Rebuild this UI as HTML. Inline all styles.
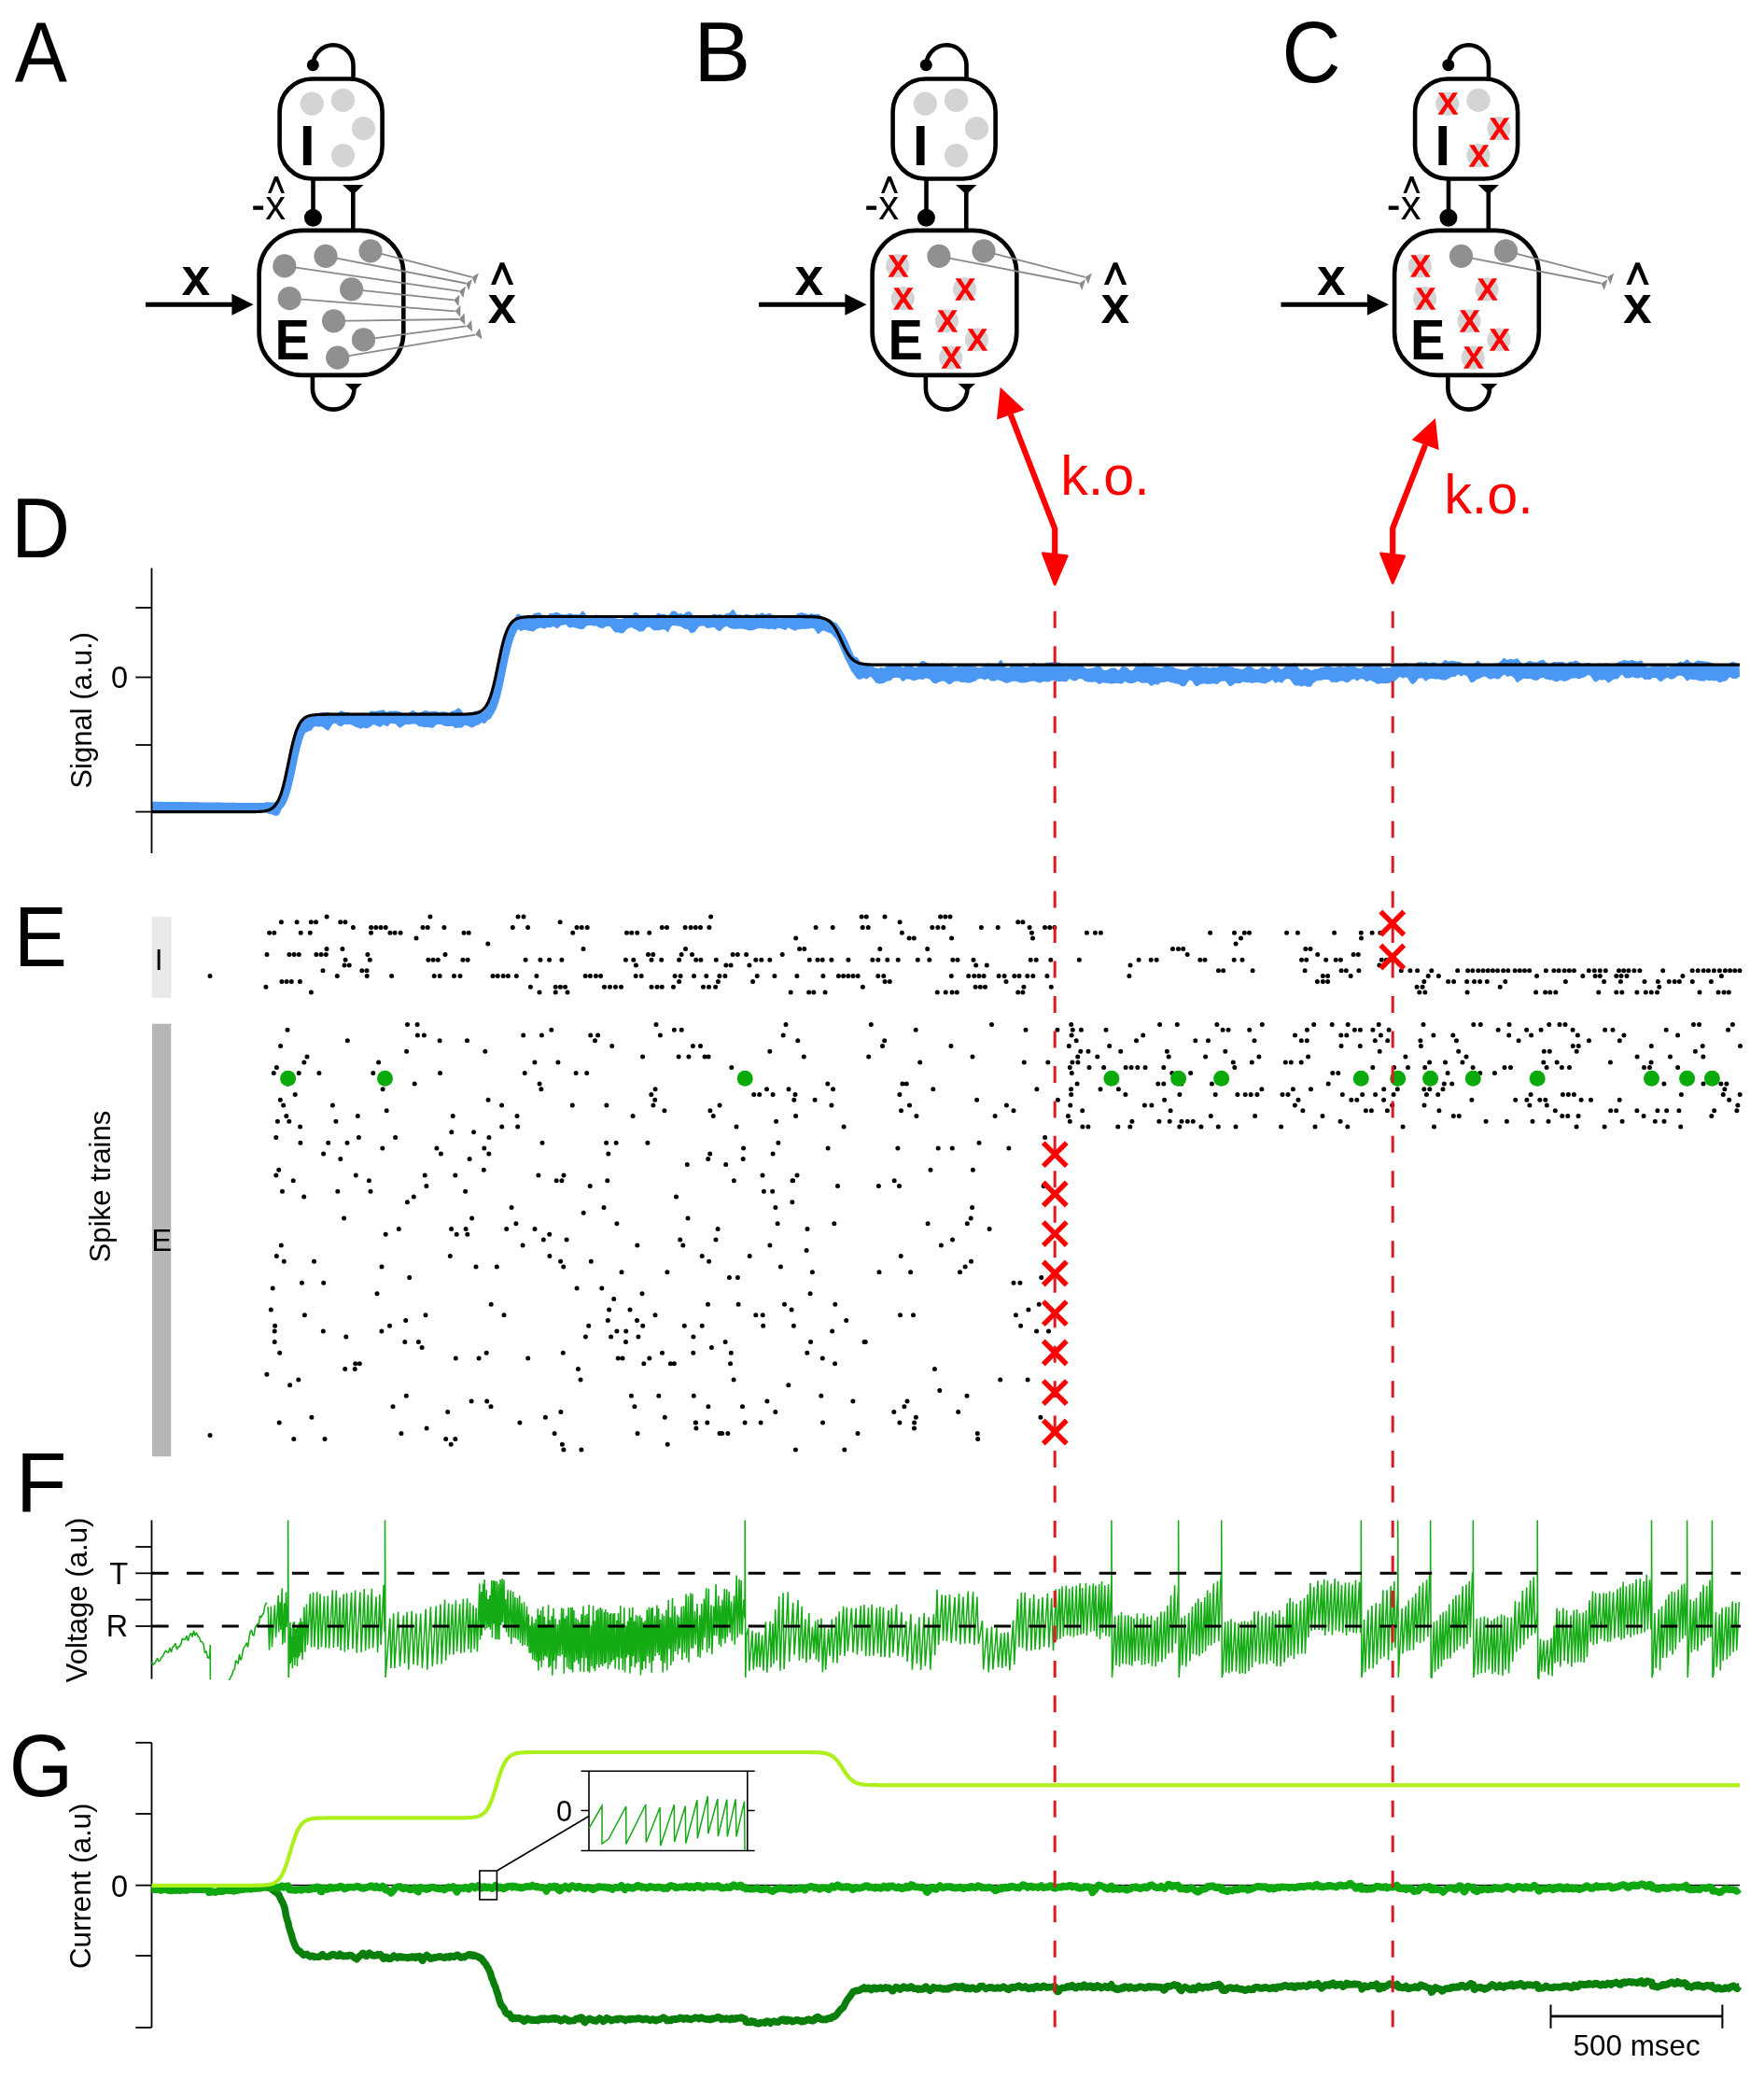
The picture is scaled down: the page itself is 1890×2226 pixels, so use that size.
<!DOCTYPE html><html><head><meta charset="utf-8"><title>figure</title><style>html,body{margin:0;padding:0;background:#fff;}svg{display:block;will-change:transform;}</style></head><body>
<svg width="1890" height="2226" viewBox="0 0 1890 2226" font-family="'Liberation Sans', sans-serif">
<rect width="1890" height="2226" fill="#fff"/>
<text transform="translate(15.7 86.8) scale(0.923 1)" font-size="91.4">A</text>
<text transform="translate(743.2 86.8) scale(1.000 1)" font-size="91.4">B</text>
<text transform="translate(1373.5 87.6) scale(0.933 1)" font-size="93.6">C</text>
<text transform="translate(12.1 597.4) scale(0.957 1)" font-size="91.4">D</text>
<text transform="translate(15.1 1034.9) scale(0.933 1)" font-size="91.4">E</text>
<text transform="translate(17 1618.9) scale(0.975 1)" font-size="91.4">F</text>
<text transform="translate(9.8 1923.8) scale(0.937 1)" font-size="94">G</text>
<g transform="translate(0 0)">
<rect x="299.6" y="84.5" width="110" height="107" rx="35" fill="none" stroke="#000" stroke-width="4.6"/>
<rect x="277.6" y="246.9" width="154.7" height="155" rx="46" fill="none" stroke="#000" stroke-width="4.6"/>
<path d="M378.5 84 V69.7 A21.5 21.5 0 0 0 335.5 69.7" fill="none" stroke="#000" stroke-width="4.6"/>
<circle cx="335.3" cy="69.7" r="6.5"/>
<path d="M335.5 193 V230" stroke="#000" stroke-width="4.6"/>
<circle cx="335.4" cy="233.3" r="9.5"/>
<path d="M378.3 205 V245" stroke="#000" stroke-width="4.6"/>
<path d="M367 198.1 H389.5 L378.3 208.5Z"/>
<path d="M334.9 403 V416.3 A22.3 22.3 0 0 0 379.5 416.3" fill="none" stroke="#000" stroke-width="4.6"/>
<path d="M369.7 411 H388 L378.8 419.5Z"/>
<path d="M156 326.3 H250" stroke="#000" stroke-width="4.9"/>
<path d="M248.4 314.8 L271.5 326.3 L248.4 337.8Z"/>
<text x="196.6" y="315" font-size="53.5" fill="#000" stroke="#000" stroke-width="2.2">x</text>
<path d="M525.9 305 535.9 281.3 540.2 281.3 550.2 305 545.2 305 538 287.9 530.9 305Z" fill="#000"/>
<text x="524.6" y="344.7" font-size="53.5" fill="#000" stroke="#000" stroke-width="2.2">x</text>
<rect x="271.2" y="220.5" width="10.9" height="4.3"/>
<path d="M287 207 294.1 189.1 297.8 189.1 304.9 207 301.4 207 295.9 194.1 290.5 207Z" fill="#000"/>
<text x="284.2" y="235.1" font-size="43.6" fill="#000">x</text>
<circle cx="334.3" cy="111.1" r="12.6" fill="#d4d4d4"/>
<circle cx="367.5" cy="107.4" r="12.6" fill="#d4d4d4"/>
<circle cx="389.5" cy="137.7" r="12.6" fill="#d4d4d4"/>
<circle cx="367.5" cy="166.6" r="12.6" fill="#d4d4d4"/>
<path d="M304.8 284.9 L491.9 311.9" stroke="#8a8a8a" stroke-width="1.8"/>
<path d="M491.9 311.9 L496.4 319.2 L498.8 306.8 Z" fill="#8a8a8a"/>
<path d="M349 274.4 L499.1 303.5" stroke="#8a8a8a" stroke-width="1.8"/>
<path d="M499.1 303.5 L502.3 311.1 L506.1 299.1 Z" fill="#8a8a8a"/>
<path d="M397 268.8 L505.7 296.8" stroke="#8a8a8a" stroke-width="1.8"/>
<path d="M505.7 296.8 L508.9 304.5 L512.9 292.5 Z" fill="#8a8a8a"/>
<path d="M376.6 309.8 L486.1 321.3" stroke="#8a8a8a" stroke-width="1.8"/>
<path d="M486.1 321.3 L491.3 328.2 L492.5 315.6 Z" fill="#8a8a8a"/>
<path d="M310.2 319.7 L487.6 333.3" stroke="#8a8a8a" stroke-width="1.8"/>
<path d="M487.6 333.3 L493.2 339.7 L493.4 327.1 Z" fill="#8a8a8a"/>
<path d="M357.5 343.8 L491.9 342" stroke="#8a8a8a" stroke-width="1.8"/>
<path d="M491.9 342 L498.3 347.9 L497.5 335.3 Z" fill="#8a8a8a"/>
<path d="M389.5 363.9 L499.6 349.4" stroke="#8a8a8a" stroke-width="1.8"/>
<path d="M499.6 349.4 L506 355.3 L505.2 342.7 Z" fill="#8a8a8a"/>
<path d="M361.7 383.2 L509.3 358.6" stroke="#8a8a8a" stroke-width="1.8"/>
<path d="M509.3 358.6 L516.5 363.6 L513.9 351.2 Z" fill="#8a8a8a"/>
<circle cx="304.8" cy="284.9" r="12.6" fill="#909090"/>
<circle cx="349" cy="274.4" r="12.6" fill="#909090"/>
<circle cx="397" cy="268.8" r="12.6" fill="#909090"/>
<circle cx="376.6" cy="309.8" r="12.6" fill="#909090"/>
<circle cx="310.2" cy="319.7" r="12.6" fill="#909090"/>
<circle cx="357.5" cy="343.8" r="12.6" fill="#909090"/>
<circle cx="389.5" cy="363.9" r="12.6" fill="#909090"/>
<circle cx="361.7" cy="383.2" r="12.6" fill="#909090"/>
<text x="320.8" y="177.4" font-size="61" font-weight="bold">I</text>
<text transform="translate(294.6 385.4) scale(0.926 1)" font-size="60.5" font-weight="bold">E</text>
</g>
<g transform="translate(657 0)">
<rect x="299.6" y="84.5" width="110" height="107" rx="35" fill="none" stroke="#000" stroke-width="4.6"/>
<rect x="277.6" y="246.9" width="154.7" height="155" rx="46" fill="none" stroke="#000" stroke-width="4.6"/>
<path d="M378.5 84 V69.7 A21.5 21.5 0 0 0 335.5 69.7" fill="none" stroke="#000" stroke-width="4.6"/>
<circle cx="335.3" cy="69.7" r="6.5"/>
<path d="M335.5 193 V230" stroke="#000" stroke-width="4.6"/>
<circle cx="335.4" cy="233.3" r="9.5"/>
<path d="M378.3 205 V245" stroke="#000" stroke-width="4.6"/>
<path d="M367 198.1 H389.5 L378.3 208.5Z"/>
<path d="M334.9 403 V416.3 A22.3 22.3 0 0 0 379.5 416.3" fill="none" stroke="#000" stroke-width="4.6"/>
<path d="M369.7 411 H388 L378.8 419.5Z"/>
<path d="M156 326.3 H250" stroke="#000" stroke-width="4.9"/>
<path d="M248.4 314.8 L271.5 326.3 L248.4 337.8Z"/>
<text x="196.6" y="315" font-size="53.5" fill="#000" stroke="#000" stroke-width="2.2">x</text>
<path d="M525.9 305 535.9 281.3 540.2 281.3 550.2 305 545.2 305 538 287.9 530.9 305Z" fill="#000"/>
<text x="524.6" y="344.7" font-size="53.5" fill="#000" stroke="#000" stroke-width="2.2">x</text>
<rect x="271.2" y="220.5" width="10.9" height="4.3"/>
<path d="M287 207 294.1 189.1 297.8 189.1 304.9 207 301.4 207 295.9 194.1 290.5 207Z" fill="#000"/>
<text x="284.2" y="235.1" font-size="43.6" fill="#000">x</text>
<circle cx="334.3" cy="111.1" r="12.6" fill="#d4d4d4"/>
<circle cx="367.5" cy="107.4" r="12.6" fill="#d4d4d4"/>
<circle cx="389.5" cy="137.7" r="12.6" fill="#d4d4d4"/>
<circle cx="367.5" cy="166.6" r="12.6" fill="#d4d4d4"/>
<path d="M349 274.4 L499.1 303.5" stroke="#8a8a8a" stroke-width="1.8"/>
<path d="M499.1 303.5 L502.3 311.1 L506.1 299.1 Z" fill="#8a8a8a"/>
<path d="M397 268.8 L505.7 296.8" stroke="#8a8a8a" stroke-width="1.8"/>
<path d="M505.7 296.8 L508.9 304.5 L512.9 292.5 Z" fill="#8a8a8a"/>
<circle cx="304.8" cy="284.9" r="12.6" fill="#d4d4d4"/>
<circle cx="349" cy="274.4" r="12.6" fill="#909090"/>
<circle cx="397" cy="268.8" r="12.6" fill="#909090"/>
<circle cx="376.6" cy="309.8" r="12.6" fill="#d4d4d4"/>
<circle cx="310.2" cy="319.7" r="12.6" fill="#d4d4d4"/>
<circle cx="357.5" cy="343.8" r="12.6" fill="#d4d4d4"/>
<circle cx="389.5" cy="363.9" r="12.6" fill="#d4d4d4"/>
<circle cx="361.7" cy="383.2" r="12.6" fill="#d4d4d4"/>
<text x="320.8" y="177.4" font-size="61" font-weight="bold">I</text>
<text transform="translate(294.6 385.4) scale(0.926 1)" font-size="60.5" font-weight="bold">E</text>
<text x="305.4" y="296" font-size="40.7" fill="#ff0000" text-anchor="middle" stroke="#ff0000" stroke-width="1.3">x</text>
<text x="377.2" y="320.9" font-size="40.7" fill="#ff0000" text-anchor="middle" stroke="#ff0000" stroke-width="1.3">x</text>
<text x="310.8" y="330.8" font-size="40.7" fill="#ff0000" text-anchor="middle" stroke="#ff0000" stroke-width="1.3">x</text>
<text x="358.1" y="354.9" font-size="40.7" fill="#ff0000" text-anchor="middle" stroke="#ff0000" stroke-width="1.3">x</text>
<text x="390.1" y="375" font-size="40.7" fill="#ff0000" text-anchor="middle" stroke="#ff0000" stroke-width="1.3">x</text>
<text x="362.3" y="394.3" font-size="40.7" fill="#ff0000" text-anchor="middle" stroke="#ff0000" stroke-width="1.3">x</text>
</g>
<g transform="translate(1216.5 0)">
<rect x="299.6" y="84.5" width="110" height="107" rx="35" fill="none" stroke="#000" stroke-width="4.6"/>
<rect x="277.6" y="246.9" width="154.7" height="155" rx="46" fill="none" stroke="#000" stroke-width="4.6"/>
<path d="M378.5 84 V69.7 A21.5 21.5 0 0 0 335.5 69.7" fill="none" stroke="#000" stroke-width="4.6"/>
<circle cx="335.3" cy="69.7" r="6.5"/>
<path d="M335.5 193 V230" stroke="#000" stroke-width="4.6"/>
<circle cx="335.4" cy="233.3" r="9.5"/>
<path d="M378.3 205 V245" stroke="#000" stroke-width="4.6"/>
<path d="M367 198.1 H389.5 L378.3 208.5Z"/>
<path d="M334.9 403 V416.3 A22.3 22.3 0 0 0 379.5 416.3" fill="none" stroke="#000" stroke-width="4.6"/>
<path d="M369.7 411 H388 L378.8 419.5Z"/>
<path d="M156 326.3 H250" stroke="#000" stroke-width="4.9"/>
<path d="M248.4 314.8 L271.5 326.3 L248.4 337.8Z"/>
<text x="196.6" y="315" font-size="53.5" fill="#000" stroke="#000" stroke-width="2.2">x</text>
<path d="M525.9 305 535.9 281.3 540.2 281.3 550.2 305 545.2 305 538 287.9 530.9 305Z" fill="#000"/>
<text x="524.6" y="344.7" font-size="53.5" fill="#000" stroke="#000" stroke-width="2.2">x</text>
<rect x="271.2" y="220.5" width="10.9" height="4.3"/>
<path d="M287 207 294.1 189.1 297.8 189.1 304.9 207 301.4 207 295.9 194.1 290.5 207Z" fill="#000"/>
<text x="284.2" y="235.1" font-size="43.6" fill="#000">x</text>
<circle cx="334.3" cy="111.1" r="12.6" fill="#d4d4d4"/>
<circle cx="367.5" cy="107.4" r="12.6" fill="#d4d4d4"/>
<circle cx="389.5" cy="137.7" r="12.6" fill="#d4d4d4"/>
<circle cx="367.5" cy="166.6" r="12.6" fill="#d4d4d4"/>
<path d="M349 274.4 L499.1 303.5" stroke="#8a8a8a" stroke-width="1.8"/>
<path d="M499.1 303.5 L502.3 311.1 L506.1 299.1 Z" fill="#8a8a8a"/>
<path d="M397 268.8 L505.7 296.8" stroke="#8a8a8a" stroke-width="1.8"/>
<path d="M505.7 296.8 L508.9 304.5 L512.9 292.5 Z" fill="#8a8a8a"/>
<circle cx="304.8" cy="284.9" r="12.6" fill="#d4d4d4"/>
<circle cx="349" cy="274.4" r="12.6" fill="#909090"/>
<circle cx="397" cy="268.8" r="12.6" fill="#909090"/>
<circle cx="376.6" cy="309.8" r="12.6" fill="#d4d4d4"/>
<circle cx="310.2" cy="319.7" r="12.6" fill="#d4d4d4"/>
<circle cx="357.5" cy="343.8" r="12.6" fill="#d4d4d4"/>
<circle cx="389.5" cy="363.9" r="12.6" fill="#d4d4d4"/>
<circle cx="361.7" cy="383.2" r="12.6" fill="#d4d4d4"/>
<text x="320.8" y="177.4" font-size="61" font-weight="bold">I</text>
<text transform="translate(294.6 385.4) scale(0.926 1)" font-size="60.5" font-weight="bold">E</text>
<text x="305.4" y="296" font-size="40.7" fill="#ff0000" text-anchor="middle" stroke="#ff0000" stroke-width="1.3">x</text>
<text x="377.2" y="320.9" font-size="40.7" fill="#ff0000" text-anchor="middle" stroke="#ff0000" stroke-width="1.3">x</text>
<text x="310.8" y="330.8" font-size="40.7" fill="#ff0000" text-anchor="middle" stroke="#ff0000" stroke-width="1.3">x</text>
<text x="358.1" y="354.9" font-size="40.7" fill="#ff0000" text-anchor="middle" stroke="#ff0000" stroke-width="1.3">x</text>
<text x="390.1" y="375" font-size="40.7" fill="#ff0000" text-anchor="middle" stroke="#ff0000" stroke-width="1.3">x</text>
<text x="362.3" y="394.3" font-size="40.7" fill="#ff0000" text-anchor="middle" stroke="#ff0000" stroke-width="1.3">x</text>
<text x="334.9" y="122.2" font-size="40.7" fill="#ff0000" text-anchor="middle" stroke="#ff0000" stroke-width="1.3">x</text>
<text x="390.1" y="148.8" font-size="40.7" fill="#ff0000" text-anchor="middle" stroke="#ff0000" stroke-width="1.3">x</text>
<text x="368.1" y="177.7" font-size="40.7" fill="#ff0000" text-anchor="middle" stroke="#ff0000" stroke-width="1.3">x</text>
</g>
<path d="M162.5 859.2 L163.5 859.2 L164.5 859.2 L165.5 859.2 L166.5 859.3 L167.5 859.3 L168.5 859.3 L169.5 859.3 L170.5 859.3 L171.5 859.3 L172.5 859.3 L173.5 859.3 L174.5 859.4 L175.5 859.4 L176.5 859.4 L177.5 859.4 L178.5 859.4 L179.5 859.4 L180.5 859.4 L181.5 859.4 L182.5 859.5 L183.5 859.5 L184.5 859.5 L185.5 859.5 L186.5 859.5 L187.5 859.5 L188.5 859.5 L189.5 859.5 L190.5 859.6 L191.5 859.6 L192.5 859.6 L193.5 859.6 L194.5 859.6 L195.5 859.6 L196.5 859.6 L197.5 859.7 L198.5 859.7 L199.5 859.7 L200.5 859.7 L201.5 859.7 L202.5 859.7 L203.5 859.7 L204.5 859.7 L205.5 859.8 L206.5 859.8 L207.5 859.8 L208.5 859.8 L209.5 859.8 L210.5 859.8 L211.5 859.8 L212.5 859.8 L213.5 859.9 L214.5 859.9 L215.5 859.9 L216.5 859.9 L217.5 859.9 L218.5 859.9 L219.5 859.9 L220.5 859.9 L221.5 860 L222.5 860 L223.5 860 L224.5 860 L225.5 860 L226.5 860 L227.5 860 L228.5 860 L229.5 860.1 L230.5 860.1 L231.5 860.1 L232.5 860.1 L233.5 860.1 L234.5 860.1 L235.5 860.1 L236.5 860.1 L237.5 860.2 L238.5 860.2 L239.5 860.2 L240.5 860.2 L241.5 860.2 L242.5 860.2 L243.5 860.2 L244.5 860.2 L245.5 860.3 L246.5 860.3 L247.5 860.3 L248.5 860.3 L249.5 860.3 L250.5 860.3 L251.5 860.3 L252.5 860.3 L253.5 860.4 L254.5 860.4 L255.5 860.4 L256.5 860.4 L257.5 860.4 L258.5 860.4 L259.5 860.4 L260.5 860.4 L261.5 860.5 L262.5 860.5 L263.5 860.5 L264.5 860.5 L265.5 860.5 L266.5 860.5 L267.5 860.5 L268.5 860.5 L269.5 860.5 L270.5 860.5 L271.5 860.5 L272.5 860.5 L273.5 860.5 L274.5 860.5 L275.5 860.5 L276.5 860.5 L277.5 860.5 L278.5 860.5 L279.5 860.5 L280.5 860.5 L281.5 860.7 L282.5 860.9 L283.5 861 L284.5 861.2 L285.5 861.2 L286.5 861.2 L287.5 861 L288.5 860.9 L289.5 860.7 L290.5 860.6 L291.5 860.4 L292.5 860 L293.5 859.8 L294.5 859.7 L295.5 859.5 L296.5 858.9 L297.5 858 L298.5 856.8 L299.5 855.3 L300.5 853.6 L301.5 851.6 L302.5 849.5 L303.5 846.9 L304.5 843.9 L305.5 840.9 L306.5 838.1 L307.5 835.2 L308.5 832 L309.5 828 L310.5 823.5 L311.5 818.8 L312.5 814 L313.5 808.9 L314.5 803.8 L315.5 798.8 L316.5 794.4 L317.5 790.6 L318.5 787.4 L319.5 784.4 L320.5 781.4 L321.5 778.2 L322.5 775.2 L323.5 773 L324.5 771.7 L325.5 771.1 L326.5 771 L327.5 771 L328.5 771.1 L329.5 771 L330.5 770.7 L331.5 770 L332.5 769.2 L333.5 768.2 L334.5 767.5 L335.5 766.9 L336.5 766.5 L337.5 766.3 L338.5 766.1 L339.5 765.8 L340.5 765.3 L341.5 764.7 L342.5 764 L343.5 763.5 L344.5 763.3 L345.5 763.2 L346.5 763.1 L347.5 763 L348.5 763 L349.5 763.1 L350.5 763 L351.5 762.9 L352.5 763 L353.5 763.6 L354.5 764.5 L355.5 765.3 L356.5 765.7 L357.5 765.8 L358.5 765.7 L359.5 765.8 L360.5 765.7 L361.5 765.2 L362.5 764.1 L363.5 762.8 L364.5 761.7 L365.5 761.3 L366.5 761.5 L367.5 762 L368.5 762.5 L369.5 762.9 L370.5 763 L371.5 763 L372.5 763 L373.5 763.2 L374.5 763.7 L375.5 764.1 L376.5 764.4 L377.5 764.5 L378.5 764.7 L379.5 765 L380.5 765.4 L381.5 765.8 L382.5 766.1 L383.5 766.3 L384.5 766.3 L385.5 766.3 L386.5 766.2 L387.5 766.3 L388.5 766.5 L389.5 766.6 L390.5 766.4 L391.5 766.5 L392.5 766.6 L393.5 766.5 L394.5 765.5 L395.5 763.8 L396.5 762.1 L397.5 761.4 L398.5 761.4 L399.5 761.8 L400.5 762 L401.5 761.9 L402.5 761.8 L403.5 761.7 L404.5 761.6 L405.5 761.4 L406.5 761.2 L407.5 761 L408.5 760.8 L409.5 760.6 L410.5 760.4 L411.5 760.5 L412.5 761.4 L413.5 762.4 L414.5 762.8 L415.5 762.6 L416.5 762.1 L417.5 761.6 L418.5 761.4 L419.5 761.6 L420.5 761.7 L421.5 761.8 L422.5 761.6 L423.5 761.4 L424.5 761.5 L425.5 761.8 L426.5 762.1 L427.5 762.3 L428.5 762.3 L429.5 762.7 L430.5 763.5 L431.5 764.4 L432.5 764.8 L433.5 765.2 L434.5 765.4 L435.5 765.6 L436.5 765.4 L437.5 764.6 L438.5 763.5 L439.5 762.6 L440.5 761.8 L441.5 761.3 L442.5 761.1 L443.5 761.4 L444.5 762 L445.5 762.8 L446.5 763.3 L447.5 763.5 L448.5 763.4 L449.5 763.3 L450.5 763.2 L451.5 762.8 L452.5 762.2 L453.5 761.6 L454.5 761.3 L455.5 761.2 L456.5 761.2 L457.5 761.3 L458.5 761.7 L459.5 762.1 L460.5 762.2 L461.5 762.2 L462.5 762.2 L463.5 762.1 L464.5 762 L465.5 761.8 L466.5 761.7 L467.5 761.9 L468.5 762.3 L469.5 762.8 L470.5 763 L471.5 762.8 L472.5 762.4 L473.5 762.2 L474.5 762.3 L475.5 762.3 L476.5 762.4 L477.5 762.4 L478.5 762.8 L479.5 763.6 L480.5 764.2 L481.5 764 L482.5 763.1 L483.5 762 L484.5 761.5 L485.5 761.5 L486.5 761.3 L487.5 760.9 L488.5 760 L489.5 759.3 L490.5 758.7 L491.5 758.6 L492.5 758.9 L493.5 759.8 L494.5 761.2 L495.5 762.8 L496.5 764.3 L497.5 765.4 L498.5 765.8 L499.5 765.7 L500.5 765.4 L501.5 764.9 L502.5 764.3 L503.5 763.7 L504.5 763.2 L505.5 763 L506.5 762.8 L507.5 762.3 L508.5 761.9 L509.5 761.6 L510.5 761.6 L511.5 761.5 L512.5 761.4 L513.5 761.5 L514.5 762.1 L515.5 762.6 L516.5 762.9 L517.5 762.8 L518.5 762.4 L519.5 761.9 L520.5 760.9 L521.5 759.3 L522.5 757.5 L523.5 755.8 L524.5 754 L525.5 752.2 L526.5 750.2 L527.5 747.7 L528.5 744.5 L529.5 740.9 L530.5 737.2 L531.5 733.1 L532.5 728.7 L533.5 724.2 L534.5 719.8 L535.5 715.7 L536.5 711.7 L537.5 707.6 L538.5 703.9 L539.5 700.4 L540.5 696.3 L541.5 691.7 L542.5 686.9 L543.5 682.5 L544.5 678.9 L545.5 675.3 L546.5 672 L547.5 669.3 L548.5 667.2 L549.5 665.6 L550.5 663.9 L551.5 662 L552.5 660.2 L553.5 658.7 L554.5 657.7 L555.5 657.5 L556.5 658 L557.5 658.7 L558.5 659.3 L559.5 660 L560.5 660.7 L561.5 661 L562.5 660.9 L563.5 660.4 L564.5 660 L565.5 659.9 L566.5 659.9 L567.5 660 L568.5 660 L569.5 659.6 L570.5 658.8 L571.5 657.8 L572.5 657 L573.5 656.7 L574.5 656.8 L575.5 656.6 L576.5 656.3 L577.5 656.1 L578.5 656.4 L579.5 657.3 L580.5 658.4 L581.5 659.3 L582.5 659.6 L583.5 659.9 L584.5 660.3 L585.5 660.5 L586.5 660 L587.5 658.7 L588.5 657.4 L589.5 656.9 L590.5 657.1 L591.5 657.3 L592.5 657.2 L593.5 656.8 L594.5 656.3 L595.5 655.9 L596.5 655.8 L597.5 656 L598.5 656.5 L599.5 657.1 L600.5 657.7 L601.5 658.1 L602.5 658.3 L603.5 658.3 L604.5 658.3 L605.5 658.3 L606.5 658.4 L607.5 658.1 L608.5 657.6 L609.5 657.2 L610.5 657 L611.5 657.1 L612.5 657.4 L613.5 657.8 L614.5 658.2 L615.5 658.2 L616.5 658 L617.5 658 L618.5 658.3 L619.5 658.4 L620.5 658.2 L621.5 657.4 L622.5 656.1 L623.5 655.1 L624.5 654.6 L625.5 655.2 L626.5 656.6 L627.5 658.1 L628.5 659 L629.5 659.5 L630.5 659.6 L631.5 659.5 L632.5 659.5 L633.5 659.8 L634.5 659.9 L635.5 659.8 L636.5 659.3 L637.5 658.7 L638.5 658.5 L639.5 658.6 L640.5 658.8 L641.5 659 L642.5 659 L643.5 659 L644.5 659 L645.5 659.1 L646.5 659.3 L647.5 659.6 L648.5 659.8 L649.5 659.8 L650.5 659.7 L651.5 659.5 L652.5 659.4 L653.5 659.4 L654.5 659.6 L655.5 659.9 L656.5 660.5 L657.5 661.2 L658.5 661.8 L659.5 662.3 L660.5 662.6 L661.5 662.8 L662.5 662.9 L663.5 662.9 L664.5 662.8 L665.5 662.7 L666.5 662.7 L667.5 662.5 L668.5 662.1 L669.5 661.6 L670.5 661 L671.5 660.3 L672.5 659.7 L673.5 659.2 L674.5 659.1 L675.5 659.5 L676.5 659.7 L677.5 659 L678.5 657.7 L679.5 656.5 L680.5 655.9 L681.5 656.1 L682.5 656.5 L683.5 657.2 L684.5 658.1 L685.5 659.5 L686.5 660.8 L687.5 661.4 L688.5 661.4 L689.5 661.2 L690.5 661.1 L691.5 661.1 L692.5 661 L693.5 660.9 L694.5 660.8 L695.5 660.9 L696.5 661 L697.5 661 L698.5 660.6 L699.5 660.3 L700.5 660.1 L701.5 659.8 L702.5 659.1 L703.5 657.9 L704.5 656.9 L705.5 656.6 L706.5 657 L707.5 657.6 L708.5 657.9 L709.5 657.8 L710.5 657.8 L711.5 657.8 L712.5 658.1 L713.5 658.6 L714.5 659.1 L715.5 659.4 L716.5 659 L717.5 657.7 L718.5 656.2 L719.5 655 L720.5 654.5 L721.5 654.4 L722.5 654.5 L723.5 654.7 L724.5 655.3 L725.5 656.2 L726.5 657.3 L727.5 657.5 L728.5 657.1 L729.5 656.9 L730.5 657.3 L731.5 658 L732.5 658.1 L733.5 657.2 L734.5 656.3 L735.5 655.6 L736.5 655.4 L737.5 655.2 L738.5 655 L739.5 655.2 L740.5 656.2 L741.5 657.6 L742.5 658.8 L743.5 659.1 L744.5 659 L745.5 659 L746.5 659.1 L747.5 659.3 L748.5 659.7 L749.5 660 L750.5 660.1 L751.5 660 L752.5 659.9 L753.5 660 L754.5 660.4 L755.5 661.1 L756.5 661.9 L757.5 662.2 L758.5 662.1 L759.5 661.6 L760.5 660.8 L761.5 659.9 L762.5 658.8 L763.5 657.9 L764.5 657.6 L765.5 657.7 L766.5 657.9 L767.5 658.2 L768.5 658.5 L769.5 658.4 L770.5 658 L771.5 657.8 L772.5 658.1 L773.5 658.7 L774.5 659.1 L775.5 658.8 L776.5 658.2 L777.5 657.4 L778.5 657.1 L779.5 657.1 L780.5 656.9 L781.5 656.4 L782.5 655.4 L783.5 654.3 L784.5 653.3 L785.5 652.9 L786.5 653.5 L787.5 655.2 L788.5 657.1 L789.5 658.2 L790.5 658.5 L791.5 658.4 L792.5 658.2 L793.5 658.4 L794.5 658.8 L795.5 659 L796.5 658.9 L797.5 658.4 L798.5 657.9 L799.5 657.8 L800.5 658 L801.5 658.2 L802.5 658.4 L803.5 658.6 L804.5 659 L805.5 659.3 L806.5 659.5 L807.5 659.3 L808.5 658.7 L809.5 658 L810.5 657.5 L811.5 657.6 L812.5 658 L813.5 658.1 L814.5 657.6 L815.5 656.8 L816.5 656.3 L817.5 656.5 L818.5 657.2 L819.5 658 L820.5 658.3 L821.5 658 L822.5 657.2 L823.5 656.7 L824.5 656.9 L825.5 657.3 L826.5 657.8 L827.5 658.2 L828.5 658.9 L829.5 660 L830.5 661.2 L831.5 661.9 L832.5 662 L833.5 661.8 L834.5 661.6 L835.5 662 L836.5 662.7 L837.5 663.1 L838.5 662.5 L839.5 661.5 L840.5 660.5 L841.5 659.9 L842.5 659.8 L843.5 660.1 L844.5 660.9 L845.5 662 L846.5 663.5 L847.5 664.7 L848.5 665.2 L849.5 664.6 L850.5 662.9 L851.5 660.9 L852.5 659.4 L853.5 658 L854.5 657.1 L855.5 656.9 L856.5 656.8 L857.5 656.4 L858.5 656.1 L859.5 656.2 L860.5 656.5 L861.5 656.8 L862.5 657 L863.5 657.2 L864.5 657.8 L865.5 658.3 L866.5 658.3 L867.5 657.8 L868.5 657.2 L869.5 656.9 L870.5 657.2 L871.5 657.9 L872.5 658.3 L873.5 658.1 L874.5 657.9 L875.5 657.8 L876.5 657.8 L877.5 658 L878.5 658.5 L879.5 659.4 L880.5 660.5 L881.5 661.1 L882.5 661.3 L883.5 661.6 L884.5 662.1 L885.5 662.5 L886.5 662.9 L887.5 663.1 L888.5 663.2 L889.5 663.4 L890.5 663.9 L891.5 664.7 L892.5 665.7 L893.5 666.4 L894.5 666.6 L895.5 667 L896.5 667.8 L897.5 669 L898.5 670.3 L899.5 671.9 L900.5 672.8 L901.5 675.2 L902.5 677.8 L903.5 680.4 L904.5 682.8 L905.5 685.3 L906.5 687.9 L907.5 690.7 L908.5 693.4 L909.5 696.2 L910.5 698.7 L911.5 700.9 L912.5 702.3 L913.5 702.8 L914.5 702.9 L915.5 703.2 L916.5 703.4 L917.5 703.8 L918.5 704.4 L919.5 705.5 L920.5 707.1 L921.5 708.6 L922.5 709.6 L923.5 710.4 L924.5 711 L925.5 711.3 L926.5 711.4 L927.5 711.4 L928.5 711.3 L929.5 711.2 L930.5 711 L931.5 710.8 L932.5 710.8 L933.5 711.2 L934.5 712.3 L935.5 713.5 L936.5 714.8 L937.5 715.8 L938.5 716.6 L939.5 717 L940.5 716.9 L941.5 716.2 L942.5 715.4 L943.5 714.8 L944.5 714.9 L945.5 715.2 L946.5 715.4 L947.5 715.2 L948.5 714.8 L949.5 714.3 L950.5 713.8 L951.5 713.1 L952.5 712.4 L953.5 712 L954.5 712 L955.5 711.9 L956.5 711.8 L957.5 711.7 L958.5 711.4 L959.5 711.1 L960.5 711 L961.5 711.1 L962.5 711.5 L963.5 712.2 L964.5 713.2 L965.5 714.1 L966.5 714.8 L967.5 715 L968.5 714.6 L969.5 713.9 L970.5 712.8 L971.5 711.9 L972.5 711.2 L973.5 710.8 L974.5 710.7 L975.5 711.1 L976.5 712.1 L977.5 713.3 L978.5 714.3 L979.5 715.1 L980.5 715.6 L981.5 715.7 L982.5 715 L983.5 713.4 L984.5 711.6 L985.5 709.9 L986.5 708.8 L987.5 708.2 L988.5 708 L989.5 708.1 L990.5 708.4 L991.5 708.9 L992.5 709.5 L993.5 710.1 L994.5 710.5 L995.5 710.7 L996.5 711.3 L997.5 712.2 L998.5 712.9 L999.5 713.1 L1000.5 712.6 L1001.5 711.9 L1002.5 711.6 L1003.5 711.9 L1004.5 712.4 L1005.5 712.7 L1006.5 712.5 L1007.5 711.6 L1008.5 710.6 L1009.5 710.1 L1010.5 710.4 L1011.5 711.2 L1012.5 711.8 L1013.5 712.1 L1014.5 712 L1015.5 711.7 L1016.5 711.6 L1017.5 712 L1018.5 712.8 L1019.5 713.7 L1020.5 714.2 L1021.5 714.5 L1022.5 714.7 L1023.5 714.9 L1024.5 714.7 L1025.5 714.2 L1026.5 713.5 L1027.5 713 L1028.5 713 L1029.5 713.2 L1030.5 713.3 L1031.5 713.3 L1032.5 713.2 L1033.5 713 L1034.5 712.5 L1035.5 712 L1036.5 711.6 L1037.5 711.3 L1038.5 711.3 L1039.5 711.8 L1040.5 712.6 L1041.5 713.5 L1042.5 713.9 L1043.5 713.9 L1044.5 713.8 L1045.5 714.2 L1046.5 715.1 L1047.5 715.9 L1048.5 716 L1049.5 715.5 L1050.5 714.7 L1051.5 714.4 L1052.5 714.4 L1053.5 714.2 L1054.5 713.6 L1055.5 712.8 L1056.5 711.7 L1057.5 710.7 L1058.5 710.3 L1059.5 710.6 L1060.5 711.3 L1061.5 712 L1062.5 712.4 L1063.5 712.5 L1064.5 712.3 L1065.5 712.2 L1066.5 712.2 L1067.5 712 L1068.5 711.3 L1069.5 710.1 L1070.5 708.6 L1071.5 707.2 L1072.5 706.7 L1073.5 707.6 L1074.5 709.7 L1075.5 711.9 L1076.5 713.5 L1077.5 714.5 L1078.5 715.1 L1079.5 715.2 L1080.5 715.1 L1081.5 714.7 L1082.5 714 L1083.5 713.1 L1084.5 712.1 L1085.5 711.3 L1086.5 711 L1087.5 711 L1088.5 710.8 L1089.5 710.8 L1090.5 711.1 L1091.5 711.5 L1092.5 711.8 L1093.5 711.9 L1094.5 712.1 L1095.5 712.7 L1096.5 713.6 L1097.5 714.6 L1098.5 715 L1099.5 715 L1100.5 714.9 L1101.5 714.7 L1102.5 714.1 L1103.5 713.1 L1104.5 711.7 L1105.5 710.7 L1106.5 710.1 L1107.5 709.9 L1108.5 710.2 L1109.5 711 L1110.5 711.8 L1111.5 712.3 L1112.5 712.1 L1113.5 711.7 L1114.5 711.4 L1115.5 711.6 L1116.5 711.8 L1117.5 711.7 L1118.5 711.3 L1119.5 710.6 L1120.5 709.9 L1121.5 709.6 L1122.5 709.7 L1123.5 709.8 L1124.5 709.8 L1125.5 709.5 L1126.5 709.3 L1127.5 709.3 L1128.5 709.3 L1129.5 709.3 L1130.5 709 L1131.5 708.9 L1132.5 709.2 L1133.5 709.5 L1134.5 709.7 L1135.5 709.8 L1136.5 710.3 L1137.5 711.5 L1138.5 712.6 L1139.5 713.3 L1140.5 713.6 L1141.5 713.9 L1142.5 713.9 L1143.5 713.6 L1144.5 712.9 L1145.5 712.1 L1146.5 711.5 L1147.5 711.2 L1148.5 711.2 L1149.5 711.2 L1150.5 711.3 L1151.5 711.3 L1152.5 711.4 L1153.5 711.7 L1154.5 712.1 L1155.5 712.5 L1156.5 712.6 L1157.5 712.6 L1158.5 712.7 L1159.5 713 L1160.5 713.7 L1161.5 714.5 L1162.5 715.3 L1163.5 715.7 L1164.5 715.9 L1165.5 716.2 L1166.5 716.3 L1167.5 716 L1168.5 715.7 L1169.5 715.5 L1170.5 715.4 L1171.5 715.3 L1172.5 714.9 L1173.5 714.5 L1174.5 714.1 L1175.5 713.5 L1176.5 712.9 L1177.5 712.8 L1178.5 713.3 L1179.5 714.4 L1180.5 715.7 L1181.5 716.9 L1182.5 717.7 L1183.5 717.9 L1184.5 718 L1185.5 717.9 L1186.5 717.6 L1187.5 717.1 L1188.5 716.5 L1189.5 716 L1190.5 715.8 L1191.5 715.6 L1192.5 715.5 L1193.5 715.3 L1194.5 715.4 L1195.5 715.9 L1196.5 716.7 L1197.5 717.4 L1198.5 717.7 L1199.5 717.2 L1200.5 715.9 L1201.5 714.5 L1202.5 713.6 L1203.5 713.6 L1204.5 714.1 L1205.5 714.4 L1206.5 714.5 L1207.5 715 L1208.5 715.8 L1209.5 716.8 L1210.5 717.7 L1211.5 718.2 L1212.5 718.4 L1213.5 718 L1214.5 716.8 L1215.5 715.4 L1216.5 714.1 L1217.5 713 L1218.5 712.3 L1219.5 712 L1220.5 711.9 L1221.5 711.9 L1222.5 711.7 L1223.5 711.5 L1224.5 711 L1225.5 710.5 L1226.5 710.2 L1227.5 710.5 L1228.5 711.3 L1229.5 712.1 L1230.5 712.6 L1231.5 713 L1232.5 713.2 L1233.5 713.2 L1234.5 713.4 L1235.5 714 L1236.5 714.5 L1237.5 714.6 L1238.5 714.8 L1239.5 714.9 L1240.5 715 L1241.5 715.1 L1242.5 715.3 L1243.5 715.5 L1244.5 715.6 L1245.5 715 L1246.5 714.2 L1247.5 713.7 L1248.5 713.6 L1249.5 713.3 L1250.5 712.9 L1251.5 712.7 L1252.5 713.1 L1253.5 713.8 L1254.5 714.1 L1255.5 714.2 L1256.5 714.3 L1257.5 714.6 L1258.5 715.1 L1259.5 715.7 L1260.5 716.1 L1261.5 716.4 L1262.5 716.5 L1263.5 716.6 L1264.5 716.8 L1265.5 717.1 L1266.5 717.3 L1267.5 717.3 L1268.5 717.4 L1269.5 717.5 L1270.5 717.6 L1271.5 717.5 L1272.5 716.8 L1273.5 715.9 L1274.5 715.1 L1275.5 714.8 L1276.5 714.9 L1277.5 714.8 L1278.5 714.5 L1279.5 714.3 L1280.5 713.6 L1281.5 712.9 L1282.5 712.6 L1283.5 712.9 L1284.5 713.4 L1285.5 713.9 L1286.5 714.2 L1287.5 714.6 L1288.5 715 L1289.5 715 L1290.5 714.7 L1291.5 714.5 L1292.5 714.5 L1293.5 714.8 L1294.5 715.2 L1295.5 715.5 L1296.5 715.6 L1297.5 715.5 L1298.5 715.1 L1299.5 714.7 L1300.5 714.7 L1301.5 714.9 L1302.5 715.2 L1303.5 715.2 L1304.5 714.9 L1305.5 714.1 L1306.5 713.3 L1307.5 712.8 L1308.5 712.4 L1309.5 712.2 L1310.5 712.2 L1311.5 712.4 L1312.5 712.7 L1313.5 713 L1314.5 713.1 L1315.5 713.3 L1316.5 713.7 L1317.5 714.1 L1318.5 714.3 L1319.5 714.2 L1320.5 714.3 L1321.5 714.8 L1322.5 715.4 L1323.5 715.8 L1324.5 715.9 L1325.5 716 L1326.5 716.2 L1327.5 716.4 L1328.5 716.6 L1329.5 716.8 L1330.5 716.9 L1331.5 716.7 L1332.5 716.4 L1333.5 715.8 L1334.5 715.1 L1335.5 714.3 L1336.5 713.8 L1337.5 713.5 L1338.5 713.5 L1339.5 713.6 L1340.5 714 L1341.5 714.6 L1342.5 715.5 L1343.5 716.2 L1344.5 716.7 L1345.5 716.9 L1346.5 717 L1347.5 716.9 L1348.5 716.7 L1349.5 716.3 L1350.5 715.4 L1351.5 714.4 L1352.5 714 L1353.5 714.2 L1354.5 714.8 L1355.5 715.2 L1356.5 715.4 L1357.5 716 L1358.5 716.7 L1359.5 717 L1360.5 716.5 L1361.5 715.2 L1362.5 714 L1363.5 713.6 L1364.5 713.3 L1365.5 713.3 L1366.5 713.2 L1367.5 713.5 L1368.5 714.2 L1369.5 715 L1370.5 715.7 L1371.5 716.4 L1372.5 716.9 L1373.5 716.9 L1374.5 716.3 L1375.5 715.3 L1376.5 714.3 L1377.5 713.5 L1378.5 712.6 L1379.5 711.9 L1380.5 711.7 L1381.5 712 L1382.5 712.6 L1383.5 713 L1384.5 712.7 L1385.5 711.5 L1386.5 710.2 L1387.5 710 L1388.5 710.9 L1389.5 712.4 L1390.5 714.1 L1391.5 715.4 L1392.5 716.5 L1393.5 717.3 L1394.5 717.6 L1395.5 717.3 L1396.5 716.4 L1397.5 715.5 L1398.5 715 L1399.5 715.4 L1400.5 716.3 L1401.5 716.6 L1402.5 716.8 L1403.5 717.3 L1404.5 717.9 L1405.5 718.3 L1406.5 717.9 L1407.5 717.1 L1408.5 716.7 L1409.5 716.7 L1410.5 716.8 L1411.5 716.7 L1412.5 716.2 L1413.5 715.7 L1414.5 715.3 L1415.5 715.1 L1416.5 714.9 L1417.5 714.8 L1418.5 714.6 L1419.5 714.2 L1420.5 713.5 L1421.5 712.9 L1422.5 712.7 L1423.5 712.9 L1424.5 713.4 L1425.5 713.9 L1426.5 714.3 L1427.5 714.7 L1428.5 714.9 L1429.5 715 L1430.5 715 L1431.5 714.7 L1432.5 714.3 L1433.5 714.1 L1434.5 713.9 L1435.5 713.9 L1436.5 713.8 L1437.5 714 L1438.5 714.3 L1439.5 714.5 L1440.5 714.4 L1441.5 713.8 L1442.5 713.3 L1443.5 713 L1444.5 713 L1445.5 713.3 L1446.5 713.7 L1447.5 714 L1448.5 714 L1449.5 714 L1450.5 714 L1451.5 714.1 L1452.5 714.5 L1453.5 715 L1454.5 715.3 L1455.5 715.7 L1456.5 716.1 L1457.5 716.2 L1458.5 715.7 L1459.5 714.9 L1460.5 714.1 L1461.5 713.6 L1462.5 713.1 L1463.5 712.6 L1464.5 712.5 L1465.5 712.4 L1466.5 712.3 L1467.5 712.3 L1468.5 712.3 L1469.5 712.8 L1470.5 713.5 L1471.5 713.9 L1472.5 713.6 L1473.5 713 L1474.5 712.4 L1475.5 712.3 L1476.5 712.5 L1477.5 712.9 L1478.5 713 L1479.5 713.4 L1480.5 714.4 L1481.5 715.4 L1482.5 715.9 L1483.5 715.8 L1484.5 715.3 L1485.5 715 L1486.5 715 L1487.5 715.3 L1488.5 715.4 L1489.5 715 L1490.5 714.2 L1491.5 713.3 L1492.5 712.8 L1493.5 712.5 L1494.5 712.4 L1495.5 712.5 L1496.5 712.6 L1497.5 712.8 L1498.5 713 L1499.5 713 L1500.5 712.7 L1501.5 712.2 L1502.5 711.7 L1503.5 711.4 L1504.5 710.8 L1505.5 710.1 L1506.5 709.9 L1507.5 710.4 L1508.5 711.6 L1509.5 712.9 L1510.5 713.6 L1511.5 714 L1512.5 714.2 L1513.5 714.2 L1514.5 713.9 L1515.5 713.3 L1516.5 712.1 L1517.5 710.7 L1518.5 709.8 L1519.5 709.4 L1520.5 709.4 L1521.5 709.3 L1522.5 709.2 L1523.5 709.3 L1524.5 709.7 L1525.5 709.6 L1526.5 709.2 L1527.5 708.9 L1528.5 709.2 L1529.5 709.9 L1530.5 710.6 L1531.5 710.8 L1532.5 710.3 L1533.5 709.7 L1534.5 709.4 L1535.5 709.4 L1536.5 709.4 L1537.5 709.5 L1538.5 710 L1539.5 711.4 L1540.5 713.1 L1541.5 714 L1542.5 713.5 L1543.5 712 L1544.5 710.4 L1545.5 709.4 L1546.5 708.2 L1547.5 707.2 L1548.5 706.9 L1549.5 707.2 L1550.5 707.9 L1551.5 708.4 L1552.5 708.4 L1553.5 708.3 L1554.5 708 L1555.5 707.8 L1556.5 707.7 L1557.5 707.9 L1558.5 708.3 L1559.5 708.6 L1560.5 708.7 L1561.5 708.7 L1562.5 708.7 L1563.5 708.8 L1564.5 709.1 L1565.5 709.6 L1566.5 710.3 L1567.5 711.1 L1568.5 711.9 L1569.5 712.4 L1570.5 712.5 L1571.5 712.3 L1572.5 712.2 L1573.5 712.3 L1574.5 712.3 L1575.5 712.2 L1576.5 712.1 L1577.5 712.1 L1578.5 711.8 L1579.5 711.2 L1580.5 710.2 L1581.5 709 L1582.5 708 L1583.5 707.7 L1584.5 708.2 L1585.5 709.2 L1586.5 710.3 L1587.5 711 L1588.5 711.3 L1589.5 711.4 L1590.5 711.4 L1591.5 711.4 L1592.5 711.6 L1593.5 711.8 L1594.5 712.1 L1595.5 712.2 L1596.5 712.2 L1597.5 712.1 L1598.5 711.9 L1599.5 711.8 L1600.5 711.5 L1601.5 711 L1602.5 710.6 L1603.5 710.4 L1604.5 710.3 L1605.5 710 L1606.5 709.2 L1607.5 708.4 L1608.5 707.7 L1609.5 706.6 L1610.5 705.5 L1611.5 704.9 L1612.5 705.2 L1613.5 706.1 L1614.5 706.8 L1615.5 706.9 L1616.5 706.5 L1617.5 706 L1618.5 705.7 L1619.5 705.9 L1620.5 706.2 L1621.5 706.5 L1622.5 706.3 L1623.5 705.8 L1624.5 705.4 L1625.5 705.3 L1626.5 705.8 L1627.5 706.9 L1628.5 708.2 L1629.5 709.3 L1630.5 710.1 L1631.5 710.5 L1632.5 710.7 L1633.5 710.5 L1634.5 710 L1635.5 709.4 L1636.5 708.9 L1637.5 708.3 L1638.5 707.9 L1639.5 707.9 L1640.5 708.2 L1641.5 708.7 L1642.5 709.1 L1643.5 709.2 L1644.5 709.3 L1645.5 709.4 L1646.5 709.4 L1647.5 709.1 L1648.5 708.4 L1649.5 707.8 L1650.5 707.5 L1651.5 707.2 L1652.5 706.8 L1653.5 706.7 L1654.5 707.2 L1655.5 708.4 L1656.5 709.4 L1657.5 709.9 L1658.5 710.7 L1659.5 711.6 L1660.5 711.9 L1661.5 711.4 L1662.5 710.3 L1663.5 709.2 L1664.5 708.9 L1665.5 708.9 L1666.5 709 L1667.5 709.2 L1668.5 709.2 L1669.5 709 L1670.5 708.9 L1671.5 708.9 L1672.5 708.9 L1673.5 708.9 L1674.5 708.8 L1675.5 709.3 L1676.5 710.4 L1677.5 711.3 L1678.5 711.4 L1679.5 710.6 L1680.5 709.5 L1681.5 708.7 L1682.5 708.6 L1683.5 708.9 L1684.5 709.1 L1685.5 708.8 L1686.5 708.3 L1687.5 707.8 L1688.5 707.6 L1689.5 707.9 L1690.5 708.5 L1691.5 709.2 L1692.5 709.7 L1693.5 710.3 L1694.5 711 L1695.5 711.3 L1696.5 711.2 L1697.5 710.8 L1698.5 710.4 L1699.5 710.3 L1700.5 710.1 L1701.5 709.9 L1702.5 709.8 L1703.5 710.1 L1704.5 710.9 L1705.5 711.7 L1706.5 712.2 L1707.5 712.3 L1708.5 712.1 L1709.5 712.1 L1710.5 711.8 L1711.5 711.1 L1712.5 710.3 L1713.5 709.9 L1714.5 710.4 L1715.5 711.2 L1716.5 711.6 L1717.5 711.3 L1718.5 710.7 L1719.5 710.3 L1720.5 710.3 L1721.5 710.5 L1722.5 710.7 L1723.5 710.7 L1724.5 710.9 L1725.5 711.5 L1726.5 712 L1727.5 711.9 L1728.5 711.5 L1729.5 711 L1730.5 710.8 L1731.5 710.6 L1732.5 710 L1733.5 709.3 L1734.5 708.7 L1735.5 708.4 L1736.5 708.3 L1737.5 708.2 L1738.5 707.7 L1739.5 707 L1740.5 706.8 L1741.5 707.2 L1742.5 707.6 L1743.5 707.7 L1744.5 707.8 L1745.5 707.7 L1746.5 707.6 L1747.5 707.3 L1748.5 707 L1749.5 707.1 L1750.5 707.5 L1751.5 707.9 L1752.5 708.3 L1753.5 708.5 L1754.5 708.5 L1755.5 708.3 L1756.5 707.9 L1757.5 707.5 L1758.5 707.3 L1759.5 708 L1760.5 709.8 L1761.5 711.7 L1762.5 713.1 L1763.5 713.9 L1764.5 714.4 L1765.5 714.6 L1766.5 714.7 L1767.5 714.5 L1768.5 714.3 L1769.5 714.1 L1770.5 713.8 L1771.5 713.4 L1772.5 713.2 L1773.5 713.2 L1774.5 713 L1775.5 712.7 L1776.5 712.1 L1777.5 711.6 L1778.5 711.2 L1779.5 711 L1780.5 710.9 L1781.5 710.9 L1782.5 711.1 L1783.5 711.7 L1784.5 713 L1785.5 714.5 L1786.5 715.1 L1787.5 714.9 L1788.5 714.4 L1789.5 713.9 L1790.5 713.7 L1791.5 713.2 L1792.5 712.6 L1793.5 712.1 L1794.5 711.8 L1795.5 711.2 L1796.5 710.7 L1797.5 710.4 L1798.5 709.6 L1799.5 708.9 L1800.5 708.6 L1801.5 708.8 L1802.5 709.4 L1803.5 709.5 L1804.5 708.8 L1805.5 707.7 L1806.5 706.7 L1807.5 706.3 L1808.5 706.8 L1809.5 707.8 L1810.5 708.8 L1811.5 709.4 L1812.5 709.8 L1813.5 709.9 L1814.5 710 L1815.5 709.6 L1816.5 708.7 L1817.5 707.9 L1818.5 707.4 L1819.5 707.4 L1820.5 707.7 L1821.5 707.8 L1822.5 707.9 L1823.5 708 L1824.5 708.2 L1825.5 708.4 L1826.5 708.6 L1827.5 708.7 L1828.5 708.8 L1829.5 708.8 L1830.5 709 L1831.5 709.2 L1832.5 709.5 L1833.5 709.8 L1834.5 710.2 L1835.5 710.5 L1836.5 710.7 L1837.5 710.8 L1838.5 710.9 L1839.5 711 L1840.5 711.4 L1841.5 711.8 L1842.5 711.9 L1843.5 712 L1844.5 712.1 L1845.5 712.4 L1846.5 712.7 L1847.5 712.8 L1848.5 712.7 L1849.5 712.4 L1850.5 712.1 L1851.5 711.5 L1852.5 710.8 L1853.5 710.1 L1854.5 709.5 L1855.5 709 L1856.5 708.8 L1857.5 709 L1858.5 709.3 L1859.5 709.7 L1860.5 710.3 L1861.5 710.8 L1862.5 711.1 L1863.5 711.2 L1864 725.1 L1863 725.2 L1862 726 L1861 726.8 L1860 727.2 L1859 727.1 L1858 727 L1857 726.9 L1856 726.8 L1855 726.2 L1854 725.5 L1853 725.6 L1852 726.6 L1851 728 L1850 729 L1849 729.4 L1848 729.6 L1847 729.9 L1846 730 L1845 730.3 L1844 730.9 L1843 731.3 L1842 731.3 L1841 730.6 L1840 729.7 L1839 729.2 L1838 729.2 L1837 729.3 L1836 729.4 L1835 729.1 L1834 728.9 L1833 728.9 L1832 729.2 L1831 729.3 L1830 728.9 L1829 728.6 L1828 728.6 L1827 729.1 L1826 729.7 L1825 729.7 L1824 729.5 L1823 729.5 L1822 729.5 L1821 729.4 L1820 729.1 L1819 728.8 L1818 728.4 L1817 728.2 L1816 728.2 L1815 728.3 L1814 728.2 L1813 727.9 L1812 727.5 L1811 727.4 L1810 727.9 L1809 728.7 L1808 729.4 L1807 729.2 L1806 728 L1805 726.4 L1804 725.2 L1803 724.6 L1802 724.1 L1801 723.8 L1800 723.7 L1799 723.8 L1798 724 L1797 724.4 L1796 725.1 L1795 726 L1794 726.7 L1793 727.1 L1792 727.4 L1791 727.6 L1790 727.7 L1789 727.4 L1788 726.6 L1787 726 L1786 726 L1785 726.5 L1784 727.2 L1783 727.9 L1782 728.6 L1781 729.4 L1780 730 L1779 730.2 L1778 729.7 L1777 728.7 L1776 727.7 L1775 726.7 L1774 725.7 L1773 725.1 L1772 725.1 L1771 725.7 L1770 726.6 L1769 727.4 L1768 727.9 L1767 728.1 L1766 728 L1765 727.8 L1764 728 L1763 728.2 L1762 728 L1761 727.3 L1760 726.3 L1759 725.7 L1758 725.6 L1757 725.9 L1756 726.4 L1755 726.5 L1754 726.5 L1753 726.5 L1752 726.2 L1751 725.8 L1750 725.5 L1749 725.3 L1748 725.5 L1747 725.9 L1746 726.2 L1745 726.4 L1744 726.5 L1743 726.6 L1742 726.6 L1741 726.1 L1740 725 L1739 723.5 L1738 722.7 L1737 722.9 L1736 724 L1735 725.5 L1734 726.6 L1733 727.2 L1732 727.4 L1731 727.4 L1730 727.5 L1729 727.8 L1728 728.4 L1727 729.1 L1726 729.8 L1725 730.7 L1724 731.3 L1723 731.4 L1722 730.6 L1721 729.3 L1720 728.4 L1719 728 L1718 728.3 L1717 728.7 L1716 728.7 L1715 728.3 L1714 728.1 L1713 728.5 L1712 729.3 L1711 730.1 L1710 730.5 L1709 730.4 L1708 729.7 L1707 728.5 L1706 727.1 L1705 725.5 L1704 723.9 L1703 722.9 L1702 722.8 L1701 723.3 L1700 724.1 L1699 724.7 L1698 725.3 L1697 725.8 L1696 726.1 L1695 726.1 L1694 726.5 L1693 727 L1692 727.4 L1691 727.3 L1690 726.9 L1689 726.5 L1688 726.5 L1687 726.5 L1686 726.6 L1685 726.6 L1684 726.7 L1683 727.2 L1682 727.8 L1681 728.2 L1680 728.7 L1679 729.3 L1678 729.6 L1677 729.7 L1676 729.7 L1675 729.7 L1674 729.6 L1673 729.1 L1672 728.6 L1671 728.8 L1670 729.5 L1669 730 L1668 730.3 L1667 730.2 L1666 730 L1665 729.7 L1664 729.1 L1663 728.5 L1662 728.3 L1661 728.4 L1660 728.4 L1659 728.1 L1658 727.8 L1657 727.7 L1656 727.4 L1655 726.7 L1654 726.1 L1653 726 L1652 726.1 L1651 726.4 L1650 726.8 L1649 727.4 L1648 728.2 L1647 728.8 L1646 728.9 L1645 728.8 L1644 728.7 L1643 728.5 L1642 728.1 L1641 727.6 L1640 727.2 L1639 727.1 L1638 727.1 L1637 727.2 L1636 727.2 L1635 727.1 L1634 727 L1633 726.9 L1632 727 L1631 727.6 L1630 728.4 L1629 728.9 L1628 729.5 L1627 730.4 L1626 731 L1625 730.8 L1624 729.4 L1623 727.6 L1622 726.2 L1621 725.3 L1620 724.4 L1619 723.9 L1618 723.9 L1617 724.3 L1616 724.8 L1615 724.9 L1614 724.3 L1613 723.3 L1612 722.7 L1611 722.9 L1610 723.6 L1609 724.7 L1608 725.8 L1607 726.7 L1606 727.3 L1605 727.5 L1604 727.5 L1603 727.1 L1602 726.7 L1601 726.5 L1600 726.7 L1599 727.1 L1598 727.5 L1597 727.7 L1596 727.5 L1595 727.1 L1594 726.5 L1593 725.7 L1592 724.9 L1591 724.4 L1590 724.4 L1589 724.8 L1588 725.5 L1587 726.1 L1586 726.6 L1585 727.1 L1584 727.5 L1583 727.6 L1582 728.1 L1581 729 L1580 729.9 L1579 730.5 L1578 731 L1577 731.2 L1576 731.1 L1575 730 L1574 728.2 L1573 726.3 L1572 724.8 L1571 723.5 L1570 722.8 L1569 722.6 L1568 723.1 L1567 723.9 L1566 724.6 L1565 724.4 L1564 723.4 L1563 722.4 L1562 722.4 L1561 723.2 L1560 724.3 L1559 724.9 L1558 724.9 L1557 724.9 L1556 724.9 L1555 725.2 L1554 725.7 L1553 726.4 L1552 726.9 L1551 727.4 L1550 728.1 L1549 728.6 L1548 728.7 L1547 728.6 L1546 728.6 L1545 728.5 L1544 728.3 L1543 727.9 L1542 727.6 L1541 727.4 L1540 727.4 L1539 727.5 L1538 727.5 L1537 727.4 L1536 727.2 L1535 727 L1534 727 L1533 727.1 L1532 727.3 L1531 727.5 L1530 727.9 L1529 728.7 L1528 729.4 L1527 729.4 L1526 728.4 L1525 727.1 L1524 726.4 L1523 726.3 L1522 726.4 L1521 726.5 L1520 726.6 L1519 727.7 L1518 729.2 L1517 730.6 L1516 731.6 L1515 732.4 L1514 732.9 L1513 732.9 L1512 732.1 L1511 730.9 L1510 729.6 L1509 728.1 L1508 726.6 L1507 725.5 L1506 725.5 L1505 725.9 L1504 726.3 L1503 726.4 L1502 726 L1501 725.6 L1500 725.2 L1499 725.5 L1498 726.3 L1497 727.5 L1496 728.5 L1495 729.3 L1494 730 L1493 730.5 L1492 730.8 L1491 731.1 L1490 731.3 L1489 731.6 L1488 731.9 L1487 732 L1486 732 L1485 732.2 L1484 732.2 L1483 732.2 L1482 732.1 L1481 732.1 L1480 732.2 L1479 732.3 L1478 732.4 L1477 732.6 L1476 732.7 L1475 732.4 L1474 731.8 L1473 731.1 L1472 730.5 L1471 730.3 L1470 729.6 L1469 728.9 L1468 728.8 L1467 729.1 L1466 729.7 L1465 730.2 L1464 730.1 L1463 729.5 L1462 728.6 L1461 727.8 L1460 727.4 L1459 727.2 L1458 727.2 L1457 727.4 L1456 728.2 L1455 729.1 L1454 729.5 L1453 729.1 L1452 728 L1451 727.1 L1450 727.1 L1449 727.6 L1448 728.4 L1447 729.3 L1446 730.1 L1445 730.8 L1444 731.2 L1443 731.3 L1442 731.1 L1441 730.6 L1440 730 L1439 729.6 L1438 729.4 L1437 729.4 L1436 729.5 L1435 729.9 L1434 730.5 L1433 731 L1432 731.2 L1431 731 L1430 730.8 L1429 730.8 L1428 730.9 L1427 730.9 L1426 730.3 L1425 729.4 L1424 728.6 L1423 728 L1422 727.9 L1421 727.8 L1420 727.7 L1419 727.8 L1418 728 L1417 728.3 L1416 728.6 L1415 728.7 L1414 728.4 L1413 728.1 L1412 728.2 L1411 729 L1410 730 L1409 730.7 L1408 730.9 L1407 732 L1406 733.6 L1405 735 L1404 735.7 L1403 735.8 L1402 735.7 L1401 735.7 L1400 735.4 L1399 735 L1398 734.6 L1397 734.5 L1396 735.1 L1395 735.6 L1394 735.6 L1393 735.1 L1392 734.4 L1391 734.2 L1390 734.4 L1389 734.5 L1388 734.5 L1387 734 L1386 733.1 L1385 731.8 L1384 730.4 L1383 729.1 L1382 727.9 L1381 727.2 L1380 727.1 L1379 727.2 L1378 727.4 L1377 727.9 L1376 728.9 L1375 730.2 L1374 731.2 L1373 731.5 L1372 731.2 L1371 730.7 L1370 730.3 L1369 730.4 L1368 731.1 L1367 731.7 L1366 731.6 L1365 730.4 L1364 728.8 L1363 728.3 L1362 728.9 L1361 729.8 L1360 730.5 L1359 730.7 L1358 731.1 L1357 731.7 L1356 732.2 L1355 732.4 L1354 732.3 L1353 732.1 L1352 732.1 L1351 731.8 L1350 731.5 L1349 731.2 L1348 731.1 L1347 731.1 L1346 731.1 L1345 731.1 L1344 731.3 L1343 731.6 L1342 732 L1341 731.9 L1340 731.5 L1339 731.2 L1338 731.1 L1337 731.2 L1336 731.2 L1335 731.1 L1334 730.9 L1333 730.6 L1332 730.5 L1331 730.7 L1330 731.3 L1329 731.9 L1328 732.2 L1327 732.1 L1326 731.9 L1325 731.7 L1324 731.8 L1323 732.2 L1322 733 L1321 733.8 L1320 734.5 L1319 735.1 L1318 735.2 L1317 734.8 L1316 733.8 L1315 732.2 L1314 730.7 L1313 729.8 L1312 729.6 L1311 729.7 L1310 729.8 L1309 729.8 L1308 730.1 L1307 730.8 L1306 731.7 L1305 732.4 L1304 732.8 L1303 732.9 L1302 732.7 L1301 732.4 L1300 732.2 L1299 732.3 L1298 732.5 L1297 732.7 L1296 732.7 L1295 732.8 L1294 732.9 L1293 732.8 L1292 732.6 L1291 732.4 L1290 732.3 L1289 732.5 L1288 732.6 L1287 732.7 L1286 733.1 L1285 733.8 L1284 734.6 L1283 735.1 L1282 735.2 L1281 734.7 L1280 733.8 L1279 732.5 L1278 730.8 L1277 729 L1276 727.8 L1275 727.6 L1274 728.5 L1273 730 L1272 731.7 L1271 733.3 L1270 734.5 L1269 735.3 L1268 735.3 L1267 735.2 L1266 734.9 L1265 734.4 L1264 733.7 L1263 733 L1262 732.5 L1261 732.4 L1260 732.4 L1259 732.3 L1258 731.9 L1257 731.4 L1256 731.3 L1255 731.3 L1254 731.2 L1253 730.6 L1252 729.9 L1251 729.9 L1250 730.2 L1249 730.6 L1248 730.8 L1247 730.9 L1246 730.9 L1245 730.9 L1244 731 L1243 731.6 L1242 732.7 L1241 733.5 L1240 733.6 L1239 733.3 L1238 733 L1237 732.9 L1236 733.4 L1235 734.2 L1234 734.7 L1233 734.7 L1232 733.9 L1231 732.7 L1230 731.8 L1229 731.5 L1228 731.6 L1227 731.7 L1226 731.8 L1225 731.8 L1224 731.8 L1223 731.7 L1222 731.3 L1221 730.6 L1220 730 L1219 730 L1218 730.3 L1217 730.8 L1216 731.3 L1215 731.6 L1214 731.8 L1213 731.9 L1212 731.9 L1211 732 L1210 732 L1209 731.8 L1208 731.3 L1207 730.7 L1206 730.3 L1205 730.3 L1204 731 L1203 731.9 L1202 732.5 L1201 732.5 L1200 732.3 L1199 732 L1198 732 L1197 731.9 L1196 731.9 L1195 731.9 L1194 732 L1193 732.3 L1192 732.6 L1191 732.6 L1190 732.5 L1189 732.2 L1188 731.9 L1187 731.8 L1186 731.7 L1185 731.7 L1184 731.7 L1183 731.5 L1182 731.3 L1181 731.5 L1180 732 L1179 732.6 L1178 733 L1177 732.8 L1176 732.1 L1175 731.2 L1174 730.4 L1173 730.2 L1172 730.5 L1171 730.8 L1170 730.8 L1169 730.7 L1168 730.6 L1167 730.6 L1166 730.7 L1165 730.5 L1164 730.3 L1163 730 L1162 729.4 L1161 728.6 L1160 727.8 L1159 727.2 L1158 727 L1157 726.9 L1156 727 L1155 727.7 L1154 728.7 L1153 729.2 L1152 729.3 L1151 729.3 L1150 729.3 L1149 729.1 L1148 728.3 L1147 727.5 L1146 727.3 L1145 728 L1144 729.2 L1143 730.2 L1142 730.3 L1141 730.2 L1140 730.2 L1139 730.1 L1138 730.1 L1137 729.9 L1136 729.9 L1135 729.9 L1134 730.1 L1133 730.3 L1132 730.3 L1131 730 L1130 729.4 L1129 729 L1128 728.8 L1127 729.1 L1126 729.5 L1125 729.9 L1124 730.3 L1123 730.4 L1122 730.4 L1121 730.5 L1120 730.3 L1119 730.1 L1118 730.2 L1117 730.6 L1116 731.1 L1115 731.5 L1114 731.5 L1113 731.4 L1112 731.1 L1111 730.6 L1110 730.2 L1109 729.8 L1108 729.7 L1107 729.6 L1106 729.7 L1105 729.8 L1104 730 L1103 730.3 L1102 730.6 L1101 730.9 L1100 730.9 L1099 731.1 L1098 731.4 L1097 731.5 L1096 731.5 L1095 731.4 L1094 731.4 L1093 731.4 L1092 731 L1091 730.5 L1090 730.2 L1089 730 L1088 729.8 L1087 729.7 L1086 729.8 L1085 729.9 L1084 730.1 L1083 730.4 L1082 730.8 L1081 731.3 L1080 731.7 L1079 731.8 L1078 731.7 L1077 731.4 L1076 731.1 L1075 730.6 L1074 729.9 L1073 729.5 L1072 729.3 L1071 729 L1070 728.6 L1069 728.2 L1068 728.4 L1067 729.1 L1066 729.6 L1065 729.7 L1064 729.6 L1063 729.5 L1062 729.4 L1061 728.9 L1060 727.9 L1059 727.2 L1058 727.1 L1057 727.6 L1056 728.2 L1055 728.5 L1054 728.2 L1053 727.6 L1052 727 L1051 726.8 L1050 726.9 L1049 727.1 L1048 727.4 L1047 728.1 L1046 729 L1045 729.7 L1044 729.9 L1043 730.1 L1042 730.6 L1041 731.1 L1040 731.5 L1039 731.4 L1038 731.4 L1037 731.6 L1036 731.6 L1035 731.5 L1034 731.1 L1033 730.8 L1032 730.9 L1031 731 L1030 731 L1029 730.7 L1028 730.3 L1027 729.8 L1026 729.6 L1025 729.7 L1024 729.8 L1023 729.8 L1022 730.2 L1021 730.9 L1020 731.7 L1019 732.4 L1018 732.9 L1017 733.1 L1016 733 L1015 732.3 L1014 731.2 L1013 730.5 L1012 730.1 L1011 729.8 L1010 729.7 L1009 729.8 L1008 730 L1007 730.4 L1006 730.8 L1005 731.3 L1004 731.9 L1003 732.2 L1002 732.3 L1001 732.1 L1000 731.7 L999 730.9 L998 729.8 L997 728.5 L996 727.6 L995 727.3 L994 726.9 L993 726.5 L992 726.4 L991 726.7 L990 727.4 L989 728 L988 728.1 L987 727.7 L986 727.4 L985 727.4 L984 727.7 L983 728.1 L982 728.5 L981 728.7 L980 729 L979 729.2 L978 729.1 L977 728.7 L976 728.1 L975 727.7 L974 727.6 L973 727.4 L972 727.2 L971 727.4 L970 728.2 L969 729.1 L968 729.8 L967 729.8 L966 729 L965 727.7 L964 726.5 L963 725.5 L962 724.9 L961 724.5 L960 724.5 L959 724.7 L958 725.3 L957 726.2 L956 727.4 L955 728.5 L954 729.2 L953 729.3 L952 729.5 L951 729.7 L950 730 L949 730.6 L948 731.3 L947 731.8 L946 731.9 L945 732.1 L944 732.4 L943 732.6 L942 732.5 L941 732.3 L940 732.1 L939 731.7 L938 730.9 L937 729.6 L936 728.3 L935 727 L934 725.8 L933 725.1 L932 725 L931 725.7 L930 726.7 L929 727.5 L928 727.6 L927 727.1 L926 726.5 L925 726.3 L924 726.8 L923 727.5 L922 727.7 L921 727.7 L920 727.8 L919 727.6 L918 726.8 L917 725.5 L916 723.9 L915 722.5 L914 721.3 L913 720 L912 718.5 L911 716.6 L910 714.5 L909 712.1 L908 709.3 L907 706.1 L906 702.6 L905 699.5 L904 697.2 L903 695.8 L902 694.7 L901 693.4 L900 691.5 L899 688.2 L898 686.1 L897 684.7 L896 684 L895 683.5 L894 682.9 L893 681.7 L892 680.2 L891 678.9 L890 678.2 L889 678 L888 677.9 L887 677.4 L886 676.8 L885 676.5 L884 676.2 L883 675.8 L882 675.6 L881 675.7 L880 676.5 L879 677.6 L878 678.5 L877 679 L876 678.8 L875 677.7 L874 676.1 L873 674.6 L872 673.6 L871 673.1 L870 672.9 L869 673 L868 673.3 L867 673.6 L866 673.6 L865 673.5 L864 673.7 L863 673.8 L862 673.8 L861 673.8 L860 673.7 L859 673.8 L858 673.9 L857 674.2 L856 674.3 L855 674.3 L854 674.7 L853 675.3 L852 675.7 L851 675.6 L850 674.9 L849 674.4 L848 674.2 L847 673.7 L846 672.9 L845 672.4 L844 672.6 L843 673.7 L842 674.7 L841 675.1 L840 674.7 L839 674.1 L838 673.7 L837 673.4 L836 672.9 L835 672.4 L834 672.4 L833 673 L832 673.8 L831 674.5 L830 674.6 L829 674.3 L828 673.9 L827 673.6 L826 673.7 L825 674.1 L824 674.3 L823 674.2 L822 673.8 L821 673.5 L820 673.5 L819 673.5 L818 673.6 L817 673.5 L816 673.2 L815 672.9 L814 672.8 L813 672.9 L812 673.2 L811 673.6 L810 673.8 L809 674.2 L808 674.7 L807 675.1 L806 675.2 L805 675.3 L804 675.3 L803 675.5 L802 675.4 L801 675 L800 674.5 L799 674.3 L798 674.1 L797 674 L796 673.7 L795 673.5 L794 673.4 L793 673.4 L792 673.4 L791 673.5 L790 673.7 L789 673.8 L788 673.8 L787 673.7 L786 673.7 L785 673.8 L784 673.6 L783 673.2 L782 672.8 L781 672.2 L780 671.4 L779 670.8 L778 670.7 L777 671.2 L776 671.9 L775 672.7 L774 673.6 L773 674.9 L772 675.7 L771 675.9 L770 675.8 L769 675.5 L768 674.8 L767 673.7 L766 672.7 L765 672 L764 672 L763 672.1 L762 672.4 L761 672.5 L760 672.7 L759 672.8 L758 672.9 L757 672.8 L756 671.9 L755 670.7 L754 670 L753 669.9 L752 670.1 L751 670.3 L750 670.4 L749 671.3 L748 672.6 L747 673.8 L746 675.1 L745 676.4 L744 677.3 L743 677.5 L742 677.9 L741 678.2 L740 678.1 L739 677.1 L738 675.4 L737 674.2 L736 674 L735 674 L734 673.9 L733 673.5 L732 672.8 L731 672 L730 671.5 L729 671.3 L728 670.9 L727 670.4 L726 670.1 L725 670 L724 669.9 L723 669.9 L722 669.9 L721 670 L720 670.4 L719 671.4 L718 673.2 L717 675.5 L716 677.1 L715 677 L714 676.1 L713 674.9 L712 674.3 L711 674.2 L710 674.4 L709 674.6 L708 674.7 L707 675 L706 675.3 L705 675.4 L704 675.3 L703 675.3 L702 675.3 L701 675.5 L700 675.1 L699 674.3 L698 673.5 L697 672.6 L696 671.8 L695 671.2 L694 671.2 L693 672 L692 673.2 L691 674.5 L690 675.5 L689 676.2 L688 676.5 L687 676.4 L686 676.6 L685 676.7 L684 676.3 L683 675.6 L682 674.7 L681 674.2 L680 674 L679 673.5 L678 672.8 L677 672.2 L676 672 L675 672.2 L674 672.6 L673 673.1 L672 673.8 L671 674.8 L670 676.1 L669 677.2 L668 678.1 L667 678.5 L666 678.5 L665 678.3 L664 678 L663 677.6 L662 677.4 L661 677.6 L660 677.7 L659 677.3 L658 676.6 L657 675.5 L656 674.2 L655 672.8 L654 671.6 L653 670.9 L652 670.8 L651 670.8 L650 670.9 L649 671.2 L648 671.8 L647 672.7 L646 673.2 L645 673.2 L644 672.9 L643 672.5 L642 672.4 L641 671.9 L640 671.1 L639 670.4 L638 670.3 L637 670.5 L636 670.7 L635 670.4 L634 669.6 L633 668.4 L632 667.6 L631 667.7 L630 668.5 L629 669.7 L628 670.8 L627 672 L626 673.2 L625 674 L624 674.1 L623 674.2 L622 674.1 L621 673.9 L620 673.6 L619 673.3 L618 673.1 L617 672.8 L616 672.4 L615 672 L614 671.8 L613 672 L612 672.3 L611 672.5 L610 672.4 L609 671.8 L608 670.7 L607 669.6 L606 668.5 L605 667.7 L604 667.3 L603 667.5 L602 668.5 L601 669.9 L600 671.1 L599 671.9 L598 672.7 L597 673.1 L596 673.1 L595 672.3 L594 671.4 L593 670.9 L592 671.2 L591 671.9 L590 672.4 L589 672.3 L588 672.1 L587 672.1 L586 672.3 L585 672.7 L584 673.2 L583 673.5 L582 673.4 L581 673.1 L580 672.6 L579 672.5 L578 672.7 L577 673 L576 673.4 L575 673.8 L574 674.6 L573 675.6 L572 676.4 L571 676.6 L570 676.3 L569 676 L568 676 L567 675.9 L566 675.6 L565 675.3 L564 675.1 L563 674.9 L562 674.8 L561 674.8 L560 675.2 L559 675.8 L558 676 L557 675.5 L556 674.6 L555 674.2 L554 674.9 L553 677 L552 679.5 L551 681.6 L550 682.9 L549 683.9 L548 685.2 L547 687.5 L546 690 L545 692.8 L544 695.8 L543 699.1 L542 702.7 L541 706.6 L540 711 L539 716.2 L538 721.8 L537 727.2 L536 732.3 L535 737 L534 741.5 L533 746 L532 750.4 L531 754.5 L530 758.2 L529 761.5 L528 764.8 L527 767.6 L526 769.6 L525 770.4 L524 770.6 L523 770.9 L522 771.9 L521 773.4 L520 774.7 L519 775.3 L518 774.9 L517 774.2 L516 774 L515 774.6 L514 775.6 L513 776.5 L512 776.8 L511 776.9 L510 777.2 L509 777.8 L508 778.6 L507 779.1 L506 779.4 L505 779.4 L504 779.1 L503 778.6 L502 778.1 L501 777.6 L500 777.2 L499 777 L498 777.1 L497 777.8 L496 778.7 L495 779.5 L494 779.7 L493 779.6 L492 779.4 L491 779.4 L490 779.7 L489 780.1 L488 780 L487 779.4 L486 778.5 L485 777.8 L484 777.7 L483 777.9 L482 778.1 L481 778.1 L480 778.1 L479 778 L478 778 L477 777.9 L476 777.5 L475 776.9 L474 776.4 L473 776.2 L472 776 L471 776 L470 776 L469 776 L468 776.3 L467 776.8 L466 777.8 L465 778.9 L464 779.7 L463 779.8 L462 779.6 L461 779.4 L460 779.3 L459 779.2 L458 779 L457 778.9 L456 778.9 L455 779.1 L454 779.2 L453 778.8 L452 778.4 L451 778.3 L450 778.3 L449 778.2 L448 777.5 L447 776.6 L446 775.9 L445 775.5 L444 775.3 L443 775.2 L442 775.2 L441 775.4 L440 775.7 L439 776.1 L438 776.3 L437 776.2 L436 776 L435 775.9 L434 776.3 L433 777 L432 777.6 L431 778.3 L430 779 L429 779.5 L428 779.5 L427 778.9 L426 777.9 L425 776.7 L424 775.8 L423 775.3 L422 775.3 L421 775.2 L420 774.9 L419 774.7 L418 775.3 L417 776.3 L416 777.4 L415 778 L414 778 L413 777.5 L412 776.8 L411 776.4 L410 776.8 L409 777.8 L408 778.7 L407 778.8 L406 778.5 L405 777.9 L404 777.5 L403 777.2 L402 776.7 L401 776.3 L400 776.3 L399 776.8 L398 777.7 L397 778.5 L396 779.1 L395 779.5 L394 779.9 L393 780.3 L392 780.2 L391 779.9 L390 779.6 L389 779.6 L388 780.2 L387 780.6 L386 780.7 L385 780.3 L384 779.7 L383 779.4 L382 779.1 L381 778.7 L380 778.2 L379 777.8 L378 777.3 L377 776.8 L376 776.2 L375 775.9 L374 776 L373 776.2 L372 776.2 L371 776 L370 775.8 L369 776 L368 776.7 L367 777.4 L366 778 L365 778 L364 777.9 L363 777.5 L362 776.9 L361 776.1 L360 775.2 L359 774.7 L358 774.7 L357 775.3 L356 776.4 L355 777.8 L354 779.5 L353 781.2 L352 782.3 L351 782.5 L350 782.1 L349 781.3 L348 780.5 L347 779.7 L346 779 L345 778.5 L344 778.5 L343 778.6 L342 778.6 L341 778.6 L340 778.5 L339 778.2 L338 778.1 L337 778.3 L336 779.2 L335 780.5 L334 781.9 L333 782.7 L332 783 L331 783.2 L330 783.7 L329 784.3 L328 784.7 L327 784.6 L326 784.4 L325 784.6 L324 785.5 L323 787.2 L322 789.4 L321 792.2 L320 795.7 L319 799.7 L318 804.1 L317 808.5 L316 812.6 L315 816.8 L314 820.9 L313 824.8 L312 828.4 L311 831.9 L310 835.7 L309 840.1 L308 844.3 L307 848.5 L306 852.7 L305 857 L304 860.7 L303 863.6 L302 865.8 L301 868.3 L300 870.8 L299 872.5 L298 873.4 L297 873.8 L296 874 L295 874 L294 873.7 L293 873.1 L292 872.6 L291 872.4 L290 872.2 L289 872.1 L288 871.9 L287 871.4 L286 870.7 L285 870 L284 870.1 L283 870 L282 869.8 L281 869.6 L280 869.5 L279 869.5 L278 869.5 L277 869.5 L276 869.5 L275 869.5 L274 869.5 L273 869.5 L272 869.5 L271 869.5 L270 869.5 L269 869.5 L268 869.5 L267 869.5 L266 869.5 L265 869.5 L264 869.5 L263 869.5 L262 869.5 L261 869.5 L260 869.4 L259 869.4 L258 869.4 L257 869.4 L256 869.4 L255 869.4 L254 869.4 L253 869.4 L252 869.3 L251 869.3 L250 869.3 L249 869.3 L248 869.3 L247 869.3 L246 869.3 L245 869.3 L244 869.2 L243 869.2 L242 869.2 L241 869.2 L240 869.2 L239 869.2 L238 869.2 L237 869.2 L236 869.1 L235 869.1 L234 869.1 L233 869.1 L232 869.1 L231 869.1 L230 869.1 L229 869.1 L228 869 L227 869 L226 869 L225 869 L224 869 L223 869 L222 869 L221 868.9 L220 868.9 L219 868.9 L218 868.9 L217 868.9 L216 868.9 L215 868.9 L214 868.9 L213 868.8 L212 868.8 L211 868.8 L210 868.8 L209 868.8 L208 868.8 L207 868.8 L206 868.8 L205 868.7 L204 868.7 L203 868.7 L202 868.7 L201 868.7 L200 868.7 L199 868.7 L198 868.7 L197 868.6 L196 868.6 L195 868.6 L194 868.6 L193 868.6 L192 868.6 L191 868.6 L190 868.6 L189 868.5 L188 868.5 L187 868.5 L186 868.5 L185 868.5 L184 868.5 L183 868.5 L182 868.5 L181 868.4 L180 868.4 L179 868.4 L178 868.4 L177 868.4 L176 868.4 L175 868.4 L174 868.4 L173 868.3 L172 868.3 L171 868.3 L170 868.3 L169 868.3 L168 868.3 L167 868.3 L166 868.3 L165 868.2 L164 868.2 L163 868.2Z" fill="#4b97f4"/>
<path d="M162.5 863.7 L163.5 863.7 L164.5 863.7 L165.5 863.7 L166.5 863.8 L167.5 863.8 L168.5 863.8 L169.5 863.8 L170.5 863.8 L171.5 863.8 L172.5 863.8 L173.5 863.8 L174.5 863.9 L175.5 863.9 L176.5 863.9 L177.5 863.9 L178.5 863.9 L179.5 863.9 L180.5 863.9 L181.5 863.9 L182.5 864 L183.5 864 L184.5 864 L185.5 864 L186.5 864 L187.5 864 L188.5 864 L189.5 864 L190.5 864.1 L191.5 864.1 L192.5 864.1 L193.5 864.1 L194.5 864.1 L195.5 864.1 L196.5 864.1 L197.5 864.2 L198.5 864.2 L199.5 864.2 L200.5 864.2 L201.5 864.2 L202.5 864.2 L203.5 864.2 L204.5 864.2 L205.5 864.3 L206.5 864.3 L207.5 864.3 L208.5 864.3 L209.5 864.3 L210.5 864.3 L211.5 864.3 L212.5 864.3 L213.5 864.4 L214.5 864.4 L215.5 864.4 L216.5 864.4 L217.5 864.4 L218.5 864.4 L219.5 864.4 L220.5 864.4 L221.5 864.5 L222.5 864.5 L223.5 864.5 L224.5 864.5 L225.5 864.5 L226.5 864.5 L227.5 864.5 L228.5 864.5 L229.5 864.6 L230.5 864.6 L231.5 864.6 L232.5 864.6 L233.5 864.6 L234.5 864.6 L235.5 864.6 L236.5 864.6 L237.5 864.7 L238.5 864.7 L239.5 864.7 L240.5 864.7 L241.5 864.7 L242.5 864.7 L243.5 864.7 L244.5 864.7 L245.5 864.8 L246.5 864.8 L247.5 864.8 L248.5 864.8 L249.5 864.8 L250.5 864.8 L251.5 864.8 L252.5 864.8 L253.5 864.9 L254.5 864.9 L255.5 864.9 L256.5 864.9 L257.5 864.9 L258.5 864.9 L259.5 864.9 L260.5 864.9 L261.5 865 L262.5 865 L263.5 865 L264.5 865 L265.5 865 L266.5 865 L267.5 865 L268.5 865 L269.5 865 L270.5 865 L271.5 865 L272.5 865 L273.5 865 L274.5 865 L275.5 865 L276.5 865 L277.5 865 L278.5 865 L279.5 865 L280.5 865 L281.5 865.2 L282.5 865.4 L283.5 865.5 L284.5 865.7 L285.5 864.2 L286.5 864.3 L287.5 864.4 L288.5 864.4 L289.5 864.4 L290.5 864.4 L291.5 864.5 L292.5 864.5 L293.5 864.5 L294.5 864.4 L295.5 864.2 L296.5 863.8 L297.5 863.3 L298.5 862.6 L299.5 861.7 L300.5 860.5 L301.5 858.9 L302.5 856.9 L303.5 854.6 L304.5 852 L305.5 849 L306.5 845.6 L307.5 841.9 L308.5 837.9 L309.5 833.6 L310.5 829.1 L311.5 824.4 L312.5 819.6 L313.5 814.9 L314.5 810.2 L315.5 805.7 L316.5 801.4 L317.5 797.4 L318.5 793.8 L319.5 790.6 L320.5 787.7 L321.5 785.2 L322.5 783 L323.5 781.2 L324.5 779.6 L325.5 778.3 L326.5 777.2 L327.5 776.3 L328.5 775.5 L329.5 774.9 L330.5 774.3 L331.5 773.9 L332.5 773.5 L333.5 773.2 L334.5 772.9 L335.5 772.7 L336.5 772.5 L337.5 772.4 L338.5 772.3 L339.5 772.2 L340.5 772.1 L341.5 771.9 L342.5 771.8 L343.5 771.7 L344.5 771.6 L345.5 771.6 L346.5 771.5 L347.5 771.4 L348.5 771.3 L349.5 771.1 L350.5 771 L351.5 770.8 L352.5 770.6 L353.5 770.5 L354.5 770.4 L355.5 770.3 L356.5 770.2 L357.5 770.1 L358.5 770.1 L359.5 770.1 L360.5 770.1 L361.5 770.1 L362.5 770 L363.5 770 L364.5 770 L365.5 770 L366.5 770 L367.5 769.9 L368.5 769.9 L369.5 769.9 L370.5 769.9 L371.5 769.9 L372.5 769.9 L373.5 769.9 L374.5 770 L375.5 770.2 L376.5 770.5 L377.5 770.8 L378.5 771.2 L379.5 771.6 L380.5 772 L381.5 772.3 L382.5 772.6 L383.5 772.9 L384.5 773.1 L385.5 773.2 L386.5 773.3 L387.5 773.2 L388.5 773.1 L389.5 772.9 L390.5 772.6 L391.5 772.3 L392.5 772 L393.5 771.6 L394.5 771.2 L395.5 770.8 L396.5 770.5 L397.5 770.2 L398.5 770 L399.5 769.9 L400.5 769.9 L401.5 769.8 L402.5 769.8 L403.5 769.8 L404.5 769.7 L405.5 769.7 L406.5 769.6 L407.5 769.6 L408.5 769.5 L409.5 769.4 L410.5 769.4 L411.5 769.3 L412.5 769.3 L413.5 769.3 L414.5 769.3 L415.5 769.3 L416.5 769.2 L417.5 769.2 L418.5 769.2 L419.5 769.1 L420.5 769.1 L421.5 769 L422.5 769 L423.5 769 L424.5 768.9 L425.5 768.9 L426.5 768.9 L427.5 768.8 L428.5 768.8 L429.5 768.9 L430.5 768.9 L431.5 769 L432.5 769.1 L433.5 769.3 L434.5 769.4 L435.5 769.6 L436.5 769.7 L437.5 769.9 L438.5 770 L439.5 770.2 L440.5 770.2 L441.5 770.3 L442.5 770.3 L443.5 770.3 L444.5 770.3 L445.5 770.3 L446.5 770.3 L447.5 770.3 L448.5 770.3 L449.5 770.3 L450.5 770.4 L451.5 770.4 L452.5 770.4 L453.5 770.4 L454.5 770.4 L455.5 770.4 L456.5 770.4 L457.5 770.4 L458.5 770.3 L459.5 770.3 L460.5 770.3 L461.5 770.2 L462.5 770.1 L463.5 770.1 L464.5 770 L465.5 770 L466.5 769.9 L467.5 769.9 L468.5 769.8 L469.5 769.8 L470.5 769.8 L471.5 769.8 L472.5 769.8 L473.5 769.8 L474.5 769.8 L475.5 769.9 L476.5 769.9 L477.5 770 L478.5 770 L479.5 770 L480.5 770.1 L481.5 770.1 L482.5 770.1 L483.5 770.1 L484.5 770.1 L485.5 770.1 L486.5 770.1 L487.5 770.2 L488.5 770.2 L489.5 770.2 L490.5 770.3 L491.5 770.3 L492.5 770.3 L493.5 770.4 L494.5 770.4 L495.5 770.4 L496.5 770.5 L497.5 770.5 L498.5 770.4 L499.5 770.4 L500.5 770.4 L501.5 770.4 L502.5 770.5 L503.5 770.5 L504.5 770.5 L505.5 770.5 L506.5 770.5 L507.5 770.5 L508.5 770.4 L509.5 770.4 L510.5 770.3 L511.5 770.1 L512.5 770 L513.5 769.8 L514.5 769.5 L515.5 769.2 L516.5 768.9 L517.5 768.5 L518.5 768 L519.5 767.4 L520.5 766.7 L521.5 765.9 L522.5 764.9 L523.5 763.7 L524.5 762.3 L525.5 760.6 L526.5 758.6 L527.5 756.3 L528.5 753.7 L529.5 750.7 L530.5 747.4 L531.5 743.6 L532.5 739.6 L533.5 735.2 L534.5 730.5 L535.5 725.7 L536.5 720.7 L537.5 715.8 L538.5 710.9 L539.5 706.1 L540.5 701.6 L541.5 697.3 L542.5 693.2 L543.5 689.4 L544.5 686 L545.5 682.8 L546.5 680 L547.5 677.4 L548.5 675.2 L549.5 673.3 L550.5 671.6 L551.5 670.1 L552.5 668.9 L553.5 668 L554.5 667.2 L555.5 666.6 L556.5 666.2 L557.5 665.9 L558.5 665.8 L559.5 665.7 L560.5 665.8 L561.5 665.9 L562.5 666.1 L563.5 666.2 L564.5 666.4 L565.5 666.5 L566.5 666.6 L567.5 666.7 L568.5 666.6 L569.5 666.6 L570.5 666.4 L571.5 666.2 L572.5 666 L573.5 665.7 L574.5 665.4 L575.5 665.1 L576.5 664.9 L577.5 664.6 L578.5 664.3 L579.5 664.1 L580.5 664 L581.5 663.9 L582.5 663.8 L583.5 663.8 L584.5 663.9 L585.5 664 L586.5 664.1 L587.5 664.2 L588.5 664.4 L589.5 664.6 L590.5 664.7 L591.5 664.9 L592.5 665 L593.5 665.1 L594.5 665.2 L595.5 665.3 L596.5 665.3 L597.5 665.3 L598.5 665.2 L599.5 665.1 L600.5 665 L601.5 664.9 L602.5 664.7 L603.5 664.5 L604.5 664.3 L605.5 664.2 L606.5 664 L607.5 663.9 L608.5 663.8 L609.5 663.8 L610.5 663.7 L611.5 663.8 L612.5 663.8 L613.5 663.9 L614.5 664.1 L615.5 664.2 L616.5 664.4 L617.5 664.6 L618.5 664.8 L619.5 665 L620.5 665.2 L621.5 665.3 L622.5 665.4 L623.5 665.5 L624.5 665.5 L625.5 665.5 L626.5 665.5 L627.5 665.4 L628.5 665.3 L629.5 665.2 L630.5 665.1 L631.5 665 L632.5 664.9 L633.5 664.8 L634.5 664.7 L635.5 664.7 L636.5 664.6 L637.5 664.6 L638.5 664.6 L639.5 664.6 L640.5 664.6 L641.5 664.7 L642.5 664.8 L643.5 664.9 L644.5 665 L645.5 665.2 L646.5 665.3 L647.5 665.4 L648.5 665.5 L649.5 665.6 L650.5 665.7 L651.5 665.7 L652.5 665.8 L653.5 665.8 L654.5 665.9 L655.5 666.2 L656.5 666.5 L657.5 666.8 L658.5 667.2 L659.5 667.6 L660.5 668 L661.5 668.4 L662.5 668.8 L663.5 669.1 L664.5 669.3 L665.5 669.4 L666.5 669.5 L667.5 669.4 L668.5 669.3 L669.5 669 L670.5 668.7 L671.5 668.3 L672.5 667.9 L673.5 667.5 L674.5 667 L675.5 666.6 L676.5 666.2 L677.5 665.9 L678.5 665.6 L679.5 665.5 L680.5 665.4 L681.5 665.5 L682.5 665.5 L683.5 665.6 L684.5 665.6 L685.5 665.7 L686.5 665.9 L687.5 666 L688.5 666.1 L689.5 666.2 L690.5 666.3 L691.5 666.4 L692.5 666.5 L693.5 666.5 L694.5 666.5 L695.5 666.5 L696.5 666.4 L697.5 666.2 L698.5 666 L699.5 665.8 L700.5 665.5 L701.5 665.2 L702.5 664.9 L703.5 664.6 L704.5 664.4 L705.5 664.2 L706.5 664 L707.5 663.9 L708.5 663.9 L709.5 663.9 L710.5 664 L711.5 664 L712.5 664.1 L713.5 664.3 L714.5 664.4 L715.5 664.5 L716.5 664.7 L717.5 664.8 L718.5 664.9 L719.5 665 L720.5 665.1 L721.5 665.1 L722.5 665.2 L723.5 665.2 L724.5 665.2 L725.5 665.3 L726.5 665.4 L727.5 665.5 L728.5 665.6 L729.5 665.7 L730.5 665.9 L731.5 666 L732.5 666.1 L733.5 666.2 L734.5 666.2 L735.5 666.3 L736.5 666.3 L737.5 666.3 L738.5 666.3 L739.5 666.2 L740.5 666.1 L741.5 666 L742.5 665.9 L743.5 665.8 L744.5 665.7 L745.5 665.6 L746.5 665.6 L747.5 665.5 L748.5 665.4 L749.5 665.4 L750.5 665.4 L751.5 665.4 L752.5 665.4 L753.5 665.4 L754.5 665.5 L755.5 665.5 L756.5 665.6 L757.5 665.7 L758.5 665.7 L759.5 665.8 L760.5 665.8 L761.5 665.9 L762.5 665.9 L763.5 665.9 L764.5 665.9 L765.5 665.9 L766.5 665.9 L767.5 665.9 L768.5 665.9 L769.5 665.9 L770.5 665.8 L771.5 665.8 L772.5 665.7 L773.5 665.7 L774.5 665.7 L775.5 665.7 L776.5 665.6 L777.5 665.6 L778.5 665.6 L779.5 665.6 L780.5 665.6 L781.5 665.5 L782.5 665.4 L783.5 665.2 L784.5 665.1 L785.5 665 L786.5 664.8 L787.5 664.7 L788.5 664.5 L789.5 664.4 L790.5 664.4 L791.5 664.3 L792.5 664.3 L793.5 664.3 L794.5 664.4 L795.5 664.5 L796.5 664.6 L797.5 664.8 L798.5 665 L799.5 665.2 L800.5 665.4 L801.5 665.6 L802.5 665.8 L803.5 666 L804.5 666.1 L805.5 666.2 L806.5 666.2 L807.5 666.2 L808.5 666.1 L809.5 666 L810.5 665.9 L811.5 665.7 L812.5 665.5 L813.5 665.4 L814.5 665.2 L815.5 665 L816.5 664.8 L817.5 664.7 L818.5 664.6 L819.5 664.5 L820.5 664.5 L821.5 664.6 L822.5 664.7 L823.5 664.9 L824.5 665.1 L825.5 665.4 L826.5 665.8 L827.5 666.1 L828.5 666.5 L829.5 666.8 L830.5 667.1 L831.5 667.4 L832.5 667.6 L833.5 667.7 L834.5 667.7 L835.5 667.7 L836.5 667.6 L837.5 667.4 L838.5 667.2 L839.5 666.9 L840.5 666.6 L841.5 666.3 L842.5 666 L843.5 665.7 L844.5 665.4 L845.5 665.2 L846.5 665 L847.5 664.9 L848.5 664.9 L849.5 664.9 L850.5 665 L851.5 665.1 L852.5 665.2 L853.5 665.3 L854.5 665.5 L855.5 665.6 L856.5 665.8 L857.5 665.9 L858.5 666.1 L859.5 666.2 L860.5 666.3 L861.5 666.3 L862.5 666.4 L863.5 666.4 L864.5 666.3 L865.5 666.3 L866.5 666.2 L867.5 666.2 L868.5 666.1 L869.5 666 L870.5 666 L871.5 665.9 L872.5 665.8 L873.5 665.8 L874.5 665.8 L875.5 665.8 L876.5 665.9 L877.5 666 L878.5 666.1 L879.5 666.3 L880.5 666.5 L881.5 666.8 L882.5 667.1 L883.5 667.5 L884.5 667.9 L885.5 668.4 L886.5 668.9 L887.5 669.4 L888.5 669.9 L889.5 670.5 L890.5 671.2 L891.5 671.9 L892.5 672.7 L893.5 673.5 L894.5 674.4 L895.5 675.5 L896.5 676.6 L897.5 677.9 L898.5 679.3 L899.5 680.9 L900.5 682.7 L901.5 684.5 L902.5 686.6 L903.5 688.7 L904.5 691 L905.5 693.3 L906.5 695.6 L907.5 698 L908.5 700.3 L909.5 702.5 L910.5 704.6 L911.5 706.6 L912.5 708.5 L913.5 710.2 L914.5 711.7 L915.5 713.1 L916.5 714.2 L917.5 715.3 L918.5 716.1 L919.5 716.8 L920.5 717.4 L921.5 717.9 L922.5 718.3 L923.5 718.6 L924.5 718.8 L925.5 719 L926.5 719.1 L927.5 719.2 L928.5 719.3 L929.5 719.4 L930.5 719.5 L931.5 719.5 L932.5 719.6 L933.5 719.7 L934.5 719.8 L935.5 720 L936.5 720.2 L937.5 720.4 L938.5 720.6 L939.5 720.8 L940.5 721 L941.5 721.2 L942.5 721.4 L943.5 721.5 L944.5 721.6 L945.5 721.7 L946.5 721.7 L947.5 721.7 L948.5 721.7 L949.5 721.7 L950.5 721.6 L951.5 721.5 L952.5 721.5 L953.5 721.4 L954.5 721.3 L955.5 721.2 L956.5 721.2 L957.5 721.1 L958.5 721.1 L959.5 721 L960.5 721 L961.5 721 L962.5 721 L963.5 721 L964.5 720.9 L965.5 720.9 L966.5 720.8 L967.5 720.8 L968.5 720.7 L969.5 720.6 L970.5 720.6 L971.5 720.5 L972.5 720.5 L973.5 720.5 L974.5 720.5 L975.5 720.5 L976.5 720.4 L977.5 720.4 L978.5 720.3 L979.5 720.2 L980.5 720.1 L981.5 719.9 L982.5 719.8 L983.5 719.7 L984.5 719.6 L985.5 719.5 L986.5 719.5 L987.5 719.4 L988.5 719.4 L989.5 719.4 L990.5 719.5 L991.5 719.6 L992.5 719.8 L993.5 720 L994.5 720.2 L995.5 720.4 L996.5 720.6 L997.5 720.8 L998.5 720.9 L999.5 721.1 L1000.5 721.2 L1001.5 721.3 L1002.5 721.3 L1003.5 721.3 L1004.5 721.3 L1005.5 721.3 L1006.5 721.2 L1007.5 721.2 L1008.5 721.2 L1009.5 721.1 L1010.5 721.1 L1011.5 721.1 L1012.5 721 L1013.5 721 L1014.5 721 L1015.5 721 L1016.5 721 L1017.5 721 L1018.5 721.1 L1019.5 721.1 L1020.5 721.3 L1021.5 721.4 L1022.5 721.5 L1023.5 721.7 L1024.5 721.9 L1025.5 722 L1026.5 722.2 L1027.5 722.3 L1028.5 722.4 L1029.5 722.4 L1030.5 722.4 L1031.5 722.4 L1032.5 722.3 L1033.5 722.2 L1034.5 722 L1035.5 721.8 L1036.5 721.5 L1037.5 721.2 L1038.5 721 L1039.5 720.7 L1040.5 720.5 L1041.5 720.3 L1042.5 720.2 L1043.5 720.1 L1044.5 720 L1045.5 720.1 L1046.5 720.1 L1047.5 720.2 L1048.5 720.3 L1049.5 720.4 L1050.5 720.5 L1051.5 720.6 L1052.5 720.7 L1053.5 720.9 L1054.5 721 L1055.5 721.1 L1056.5 721.1 L1057.5 721.2 L1058.5 721.2 L1059.5 721.2 L1060.5 721.2 L1061.5 721.2 L1062.5 721.2 L1063.5 721.2 L1064.5 721.2 L1065.5 721.2 L1066.5 721.2 L1067.5 721.2 L1068.5 721.2 L1069.5 721.2 L1070.5 721.2 L1071.5 721.2 L1072.5 721.2 L1073.5 721.2 L1074.5 721.2 L1075.5 721.2 L1076.5 721.1 L1077.5 721.1 L1078.5 721.1 L1079.5 721.1 L1080.5 721 L1081.5 721 L1082.5 721 L1083.5 721 L1084.5 720.9 L1085.5 720.9 L1086.5 720.9 L1087.5 720.9 L1088.5 720.9 L1089.5 720.9 L1090.5 720.9 L1091.5 720.9 L1092.5 720.9 L1093.5 720.9 L1094.5 720.9 L1095.5 720.9 L1096.5 720.9 L1097.5 720.9 L1098.5 720.9 L1099.5 720.9 L1100.5 720.9 L1101.5 720.9 L1102.5 720.9 L1103.5 720.9 L1104.5 720.9 L1105.5 720.9 L1106.5 720.9 L1107.5 720.9 L1108.5 720.9 L1109.5 720.9 L1110.5 720.9 L1111.5 720.9 L1112.5 720.9 L1113.5 720.9 L1114.5 720.9 L1115.5 720.9 L1116.5 720.9 L1117.5 720.8 L1118.5 720.7 L1119.5 720.6 L1120.5 720.5 L1121.5 720.4 L1122.5 720.3 L1123.5 720.2 L1124.5 720.2 L1125.5 720.2 L1126.5 720.3 L1127.5 720.4 L1128.5 720.5 L1129.5 720.7 L1130.5 720.8 L1131.5 720.9 L1132.5 721 L1133.5 721.1 L1134.5 721.2 L1135.5 721.2 L1136.5 721.2 L1137.5 721.1 L1138.5 721.1 L1139.5 721 L1140.5 721 L1141.5 721 L1142.5 721 L1143.5 721 L1144.5 721 L1145.5 721.1 L1146.5 721.1 L1147.5 721.2 L1148.5 721.3 L1149.5 721.4 L1150.5 721.4 L1151.5 721.5 L1152.5 721.6 L1153.5 721.6 L1154.5 721.7 L1155.5 721.7 L1156.5 721.7 L1157.5 721.7 L1158.5 721.8 L1159.5 721.9 L1160.5 721.9 L1161.5 722.1 L1162.5 722.2 L1163.5 722.3 L1164.5 722.4 L1165.5 722.6 L1166.5 722.7 L1167.5 722.8 L1168.5 722.9 L1169.5 722.9 L1170.5 722.9 L1171.5 722.9 L1172.5 723 L1173.5 723 L1174.5 723.1 L1175.5 723.2 L1176.5 723.3 L1177.5 723.5 L1178.5 723.6 L1179.5 723.7 L1180.5 723.8 L1181.5 723.9 L1182.5 724 L1183.5 724 L1184.5 724 L1185.5 724 L1186.5 724 L1187.5 723.9 L1188.5 723.9 L1189.5 723.8 L1190.5 723.8 L1191.5 723.7 L1192.5 723.6 L1193.5 723.6 L1194.5 723.5 L1195.5 723.4 L1196.5 723.4 L1197.5 723.4 L1198.5 723.4 L1199.5 723.4 L1200.5 723.4 L1201.5 723.4 L1202.5 723.4 L1203.5 723.4 L1204.5 723.4 L1205.5 723.4 L1206.5 723.4 L1207.5 723.4 L1208.5 723.4 L1209.5 723.5 L1210.5 723.5 L1211.5 723.5 L1212.5 723.5 L1213.5 723.5 L1214.5 723.4 L1215.5 723.4 L1216.5 723.4 L1217.5 723.4 L1218.5 723.3 L1219.5 723.3 L1220.5 723.3 L1221.5 723.2 L1222.5 723.2 L1223.5 723.2 L1224.5 723.1 L1225.5 723.1 L1226.5 723.1 L1227.5 723.1 L1228.5 723.1 L1229.5 723.1 L1230.5 723.1 L1231.5 723.1 L1232.5 723.1 L1233.5 723.1 L1234.5 723.1 L1235.5 723.1 L1236.5 723.1 L1237.5 723 L1238.5 723 L1239.5 723 L1240.5 723 L1241.5 723 L1242.5 723 L1243.5 723 L1244.5 722.9 L1245.5 722.9 L1246.5 722.8 L1247.5 722.7 L1248.5 722.7 L1249.5 722.6 L1250.5 722.5 L1251.5 722.5 L1252.5 722.5 L1253.5 722.4 L1254.5 722.4 L1255.5 722.4 L1256.5 722.5 L1257.5 722.5 L1258.5 722.6 L1259.5 722.6 L1260.5 722.7 L1261.5 722.8 L1262.5 722.9 L1263.5 722.9 L1264.5 723 L1265.5 723 L1266.5 723.1 L1267.5 723.1 L1268.5 723.1 L1269.5 723.1 L1270.5 723.2 L1271.5 723.3 L1272.5 723.4 L1273.5 723.5 L1274.5 723.6 L1275.5 723.7 L1276.5 723.9 L1277.5 724 L1278.5 724.1 L1279.5 724.2 L1280.5 724.3 L1281.5 724.3 L1282.5 724.3 L1283.5 724.3 L1284.5 724.2 L1285.5 724.1 L1286.5 723.9 L1287.5 723.6 L1288.5 723.3 L1289.5 723.1 L1290.5 722.8 L1291.5 722.5 L1292.5 722.3 L1293.5 722.1 L1294.5 721.9 L1295.5 721.8 L1296.5 721.8 L1297.5 721.8 L1298.5 721.8 L1299.5 721.8 L1300.5 721.7 L1301.5 721.7 L1302.5 721.6 L1303.5 721.6 L1304.5 721.5 L1305.5 721.5 L1306.5 721.5 L1307.5 721.4 L1308.5 721.4 L1309.5 721.4 L1310.5 721.4 L1311.5 721.4 L1312.5 721.5 L1313.5 721.7 L1314.5 722 L1315.5 722.3 L1316.5 722.6 L1317.5 723 L1318.5 723.3 L1319.5 723.7 L1320.5 724 L1321.5 724.2 L1322.5 724.4 L1323.5 724.5 L1324.5 724.6 L1325.5 724.5 L1326.5 724.5 L1327.5 724.3 L1328.5 724.2 L1329.5 724 L1330.5 723.8 L1331.5 723.5 L1332.5 723.3 L1333.5 723.1 L1334.5 722.9 L1335.5 722.7 L1336.5 722.6 L1337.5 722.5 L1338.5 722.5 L1339.5 722.5 L1340.5 722.5 L1341.5 722.6 L1342.5 722.7 L1343.5 722.7 L1344.5 722.8 L1345.5 722.9 L1346.5 723 L1347.5 723.1 L1348.5 723.2 L1349.5 723.3 L1350.5 723.3 L1351.5 723.4 L1352.5 723.4 L1353.5 723.4 L1354.5 723.4 L1355.5 723.4 L1356.5 723.3 L1357.5 723.3 L1358.5 723.3 L1359.5 723.3 L1360.5 723.3 L1361.5 723.3 L1362.5 723.3 L1363.5 723.3 L1364.5 723.3 L1365.5 723.3 L1366.5 723.2 L1367.5 723.2 L1368.5 723.1 L1369.5 723 L1370.5 722.8 L1371.5 722.6 L1372.5 722.3 L1373.5 722 L1374.5 721.8 L1375.5 721.5 L1376.5 721.3 L1377.5 721.1 L1378.5 721 L1379.5 720.9 L1380.5 720.8 L1381.5 720.9 L1382.5 721 L1383.5 721.3 L1384.5 721.6 L1385.5 722 L1386.5 722.5 L1387.5 723 L1388.5 723.5 L1389.5 723.9 L1390.5 724.3 L1391.5 724.7 L1392.5 724.9 L1393.5 725.1 L1394.5 725.1 L1395.5 725.1 L1396.5 725.1 L1397.5 725 L1398.5 725 L1399.5 724.9 L1400.5 724.8 L1401.5 724.7 L1402.5 724.6 L1403.5 724.6 L1404.5 724.5 L1405.5 724.4 L1406.5 724.4 L1407.5 724.3 L1408.5 724.3 L1409.5 724.3 L1410.5 724.2 L1411.5 724.1 L1412.5 724 L1413.5 723.8 L1414.5 723.6 L1415.5 723.4 L1416.5 723.2 L1417.5 723 L1418.5 722.8 L1419.5 722.6 L1420.5 722.5 L1421.5 722.4 L1422.5 722.4 L1423.5 722.4 L1424.5 722.4 L1425.5 722.5 L1426.5 722.5 L1427.5 722.6 L1428.5 722.7 L1429.5 722.8 L1430.5 722.8 L1431.5 722.9 L1432.5 723 L1433.5 723 L1434.5 723.1 L1435.5 723.1 L1436.5 723.1 L1437.5 723.1 L1438.5 723.1 L1439.5 723 L1440.5 723 L1441.5 722.9 L1442.5 722.8 L1443.5 722.7 L1444.5 722.6 L1445.5 722.6 L1446.5 722.5 L1447.5 722.4 L1448.5 722.4 L1449.5 722.4 L1450.5 722.4 L1451.5 722.3 L1452.5 722.3 L1453.5 722.2 L1454.5 722.1 L1455.5 722 L1456.5 721.9 L1457.5 721.7 L1458.5 721.6 L1459.5 721.5 L1460.5 721.4 L1461.5 721.3 L1462.5 721.2 L1463.5 721.2 L1464.5 721.1 L1465.5 721.2 L1466.5 721.2 L1467.5 721.2 L1468.5 721.3 L1469.5 721.4 L1470.5 721.5 L1471.5 721.6 L1472.5 721.7 L1473.5 721.8 L1474.5 721.9 L1475.5 722 L1476.5 722 L1477.5 722.1 L1478.5 722.1 L1479.5 722.1 L1480.5 722.1 L1481.5 722.1 L1482.5 722.2 L1483.5 722.2 L1484.5 722.3 L1485.5 722.2 L1486.5 722 L1487.5 721.8 L1488.5 721.6 L1489.5 721.4 L1490.5 721.2 L1491.5 720.9 L1492.5 720.6 L1493.5 720.4 L1494.5 720.2 L1495.5 719.9 L1496.5 719.7 L1497.5 719.6 L1498.5 719.4 L1499.5 719.2 L1500.5 719.2 L1501.5 719.3 L1502.5 719.4 L1503.5 719.4 L1504.5 719.5 L1505.5 719.5 L1506.5 719.5 L1507.5 719.5 L1508.5 719.5 L1509.5 719.5 L1510.5 719.4 L1511.5 719.4 L1512.5 719.3 L1513.5 719.3 L1514.5 719.2 L1515.5 719.2 L1516.5 719.1 L1517.5 719.1 L1518.5 719.1 L1519.5 719.1 L1520.5 719.1 L1521.5 719 L1522.5 719 L1523.5 719 L1524.5 718.9 L1525.5 718.8 L1526.5 718.7 L1527.5 718.7 L1528.5 718.6 L1529.5 718.5 L1530.5 718.4 L1531.5 718.4 L1532.5 718.3 L1533.5 718.3 L1534.5 718.3 L1535.5 718.3 L1536.5 718.3 L1537.5 718.4 L1538.5 718.6 L1539.5 718.7 L1540.5 718.9 L1541.5 719 L1542.5 719.2 L1543.5 719.4 L1544.5 719.5 L1545.5 719.7 L1546.5 719.7 L1547.5 719.8 L1548.5 719.8 L1549.5 719.8 L1550.5 719.7 L1551.5 719.5 L1552.5 719.3 L1553.5 719.1 L1554.5 718.8 L1555.5 718.6 L1556.5 718.3 L1557.5 718 L1558.5 717.8 L1559.5 717.6 L1560.5 717.4 L1561.5 717.3 L1562.5 717.3 L1563.5 717.3 L1564.5 717.4 L1565.5 717.5 L1566.5 717.6 L1567.5 717.8 L1568.5 718 L1569.5 718.2 L1570.5 718.4 L1571.5 718.6 L1572.5 718.8 L1573.5 718.9 L1574.5 719.1 L1575.5 719.1 L1576.5 719.2 L1577.5 719.2 L1578.5 719.2 L1579.5 719.2 L1580.5 719.2 L1581.5 719.3 L1582.5 719.3 L1583.5 719.3 L1584.5 719.4 L1585.5 719.4 L1586.5 719.5 L1587.5 719.5 L1588.5 719.5 L1589.5 719.5 L1590.5 719.5 L1591.5 719.5 L1592.5 719.5 L1593.5 719.4 L1594.5 719.2 L1595.5 719.1 L1596.5 718.9 L1597.5 718.7 L1598.5 718.5 L1599.5 718.3 L1600.5 718.2 L1601.5 718 L1602.5 717.9 L1603.5 717.9 L1604.5 717.8 L1605.5 717.8 L1606.5 717.8 L1607.5 717.7 L1608.5 717.5 L1609.5 717.3 L1610.5 717.2 L1611.5 717 L1612.5 716.8 L1613.5 716.6 L1614.5 716.4 L1615.5 716.2 L1616.5 716.1 L1617.5 716.1 L1618.5 716.1 L1619.5 716.1 L1620.5 716.1 L1621.5 716.2 L1622.5 716.3 L1623.5 716.4 L1624.5 716.5 L1625.5 716.6 L1626.5 716.7 L1627.5 716.8 L1628.5 716.9 L1629.5 717 L1630.5 717.1 L1631.5 717.1 L1632.5 717.1 L1633.5 717.1 L1634.5 717.2 L1635.5 717.3 L1636.5 717.4 L1637.5 717.5 L1638.5 717.6 L1639.5 717.8 L1640.5 718 L1641.5 718.1 L1642.5 718.2 L1643.5 718.3 L1644.5 718.4 L1645.5 718.5 L1646.5 718.5 L1647.5 718.5 L1648.5 718.5 L1649.5 718.5 L1650.5 718.6 L1651.5 718.6 L1652.5 718.6 L1653.5 718.7 L1654.5 718.7 L1655.5 718.7 L1656.5 718.8 L1657.5 718.8 L1658.5 718.8 L1659.5 718.8 L1660.5 718.8 L1661.5 718.8 L1662.5 718.9 L1663.5 719 L1664.5 719.1 L1665.5 719.2 L1666.5 719.3 L1667.5 719.4 L1668.5 719.6 L1669.5 719.7 L1670.5 719.8 L1671.5 719.9 L1672.5 720 L1673.5 720 L1674.5 720.1 L1675.5 720 L1676.5 719.9 L1677.5 719.7 L1678.5 719.5 L1679.5 719.2 L1680.5 718.9 L1681.5 718.5 L1682.5 718.2 L1683.5 717.9 L1684.5 717.6 L1685.5 717.3 L1686.5 717.1 L1687.5 717 L1688.5 717 L1689.5 717 L1690.5 717.1 L1691.5 717.1 L1692.5 717.2 L1693.5 717.3 L1694.5 717.5 L1695.5 717.6 L1696.5 717.7 L1697.5 717.9 L1698.5 718 L1699.5 718.1 L1700.5 718.1 L1701.5 718.2 L1702.5 718.2 L1703.5 718.2 L1704.5 718.2 L1705.5 718.3 L1706.5 718.3 L1707.5 718.4 L1708.5 718.5 L1709.5 718.6 L1710.5 718.7 L1711.5 718.8 L1712.5 718.8 L1713.5 718.9 L1714.5 718.9 L1715.5 719 L1716.5 719 L1717.5 719 L1718.5 718.9 L1719.5 718.9 L1720.5 718.8 L1721.5 718.7 L1722.5 718.6 L1723.5 718.5 L1724.5 718.4 L1725.5 718.3 L1726.5 718.2 L1727.5 718.1 L1728.5 718.1 L1729.5 718 L1730.5 718 L1731.5 718 L1732.5 717.9 L1733.5 717.7 L1734.5 717.5 L1735.5 717.3 L1736.5 717 L1737.5 716.7 L1738.5 716.4 L1739.5 716.1 L1740.5 715.9 L1741.5 715.6 L1742.5 715.5 L1743.5 715.4 L1744.5 715.4 L1745.5 715.4 L1746.5 715.5 L1747.5 715.8 L1748.5 716.1 L1749.5 716.4 L1750.5 716.8 L1751.5 717.3 L1752.5 717.7 L1753.5 718.1 L1754.5 718.5 L1755.5 718.8 L1756.5 719 L1757.5 719.1 L1758.5 719.2 L1759.5 719.2 L1760.5 719.3 L1761.5 719.4 L1762.5 719.5 L1763.5 719.7 L1764.5 719.9 L1765.5 720.1 L1766.5 720.3 L1767.5 720.5 L1768.5 720.6 L1769.5 720.8 L1770.5 720.9 L1771.5 721 L1772.5 721 L1773.5 721 L1774.5 720.9 L1775.5 720.8 L1776.5 720.7 L1777.5 720.5 L1778.5 720.4 L1779.5 720.2 L1780.5 720 L1781.5 719.8 L1782.5 719.7 L1783.5 719.6 L1784.5 719.5 L1785.5 719.4 L1786.5 719.4 L1787.5 719.4 L1788.5 719.3 L1789.5 719.2 L1790.5 719 L1791.5 718.8 L1792.5 718.5 L1793.5 718.3 L1794.5 718 L1795.5 717.8 L1796.5 717.5 L1797.5 717.4 L1798.5 717.2 L1799.5 717.1 L1800.5 717.1 L1801.5 717.1 L1802.5 717.1 L1803.5 717.2 L1804.5 717.2 L1805.5 717.3 L1806.5 717.3 L1807.5 717.4 L1808.5 717.5 L1809.5 717.5 L1810.5 717.6 L1811.5 717.6 L1812.5 717.7 L1813.5 717.7 L1814.5 717.7 L1815.5 717.7 L1816.5 717.7 L1817.5 717.8 L1818.5 717.8 L1819.5 717.9 L1820.5 718 L1821.5 718.1 L1822.5 718.2 L1823.5 718.3 L1824.5 718.3 L1825.5 718.4 L1826.5 718.4 L1827.5 718.5 L1828.5 718.5 L1829.5 718.5 L1830.5 718.6 L1831.5 718.8 L1832.5 719 L1833.5 719.2 L1834.5 719.5 L1835.5 719.8 L1836.5 720.1 L1837.5 720.4 L1838.5 720.7 L1839.5 720.9 L1840.5 721.1 L1841.5 721.2 L1842.5 721.2 L1843.5 721.2 L1844.5 721.1 L1845.5 720.9 L1846.5 720.8 L1847.5 720.6 L1848.5 720.3 L1849.5 720.1 L1850.5 719.8 L1851.5 719.6 L1852.5 719.4 L1853.5 719.2 L1854.5 719.1 L1855.5 719 L1856.5 718.9 L1857.5 718.9 L1858.5 718.9 L1859.5 718.9 L1860.5 718.8 L1861.5 718.8 L1862.5 718.7 L1863.5 718.6" fill="none" stroke="#4b97f4" stroke-width="10" stroke-linejoin="round"/>
<path d="M162.5 869.7 L164 869.7 L165.5 869.7 L167 869.7 L168.5 869.7 L170 869.7 L171.5 869.7 L173 869.7 L174.5 869.7 L176 869.7 L177.5 869.7 L179 869.7 L180.5 869.7 L182 869.7 L183.5 869.7 L185 869.7 L186.5 869.7 L188 869.7 L189.5 869.7 L191 869.7 L192.5 869.7 L194 869.7 L195.5 869.7 L197 869.7 L198.5 869.7 L200 869.7 L201.5 869.7 L203 869.7 L204.5 869.7 L206 869.7 L207.5 869.7 L209 869.7 L210.5 869.7 L212 869.7 L213.5 869.7 L215 869.7 L216.5 869.7 L218 869.7 L219.5 869.7 L221 869.7 L222.5 869.7 L224 869.7 L225.5 869.7 L227 869.7 L228.5 869.7 L230 869.7 L231.5 869.7 L233 869.7 L234.5 869.7 L236 869.7 L237.5 869.7 L239 869.7 L240.5 869.7 L242 869.7 L243.5 869.7 L245 869.7 L246.5 869.7 L248 869.7 L249.5 869.7 L251 869.7 L252.5 869.7 L254 869.7 L255.5 869.7 L257 869.7 L258.5 869.7 L260 869.7 L261.5 869.7 L263 869.7 L264.5 869.7 L266 869.7 L267.5 869.7 L269 869.6 L270.5 869.6 L272 869.6 L273.5 869.6 L275 869.5 L276.5 869.5 L278 869.4 L279.5 869.3 L281 869.1 L282.5 869 L284 868.7 L285.5 868.4 L287 868 L288.5 867.5 L290 866.8 L291.5 865.9 L293 864.7 L294.5 863.2 L296 861.2 L297.5 858.8 L299 855.7 L300.5 852 L302 847.5 L303.5 842.2 L305 836.1 L306.5 829.4 L308 822.3 L309.5 815 L311 807.8 L312.5 800.9 L314 794.7 L315.5 789.1 L317 784.3 L318.5 780.3 L320 777.1 L321.5 774.4 L323 772.3 L324.5 770.7 L326 769.4 L327.5 768.4 L329 767.6 L330.5 767 L332 766.6 L333.5 766.3 L335 766 L336.5 765.8 L338 765.7 L339.5 765.5 L341 765.5 L342.5 765.4 L344 765.4 L345.5 765.3 L347 765.3 L348.5 765.3 L350 765.2 L351.5 765.2 L353 765.2 L354.5 765.2 L356 765.2 L357.5 765.2 L359 765.2 L360.5 765.2 L362 765.2 L363.5 765.2 L365 765.2 L366.5 765.2 L368 765.2 L369.5 765.2 L371 765.2 L372.5 765.2 L374 765.2 L375.5 765.2 L377 765.2 L378.5 765.2 L380 765.2 L381.5 765.2 L383 765.2 L384.5 765.2 L386 765.2 L387.5 765.2 L389 765.2 L390.5 765.2 L392 765.2 L393.5 765.2 L395 765.2 L396.5 765.2 L398 765.2 L399.5 765.2 L401 765.2 L402.5 765.2 L404 765.2 L405.5 765.2 L407 765.2 L408.5 765.2 L410 765.2 L411.5 765.2 L413 765.2 L414.5 765.2 L416 765.2 L417.5 765.2 L419 765.2 L420.5 765.2 L422 765.2 L423.5 765.2 L425 765.2 L426.5 765.2 L428 765.2 L429.5 765.2 L431 765.2 L432.5 765.2 L434 765.2 L435.5 765.2 L437 765.2 L438.5 765.2 L440 765.2 L441.5 765.2 L443 765.2 L444.5 765.2 L446 765.2 L447.5 765.2 L449 765.2 L450.5 765.2 L452 765.2 L453.5 765.2 L455 765.2 L456.5 765.2 L458 765.2 L459.5 765.2 L461 765.2 L462.5 765.2 L464 765.2 L465.5 765.2 L467 765.2 L468.5 765.2 L470 765.2 L471.5 765.2 L473 765.2 L474.5 765.2 L476 765.2 L477.5 765.2 L479 765.2 L480.5 765.2 L482 765.2 L483.5 765.2 L485 765.2 L486.5 765.2 L488 765.2 L489.5 765.2 L491 765.2 L492.5 765.2 L494 765.1 L495.5 765.1 L497 765.1 L498.5 765 L500 765 L501.5 764.9 L503 764.9 L504.5 764.7 L506 764.6 L507.5 764.4 L509 764.1 L510.5 763.8 L512 763.4 L513.5 762.8 L515 762 L516.5 761 L518 759.7 L519.5 758.1 L521 756 L522.5 753.3 L524 750 L525.5 746 L527 741.2 L528.5 735.7 L530 729.4 L531.5 722.5 L533 715.3 L534.5 708 L536 700.8 L537.5 694.1 L539 688.1 L540.5 682.8 L542 678.3 L543.5 674.5 L545 671.4 L546.5 669 L548 667 L549.5 665.5 L551 664.3 L552.5 663.4 L554 662.7 L555.5 662.2 L557 661.8 L558.5 661.5 L560 661.2 L561.5 661.1 L563 660.9 L564.5 660.8 L566 660.7 L567.5 660.7 L569 660.6 L570.5 660.6 L572 660.6 L573.5 660.6 L575 660.5 L576.5 660.5 L578 660.5 L579.5 660.5 L581 660.5 L582.5 660.5 L584 660.5 L585.5 660.5 L587 660.5 L588.5 660.5 L590 660.5 L591.5 660.5 L593 660.5 L594.5 660.5 L596 660.5 L597.5 660.5 L599 660.5 L600.5 660.5 L602 660.5 L603.5 660.5 L605 660.5 L606.5 660.5 L608 660.5 L609.5 660.5 L611 660.5 L612.5 660.5 L614 660.5 L615.5 660.5 L617 660.5 L618.5 660.5 L620 660.5 L621.5 660.5 L623 660.5 L624.5 660.5 L626 660.5 L627.5 660.5 L629 660.5 L630.5 660.5 L632 660.5 L633.5 660.5 L635 660.5 L636.5 660.5 L638 660.5 L639.5 660.5 L641 660.5 L642.5 660.5 L644 660.5 L645.5 660.5 L647 660.5 L648.5 660.5 L650 660.5 L651.5 660.5 L653 660.5 L654.5 660.5 L656 660.5 L657.5 660.5 L659 660.5 L660.5 660.5 L662 660.5 L663.5 660.5 L665 660.5 L666.5 660.5 L668 660.5 L669.5 660.5 L671 660.5 L672.5 660.5 L674 660.5 L675.5 660.5 L677 660.5 L678.5 660.5 L680 660.5 L681.5 660.5 L683 660.5 L684.5 660.5 L686 660.5 L687.5 660.5 L689 660.5 L690.5 660.5 L692 660.5 L693.5 660.5 L695 660.5 L696.5 660.5 L698 660.5 L699.5 660.5 L701 660.5 L702.5 660.5 L704 660.5 L705.5 660.5 L707 660.5 L708.5 660.5 L710 660.5 L711.5 660.5 L713 660.5 L714.5 660.5 L716 660.5 L717.5 660.5 L719 660.5 L720.5 660.5 L722 660.5 L723.5 660.5 L725 660.5 L726.5 660.5 L728 660.5 L729.5 660.5 L731 660.5 L732.5 660.5 L734 660.5 L735.5 660.5 L737 660.5 L738.5 660.5 L740 660.5 L741.5 660.5 L743 660.5 L744.5 660.5 L746 660.5 L747.5 660.5 L749 660.5 L750.5 660.5 L752 660.5 L753.5 660.5 L755 660.5 L756.5 660.5 L758 660.5 L759.5 660.5 L761 660.5 L762.5 660.5 L764 660.5 L765.5 660.5 L767 660.5 L768.5 660.5 L770 660.5 L771.5 660.5 L773 660.5 L774.5 660.5 L776 660.5 L777.5 660.5 L779 660.5 L780.5 660.5 L782 660.5 L783.5 660.5 L785 660.5 L786.5 660.5 L788 660.5 L789.5 660.5 L791 660.5 L792.5 660.5 L794 660.5 L795.5 660.5 L797 660.5 L798.5 660.5 L800 660.5 L801.5 660.5 L803 660.5 L804.5 660.5 L806 660.5 L807.5 660.5 L809 660.5 L810.5 660.5 L812 660.5 L813.5 660.5 L815 660.5 L816.5 660.5 L818 660.5 L819.5 660.5 L821 660.5 L822.5 660.5 L824 660.5 L825.5 660.5 L827 660.5 L828.5 660.5 L830 660.5 L831.5 660.5 L833 660.5 L834.5 660.5 L836 660.5 L837.5 660.5 L839 660.5 L840.5 660.5 L842 660.5 L843.5 660.5 L845 660.5 L846.5 660.5 L848 660.5 L849.5 660.5 L851 660.5 L852.5 660.5 L854 660.5 L855.5 660.5 L857 660.5 L858.5 660.5 L860 660.5 L861.5 660.6 L863 660.6 L864.5 660.6 L866 660.6 L867.5 660.6 L869 660.7 L870.5 660.7 L872 660.8 L873.5 660.9 L875 661 L876.5 661.2 L878 661.4 L879.5 661.6 L881 662 L882.5 662.4 L884 662.9 L885.5 663.6 L887 664.4 L888.5 665.5 L890 666.8 L891.5 668.3 L893 670.2 L894.5 672.4 L896 674.9 L897.5 677.8 L899 680.9 L900.5 684.1 L902 687.5 L903.5 690.8 L905 693.9 L906.5 696.8 L908 699.5 L909.5 701.8 L911 703.8 L912.5 705.5 L914 706.8 L915.5 708 L917 708.9 L918.5 709.6 L920 710.2 L921.5 710.6 L923 711 L924.5 711.2 L926 711.5 L927.5 711.6 L929 711.8 L930.5 711.9 L932 711.9 L933.5 712 L935 712 L936.5 712.1 L938 712.1 L939.5 712.1 L941 712.1 L942.5 712.2 L944 712.2 L945.5 712.2 L947 712.2 L948.5 712.2 L950 712.2 L951.5 712.2 L953 712.2 L954.5 712.2 L956 712.2 L957.5 712.2 L959 712.2 L960.5 712.2 L962 712.2 L963.5 712.2 L965 712.2 L966.5 712.2 L968 712.2 L969.5 712.2 L971 712.2 L972.5 712.2 L974 712.2 L975.5 712.2 L977 712.2 L978.5 712.2 L980 712.2 L981.5 712.2 L983 712.2 L984.5 712.2 L986 712.2 L987.5 712.2 L989 712.2 L990.5 712.2 L992 712.2 L993.5 712.2 L995 712.2 L996.5 712.2 L998 712.2 L999.5 712.2 L1001 712.2 L1002.5 712.2 L1004 712.2 L1005.5 712.2 L1007 712.2 L1008.5 712.2 L1010 712.2 L1011.5 712.2 L1013 712.2 L1014.5 712.2 L1016 712.2 L1017.5 712.2 L1019 712.2 L1020.5 712.2 L1022 712.2 L1023.5 712.2 L1025 712.2 L1026.5 712.2 L1028 712.2 L1029.5 712.2 L1031 712.2 L1032.5 712.2 L1034 712.2 L1035.5 712.2 L1037 712.2 L1038.5 712.2 L1040 712.2 L1041.5 712.2 L1043 712.2 L1044.5 712.2 L1046 712.2 L1047.5 712.2 L1049 712.2 L1050.5 712.2 L1052 712.2 L1053.5 712.2 L1055 712.2 L1056.5 712.2 L1058 712.2 L1059.5 712.2 L1061 712.2 L1062.5 712.2 L1064 712.2 L1065.5 712.2 L1067 712.2 L1068.5 712.2 L1070 712.2 L1071.5 712.2 L1073 712.2 L1074.5 712.2 L1076 712.2 L1077.5 712.2 L1079 712.2 L1080.5 712.2 L1082 712.2 L1083.5 712.2 L1085 712.2 L1086.5 712.2 L1088 712.2 L1089.5 712.2 L1091 712.2 L1092.5 712.2 L1094 712.2 L1095.5 712.2 L1097 712.2 L1098.5 712.2 L1100 712.2 L1101.5 712.2 L1103 712.2 L1104.5 712.2 L1106 712.2 L1107.5 712.2 L1109 712.2 L1110.5 712.2 L1112 712.2 L1113.5 712.2 L1115 712.2 L1116.5 712.2 L1118 712.2 L1119.5 712.2 L1121 712.2 L1122.5 712.2 L1124 712.2 L1125.5 712.2 L1127 712.2 L1128.5 712.2 L1130 712.2 L1131.5 712.2 L1133 712.2 L1134.5 712.2 L1136 712.2 L1137.5 712.2 L1139 712.2 L1140.5 712.2 L1142 712.2 L1143.5 712.2 L1145 712.2 L1146.5 712.2 L1148 712.2 L1149.5 712.2 L1151 712.2 L1152.5 712.2 L1154 712.2 L1155.5 712.2 L1157 712.2 L1158.5 712.2 L1160 712.2 L1161.5 712.2 L1163 712.2 L1164.5 712.2 L1166 712.2 L1167.5 712.2 L1169 712.2 L1170.5 712.2 L1172 712.2 L1173.5 712.2 L1175 712.2 L1176.5 712.2 L1178 712.2 L1179.5 712.2 L1181 712.2 L1182.5 712.2 L1184 712.2 L1185.5 712.2 L1187 712.2 L1188.5 712.2 L1190 712.2 L1191.5 712.2 L1193 712.2 L1194.5 712.2 L1196 712.2 L1197.5 712.2 L1199 712.2 L1200.5 712.2 L1202 712.2 L1203.5 712.2 L1205 712.2 L1206.5 712.2 L1208 712.2 L1209.5 712.2 L1211 712.2 L1212.5 712.2 L1214 712.2 L1215.5 712.2 L1217 712.2 L1218.5 712.2 L1220 712.2 L1221.5 712.2 L1223 712.2 L1224.5 712.2 L1226 712.2 L1227.5 712.2 L1229 712.2 L1230.5 712.2 L1232 712.2 L1233.5 712.2 L1235 712.2 L1236.5 712.2 L1238 712.2 L1239.5 712.2 L1241 712.2 L1242.5 712.2 L1244 712.2 L1245.5 712.2 L1247 712.2 L1248.5 712.2 L1250 712.2 L1251.5 712.2 L1253 712.2 L1254.5 712.2 L1256 712.2 L1257.5 712.2 L1259 712.2 L1260.5 712.2 L1262 712.2 L1263.5 712.2 L1265 712.2 L1266.5 712.2 L1268 712.2 L1269.5 712.2 L1271 712.2 L1272.5 712.2 L1274 712.2 L1275.5 712.2 L1277 712.2 L1278.5 712.2 L1280 712.2 L1281.5 712.2 L1283 712.2 L1284.5 712.2 L1286 712.2 L1287.5 712.2 L1289 712.2 L1290.5 712.2 L1292 712.2 L1293.5 712.2 L1295 712.2 L1296.5 712.2 L1298 712.2 L1299.5 712.2 L1301 712.2 L1302.5 712.2 L1304 712.2 L1305.5 712.2 L1307 712.2 L1308.5 712.2 L1310 712.2 L1311.5 712.2 L1313 712.2 L1314.5 712.2 L1316 712.2 L1317.5 712.2 L1319 712.2 L1320.5 712.2 L1322 712.2 L1323.5 712.2 L1325 712.2 L1326.5 712.2 L1328 712.2 L1329.5 712.2 L1331 712.2 L1332.5 712.2 L1334 712.2 L1335.5 712.2 L1337 712.2 L1338.5 712.2 L1340 712.2 L1341.5 712.2 L1343 712.2 L1344.5 712.2 L1346 712.2 L1347.5 712.2 L1349 712.2 L1350.5 712.2 L1352 712.2 L1353.5 712.2 L1355 712.2 L1356.5 712.2 L1358 712.2 L1359.5 712.2 L1361 712.2 L1362.5 712.2 L1364 712.2 L1365.5 712.2 L1367 712.2 L1368.5 712.2 L1370 712.2 L1371.5 712.2 L1373 712.2 L1374.5 712.2 L1376 712.2 L1377.5 712.2 L1379 712.2 L1380.5 712.2 L1382 712.2 L1383.5 712.2 L1385 712.2 L1386.5 712.2 L1388 712.2 L1389.5 712.2 L1391 712.2 L1392.5 712.2 L1394 712.2 L1395.5 712.2 L1397 712.2 L1398.5 712.2 L1400 712.2 L1401.5 712.2 L1403 712.2 L1404.5 712.2 L1406 712.2 L1407.5 712.2 L1409 712.2 L1410.5 712.2 L1412 712.2 L1413.5 712.2 L1415 712.2 L1416.5 712.2 L1418 712.2 L1419.5 712.2 L1421 712.2 L1422.5 712.2 L1424 712.2 L1425.5 712.2 L1427 712.2 L1428.5 712.2 L1430 712.2 L1431.5 712.2 L1433 712.2 L1434.5 712.2 L1436 712.2 L1437.5 712.2 L1439 712.2 L1440.5 712.2 L1442 712.2 L1443.5 712.2 L1445 712.2 L1446.5 712.2 L1448 712.2 L1449.5 712.2 L1451 712.2 L1452.5 712.2 L1454 712.2 L1455.5 712.2 L1457 712.2 L1458.5 712.2 L1460 712.2 L1461.5 712.2 L1463 712.2 L1464.5 712.2 L1466 712.2 L1467.5 712.2 L1469 712.2 L1470.5 712.2 L1472 712.2 L1473.5 712.2 L1475 712.2 L1476.5 712.2 L1478 712.2 L1479.5 712.2 L1481 712.2 L1482.5 712.2 L1484 712.2 L1485.5 712.2 L1487 712.2 L1488.5 712.2 L1490 712.2 L1491.5 712.2 L1493 712.2 L1494.5 712.2 L1496 712.2 L1497.5 712.2 L1499 712.2 L1500.5 712.2 L1502 712.2 L1503.5 712.2 L1505 712.2 L1506.5 712.2 L1508 712.2 L1509.5 712.2 L1511 712.2 L1512.5 712.2 L1514 712.2 L1515.5 712.2 L1517 712.2 L1518.5 712.2 L1520 712.2 L1521.5 712.2 L1523 712.2 L1524.5 712.2 L1526 712.2 L1527.5 712.2 L1529 712.2 L1530.5 712.2 L1532 712.2 L1533.5 712.2 L1535 712.2 L1536.5 712.2 L1538 712.2 L1539.5 712.2 L1541 712.2 L1542.5 712.2 L1544 712.2 L1545.5 712.2 L1547 712.2 L1548.5 712.2 L1550 712.2 L1551.5 712.2 L1553 712.2 L1554.5 712.2 L1556 712.2 L1557.5 712.2 L1559 712.2 L1560.5 712.2 L1562 712.2 L1563.5 712.2 L1565 712.2 L1566.5 712.2 L1568 712.2 L1569.5 712.2 L1571 712.2 L1572.5 712.2 L1574 712.2 L1575.5 712.2 L1577 712.2 L1578.5 712.2 L1580 712.2 L1581.5 712.2 L1583 712.2 L1584.5 712.2 L1586 712.2 L1587.5 712.2 L1589 712.2 L1590.5 712.2 L1592 712.2 L1593.5 712.2 L1595 712.2 L1596.5 712.2 L1598 712.2 L1599.5 712.2 L1601 712.2 L1602.5 712.2 L1604 712.2 L1605.5 712.2 L1607 712.2 L1608.5 712.2 L1610 712.2 L1611.5 712.2 L1613 712.2 L1614.5 712.2 L1616 712.2 L1617.5 712.2 L1619 712.2 L1620.5 712.2 L1622 712.2 L1623.5 712.2 L1625 712.2 L1626.5 712.2 L1628 712.2 L1629.5 712.2 L1631 712.2 L1632.5 712.2 L1634 712.2 L1635.5 712.2 L1637 712.2 L1638.5 712.2 L1640 712.2 L1641.5 712.2 L1643 712.2 L1644.5 712.2 L1646 712.2 L1647.5 712.2 L1649 712.2 L1650.5 712.2 L1652 712.2 L1653.5 712.2 L1655 712.2 L1656.5 712.2 L1658 712.2 L1659.5 712.2 L1661 712.2 L1662.5 712.2 L1664 712.2 L1665.5 712.2 L1667 712.2 L1668.5 712.2 L1670 712.2 L1671.5 712.2 L1673 712.2 L1674.5 712.2 L1676 712.2 L1677.5 712.2 L1679 712.2 L1680.5 712.2 L1682 712.2 L1683.5 712.2 L1685 712.2 L1686.5 712.2 L1688 712.2 L1689.5 712.2 L1691 712.2 L1692.5 712.2 L1694 712.2 L1695.5 712.2 L1697 712.2 L1698.5 712.2 L1700 712.2 L1701.5 712.2 L1703 712.2 L1704.5 712.2 L1706 712.2 L1707.5 712.2 L1709 712.2 L1710.5 712.2 L1712 712.2 L1713.5 712.2 L1715 712.2 L1716.5 712.2 L1718 712.2 L1719.5 712.2 L1721 712.2 L1722.5 712.2 L1724 712.2 L1725.5 712.2 L1727 712.2 L1728.5 712.2 L1730 712.2 L1731.5 712.2 L1733 712.2 L1734.5 712.2 L1736 712.2 L1737.5 712.2 L1739 712.2 L1740.5 712.2 L1742 712.2 L1743.5 712.2 L1745 712.2 L1746.5 712.2 L1748 712.2 L1749.5 712.2 L1751 712.2 L1752.5 712.2 L1754 712.2 L1755.5 712.2 L1757 712.2 L1758.5 712.2 L1760 712.2 L1761.5 712.2 L1763 712.2 L1764.5 712.2 L1766 712.2 L1767.5 712.2 L1769 712.2 L1770.5 712.2 L1772 712.2 L1773.5 712.2 L1775 712.2 L1776.5 712.2 L1778 712.2 L1779.5 712.2 L1781 712.2 L1782.5 712.2 L1784 712.2 L1785.5 712.2 L1787 712.2 L1788.5 712.2 L1790 712.2 L1791.5 712.2 L1793 712.2 L1794.5 712.2 L1796 712.2 L1797.5 712.2 L1799 712.2 L1800.5 712.2 L1802 712.2 L1803.5 712.2 L1805 712.2 L1806.5 712.2 L1808 712.2 L1809.5 712.2 L1811 712.2 L1812.5 712.2 L1814 712.2 L1815.5 712.2 L1817 712.2 L1818.5 712.2 L1820 712.2 L1821.5 712.2 L1823 712.2 L1824.5 712.2 L1826 712.2 L1827.5 712.2 L1829 712.2 L1830.5 712.2 L1832 712.2 L1833.5 712.2 L1835 712.2 L1836.5 712.2 L1838 712.2 L1839.5 712.2 L1841 712.2 L1842.5 712.2 L1844 712.2 L1845.5 712.2 L1847 712.2 L1848.5 712.2 L1850 712.2 L1851.5 712.2 L1853 712.2 L1854.5 712.2 L1856 712.2 L1857.5 712.2 L1859 712.2 L1860.5 712.2 L1862 712.2 L1863.5 712.2 L1864 712.2" fill="none" stroke="#000" stroke-width="3.2"/>
<path d="M162.5 608.4 V914" stroke="#000" stroke-width="1.8"/>
<path d="M145.3 651 H162.5" stroke="#000" stroke-width="1.8"/>
<path d="M145.3 725.5 H162.5" stroke="#000" stroke-width="1.8"/>
<path d="M145.3 798 H162.5" stroke="#000" stroke-width="1.8"/>
<path d="M145.3 869.6 H162.5" stroke="#000" stroke-width="1.8"/>
<text x="137.2" y="737.2" font-size="32.5" fill="#000" text-anchor="end">0</text>
<text transform="translate(98.2 844.7) rotate(-90)" font-size="31.1">Signal (a.u.)</text>
<path d="M350.1 981.9h0M460.9 981.9h0M555 981.9h0M561 981.9h0M761.6 981.9h0M923.1 981.9h0M928.3 981.9h0M948 981.9h0M1007.6 981.9h0M1012.8 981.9h0M1018 981.9h0M301.4 987.7h0M318.1 987.7h0M333.3 987.7h0M338.5 987.7h0M364.7 987.7h0M369.9 987.7h0M600.1 987.7h0M964.1 987.7h0M1090.7 987.7h0M1095.9 987.7h0M378.4 993.5h0M397.6 993.5h0M402.8 993.5h0M408 993.5h0M413.2 993.5h0M453 993.5h0M458.2 993.5h0M475.9 993.5h0M549.3 993.5h0M565.6 993.5h0M618 993.5h0M623.2 993.5h0M629.2 993.5h0M709.3 993.5h0M714.5 993.5h0M734.1 993.5h0M740.1 993.5h0M745.3 993.5h0M750.5 993.5h0M759.9 993.5h0M874.1 993.5h0M892.2 993.5h0M924.2 993.5h0M930.2 993.5h0M998.8 993.5h0M1004.8 993.5h0M1010.8 993.5h0M1051.4 993.5h0M1069.2 993.5h0M1103.1 993.5h0M1119.5 993.5h0M1124.7 993.5h0M1129.9 993.5h0M288.6 999.3h0M293.8 999.3h0M322.2 999.3h0M332.3 999.3h0M397.5 999.3h0M417.9 999.3h0M423.1 999.3h0M429.1 999.3h0M497 999.3h0M502.2 999.3h0M613.7 999.3h0M671.5 999.3h0M676.7 999.3h0M682.7 999.3h0M695.7 999.3h0M966.4 999.3h0M1105.4 999.3h0M1164.4 999.3h0M1173.4 999.3h0M1179.4 999.3h0M1296.6 999.3h0M1322.5 999.3h0M1333.3 999.3h0M1338.5 999.3h0M1378.6 999.3h0M1390.4 999.3h0M1429.6 999.3h0M1458.3 999.3h0M1470.1 999.3h0M1478.8 999.3h0M446 1005.1h0M852.7 1005.1h0M974.1 1005.1h0M979.3 1005.1h0M1019.6 1005.1h0M1106.5 1005.1h0M1329.5 1005.1h0M1458.5 1005.1h0M522.8 1010.9h0M1324.1 1010.9h0M350 1016.6h0M366.9 1016.6h0M625 1016.6h0M734.5 1016.6h0M856.6 1016.6h0M861.8 1016.6h0M942.8 1016.6h0M993.7 1016.6h0M1256.5 1016.6h0M1262.5 1016.6h0M1267.7 1016.6h0M1398.8 1016.6h0M1404 1016.6h0M286 1022.4h0M309.9 1022.4h0M315.1 1022.4h0M320.3 1022.4h0M338.9 1022.4h0M344.1 1022.4h0M349.3 1022.4h0M393.9 1022.4h0M477 1022.4h0M694.5 1022.4h0M699.7 1022.4h0M730.1 1022.4h0M741.5 1022.4h0M785.1 1022.4h0M790.3 1022.4h0M799.6 1022.4h0M838.2 1022.4h0M1272.1 1022.4h0M1411.7 1022.4h0M1450.1 1022.4h0M1455.3 1022.4h0M370.1 1028.2h0M396.3 1028.2h0M458.9 1028.2h0M464.1 1028.2h0M469.3 1028.2h0M495.9 1028.2h0M501.1 1028.2h0M563.1 1028.2h0M578.9 1028.2h0M588.6 1028.2h0M601.9 1028.2h0M670.4 1028.2h0M678.8 1028.2h0M698 1028.2h0M708.7 1028.2h0M727.6 1028.2h0M745.7 1028.2h0M750.9 1028.2h0M767.3 1028.2h0M809.8 1028.2h0M815.8 1028.2h0M824.8 1028.2h0M867.3 1028.2h0M876 1028.2h0M881.2 1028.2h0M890.9 1028.2h0M908.9 1028.2h0M934.8 1028.2h0M940.8 1028.2h0M950.8 1028.2h0M962.2 1028.2h0M983.3 1028.2h0M995.8 1028.2h0M1020.8 1028.2h0M1026 1028.2h0M1043 1028.2h0M1104.2 1028.2h0M1110.2 1028.2h0M1125.8 1028.2h0M1156.3 1028.2h0M1220.1 1028.2h0M1233.2 1028.2h0M1239.2 1028.2h0M1285.8 1028.2h0M1291 1028.2h0M1322.2 1028.2h0M1331 1028.2h0M1394.5 1028.2h0M1399.7 1028.2h0M1420.7 1028.2h0M1431.2 1028.2h0M1436.4 1028.2h0M1480.3 1028.2h0M1485.5 1028.2h0M1490.7 1028.2h0M369 1034h0M374.2 1034h0M681.4 1034h0M777.9 1034h0M783.1 1034h0M802.9 1034h0M1045.7 1034h0M1057.3 1034h0M1211 1034h0M1477.9 1034h0M1483.1 1034h0M346 1039.8h0M387.8 1039.8h0M393 1039.8h0M1305.5 1039.8h0M1310.7 1039.8h0M1342.1 1039.8h0M1398.1 1039.8h0M1437.1 1039.8h0M1442.3 1039.8h0M1455.9 1039.8h0M361.3 1045.6h0M393.2 1045.6h0M419.6 1045.6h0M465.2 1045.6h0M471.2 1045.6h0M486.5 1045.6h0M493 1045.6h0M528 1045.6h0M533.2 1045.6h0M539.2 1045.6h0M544.4 1045.6h0M553.3 1045.6h0M574.9 1045.6h0M627.2 1045.6h0M632.4 1045.6h0M638.4 1045.6h0M643.6 1045.6h0M681.2 1045.6h0M687.2 1045.6h0M723.1 1045.6h0M729.1 1045.6h0M743.5 1045.6h0M756.8 1045.6h0M770.9 1045.6h0M776.9 1045.6h0M811.2 1045.6h0M829.9 1045.6h0M853.9 1045.6h0M881.9 1045.6h0M898.4 1045.6h0M903.6 1045.6h0M908.8 1045.6h0M914 1045.6h0M919.2 1045.6h0M940.8 1045.6h0M946.8 1045.6h0M1019.3 1045.6h0M1037.7 1045.6h0M1043.7 1045.6h0M1048.9 1045.6h0M1054.1 1045.6h0M1070.1 1045.6h0M1076.1 1045.6h0M1086.8 1045.6h0M1092 1045.6h0M1100.8 1045.6h0M1106.8 1045.6h0M1121.9 1045.6h0M1209.9 1045.6h0M1417.4 1045.6h0M1422.6 1045.6h0M1447.2 1045.6h0M301.9 1051.4h0M307.1 1051.4h0M312.3 1051.4h0M321.4 1051.4h0M727.6 1051.4h0M769.4 1051.4h0M806.6 1051.4h0M948.1 1051.4h0M953.3 1051.4h0M1078 1051.4h0M1411.4 1051.4h0M1417.4 1051.4h0M1422.6 1051.4h0M284.9 1057.2h0M568.4 1057.2h0M595.2 1057.2h0M600.4 1057.2h0M605.6 1057.2h0M647.5 1057.2h0M653.5 1057.2h0M659.5 1057.2h0M665.5 1057.2h0M698 1057.2h0M704 1057.2h0M709.2 1057.2h0M721.5 1057.2h0M753.5 1057.2h0M759.5 1057.2h0M766.6 1057.2h0M924.4 1057.2h0M1045.1 1057.2h0M1050.3 1057.2h0M1055.5 1057.2h0M1096.9 1057.2h0M1126.3 1057.2h0M333.4 1063h0M578 1063h0M595.2 1063h0M608 1063h0M847.2 1063h0M866.6 1063h0M871.8 1063h0M884.1 1063h0M1004.3 1063h0M1013.2 1063h0M1020.1 1063h0M1025.3 1063h0M1090.7 1063h0M1095.9 1063h0M1501.3 1039.8h0M1510.9 1039.8h0M1518.6 1039.8h0M1533.8 1039.8h0M1561.7 1039.8h0M1572.6 1039.8h0M1577.8 1039.8h0M1583.8 1039.8h0M1589 1039.8h0M1594.2 1039.8h0M1599.4 1039.8h0M1604.6 1039.8h0M1610.6 1039.8h0M1615.8 1039.8h0M1623.1 1039.8h0M1628.3 1039.8h0M1633.5 1039.8h0M1638.7 1039.8h0M1656.4 1039.8h0M1664.9 1039.8h0M1670.1 1039.8h0M1676.1 1039.8h0M1681.3 1039.8h0M1686.5 1039.8h0M1702.3 1039.8h0M1708.3 1039.8h0M1714.3 1039.8h0M1720.3 1039.8h0M1734.5 1039.8h0M1739.7 1039.8h0M1744.9 1039.8h0M1750.9 1039.8h0M1756.9 1039.8h0M1781.7 1039.8h0M1813.2 1039.8h0M1819.2 1039.8h0M1825.2 1039.8h0M1830.4 1039.8h0M1836.4 1039.8h0M1842.4 1039.8h0M1848.4 1039.8h0M1853.6 1039.8h0M1858.8 1039.8h0M1864 1039.8h0M1530.2 1045.6h0M1541.4 1045.6h0M1646.5 1045.6h0M1695.8 1045.6h0M1709.1 1045.6h0M1714.3 1045.6h0M1731.8 1045.6h0M1737 1045.6h0M1743 1045.6h0M1802.9 1045.6h0M1844.4 1045.6h0M1525.8 1051.4h0M1551.6 1051.4h0M1557.6 1051.4h0M1571.7 1051.4h0M1579.6 1051.4h0M1585.6 1051.4h0M1593.3 1051.4h0M1612.8 1051.4h0M1677.4 1051.4h0M1718.6 1051.4h0M1736.4 1051.4h0M1762 1051.4h0M1776.4 1051.4h0M1788.2 1051.4h0M1794.2 1051.4h0M1799.4 1051.4h0M1813.3 1051.4h0M1833.4 1051.4h0M1518.1 1057.2h0M1524.1 1057.2h0M1607.2 1057.2h0M1777.8 1057.2h0M1520.8 1063h0M1526.8 1063h0M1572.1 1063h0M1645.6 1063h0M1655.6 1063h0M1660.8 1063h0M1666.8 1063h0M1712.8 1063h0M1731.8 1063h0M1737.8 1063h0M1753.9 1063h0M1763.3 1063h0M1769.3 1063h0M1775.5 1063h0M1821 1063h0M1841.1 1063h0M1847.1 1063h0M1852.3 1063h0M225 1045.4h0M383.3 1195.5h0M316.2 1172.4h0M356.4 1184h0M325.8 1137.9h0M296.4 1143.6h0M341.9 1149.4h0M300.6 1120.6h0M359.9 1201.3h0M309.8 1201.3h0M329 1132.1h0M372.3 1114.8h0M293.3 1149.4h0M303.6 1184h0M414.2 1189.7h0M399.8 1149.4h0M410.1 1166.7h0M405.6 1137.9h0M537.7 1207h0M537.6 1184h0M447.1 1097.5h0M435.6 1126.3h0M471.5 1149.4h0M500.5 1114.8h0M523.1 1178.2h0M519.8 1126.3h0M554 1195.5h0M471.1 1114.8h0M447.4 1109h0M444.2 1160.9h0M454.4 1109h0M485.2 1195.5h0M436.5 1097.5h0M554.7 1207h0M655.7 1120.6h0M613.3 1184h0M628.7 1149.4h0M562.2 1149.4h0M699.9 1184h0M688.6 1132.1h0M579.8 1166.7h0M649.9 1184h0M640.6 1109h0M617.1 1149.4h0M632.7 1109h0M590.8 1103.3h0M597.9 1137.9h0M580.4 1109h0M637.5 1114.8h0M697.8 1172.4h0M678.1 1195.5h0M572.9 1137.9h0M578.1 1160.9h0M560.7 1109h0M750.5 1120.6h0M703 1097.5h0M764.2 1195.5h0M821.5 1166.7h0M707.4 1109h0M727.1 1132.1h0M701.7 1178.2h0M711.9 1189.7h0M783.8 1143.6h0M771.1 1184h0M722.4 1103.3h0M760.9 1189.7h0M831.6 1201.3h0M789 1207h0M730.2 1103.3h0M807.7 1172.4h0M813.7 1172.4h0M828.1 1172.4h0M702.1 1166.7h0M824.8 1126.3h0M742.4 1120.6h0M759.1 1132.1h0M839.2 1109h0M755.1 1132.1h0M737.9 1132.1h0M890.9 1184h0M933.3 1097.5h0M947.7 1114.8h0M850.8 1178.2h0M845 1166.7h0M963.9 1172.4h0M930.7 1132.1h0M974.5 1184h0M904.1 1207h0M873.1 1178.2h0M971.3 1160.9h0M842 1097.5h0M852 1172.4h0M945.5 1120.6h0M886.8 1160.9h0M861.3 1132.1h0M965.5 1189.7h0M852.6 1195.5h0M854.8 1114.8h0M892.5 1166.7h0M966.9 1160.9h0M1066.1 1195.5h0M1122.8 1137.9h0M1018.9 1120.6h0M981.9 1195.5h0M999.8 1166.7h0M1078.4 1184h0M981.2 1103.3h0M1042 1132.1h0M1086 1189.7h0M1097.3 1137.9h0M1099 1103.3h0M985.7 1137.9h0M1110.9 1166.7h0M1062.5 1097.5h0M1046.6 1178.2h0M409.8 1230.1h0M361.8 1276.2h0M381.3 1258.9h0M413.2 1322.3h0M325.7 1282h0M364.8 1241.6h0M372 1224.3h0M384.4 1218.6h0M368.6 1305h0M409.8 1230.1h0M395.4 1264.7h0M397 1276.2h0M346.6 1235.9h0M351.7 1224.3h0M499.1 1316.6h0M483.6 1316.6h0M523.9 1218.6h0M467.9 1230.1h0M472.4 1235.9h0M456.9 1270.5h0M487.8 1258.9h0M523.8 1235.9h0M455.2 1258.9h0M507.6 1212.8h0M443.3 1282h0M518.3 1253.2h0M542.7 1316.6h0M548.1 1293.5h0M503.1 1241.6h0M427.3 1316.6h0M498.6 1276.2h0M483.8 1212.8h0M489.2 1322.3h0M423.6 1218.6h0M436.4 1287.7h0M505.6 1305h0M500.8 1322.3h0M552.9 1310.8h0M518.8 1230.1h0M573 1316.6h0M660.2 1224.3h0M650.8 1264.7h0M660.9 1310.8h0M693.9 1224.3h0M576.9 1258.9h0M596.2 1264.7h0M601.9 1264.7h0M632.2 1270.5h0M625.2 1299.3h0M651.8 1235.9h0M604 1258.9h0M588.7 1322.3h0M581 1224.3h0M649.6 1224.3h0M647 1293.5h0M724.5 1282h0M828.1 1235.9h0M796.2 1241.6h0M830.9 1293.5h0M827.7 1276.2h0M760.7 1235.9h0M769.1 1316.6h0M833.1 1310.8h0M777.7 1247.4h0M758.7 1241.6h0M817 1258.9h0M786.4 1264.7h0M736.3 1247.4h0M818.4 1276.2h0M737 1305h0M833.9 1224.3h0M796.6 1230.1h0M887.1 1230.1h0M961.9 1230.1h0M958.2 1264.7h0M865 1316.6h0M893.8 1310.8h0M941.4 1270.5h0M854 1258.9h0M963.5 1270.5h0M849 1264.7h0M897.5 1270.5h0M848.8 1287.7h0M849.6 1264.7h0M1119.6 1218.6h0M1040.2 1305h0M1041.6 1293.5h0M1042.4 1253.2h0M1060.1 1316.6h0M1080.9 1230.1h0M1118.1 1270.5h0M1049 1224.3h0M1005.2 1230.1h0M997 1253.2h0M994.1 1310.8h0M1036.3 1310.8h0M1020.3 1230.1h0M346.3 1426.1h0M290.3 1403h0M417.5 1420.3h0M336.5 1351.2h0M409 1356.9h0M404 1385.8h0M294.6 1420.3h0M292.2 1380h0M326.4 1408.8h0M408.9 1426.1h0M370.8 1431.9h0M323.4 1374.2h0M346.7 1374.2h0M526.2 1397.3h0M433.8 1437.6h0M448.4 1437.6h0M482.3 1345.4h0M438.7 1368.5h0M510 1356.9h0M456 1408.8h0M540 1408.8h0M532.3 1356.9h0M434.7 1414.6h0M683.9 1431.9h0M657.7 1391.5h0M660.9 1426.1h0M588.9 1345.4h0M607.1 1328.1h0M627.4 1431.9h0M682.5 1414.6h0M688.7 1420.3h0M644.8 1380h0M682.8 1333.9h0M633.3 1351.2h0M618.1 1380h0M600.6 1351.2h0M666 1362.7h0M560.1 1333.9h0M603.7 1356.9h0M652.6 1403h0M675 1403h0M654.6 1431.9h0M688 1385.8h0M630.7 1420.3h0M670.5 1437.6h0M582.3 1328.1h0M651.3 1414.6h0M670.7 1426.1h0M817.2 1408.8h0M731.8 1333.9h0M767 1328.1h0M803.2 1345.4h0M836.4 1356.9h0M733.3 1420.3h0M791.1 1397.3h0M758.5 1397.3h0M790.4 1368.5h0M728.7 1328.1h0M781.4 1368.5h0M752.2 1420.3h0M742.9 1431.9h0M752.2 1345.4h0M777.1 1437.6h0M809.8 1408.8h0M824.9 1333.9h0M817.7 1420.3h0M759.6 1351.2h0M702 1408.8h0M714.9 1362.7h0M964.5 1408.8h0M906.7 1414.6h0M850.4 1420.3h0M927.3 1437.6h0M926 1437.6h0M868.6 1437.6h0M978.5 1408.8h0M975.6 1362.7h0M868.1 1385.8h0M891.7 1426.1h0M864.1 1339.6h0M840.5 1397.3h0M848.1 1403h0M942 1362.7h0M894.8 1397.3h0M965.2 1345.4h0M870.4 1362.7h0M1113.2 1397.3h0M1040.5 1351.2h0M1020.5 1328.1h0M1093.6 1420.3h0M1092.9 1374.2h0M1115.7 1368.5h0M1101.9 1403h0M1110.6 1426.1h0M1088.4 1408.8h0M1028.5 1362.7h0M1086 1374.2h0M1008.4 1333.9h0M1123.5 1426.1h0M1034.1 1356.9h0M380.7 1460.7h0M333.9 1518.3h0M369.7 1466.5h0M285.9 1472.2h0M380.2 1466.5h0M385.3 1460.7h0M348 1541.4h0M521.7 1501h0M488.3 1454.9h0M421 1506.8h0M521.2 1449.2h0M526 1506.8h0M457.1 1529.9h0M483.2 1547.2h0M505.1 1501h0M477.7 1541.4h0M479.7 1512.6h0M556.9 1524.1h0M452.1 1443.4h0M435.3 1495.3h0M429.9 1535.6h0M487.8 1541.4h0M513.1 1454.9h0M603.9 1552.9h0M662.2 1454.9h0M584.4 1518.3h0M679.9 1506.8h0M603.3 1449.2h0M689.8 1460.7h0M667 1454.9h0M565.7 1454.9h0M683.1 1535.6h0M622 1478h0M619.4 1466.5h0M622.9 1552.9h0M695.8 1454.9h0M594.1 1535.6h0M676.4 1495.3h0M602.4 1547.2h0M600.9 1512.6h0M722.4 1460.7h0M712.3 1518.3h0M821.9 1501h0M795.5 1506.8h0M745.5 1524.1h0M745.9 1529.9h0M798.1 1524.1h0M783.3 1449.2h0M743.3 1495.3h0M815.1 1524.1h0M773.6 1535.6h0M771 1535.6h0M779.8 1535.6h0M757.8 1524.1h0M786.1 1478h0M830.8 1512.6h0M718.4 1460.7h0M745.2 1524.1h0M742.8 1449.2h0M758.9 1506.8h0M715.2 1547.2h0M762.4 1443.4h0M705.8 1495.3h0M782.6 1460.7h0M709.5 1449.2h0M881.3 1454.9h0M879.8 1495.3h0M844.8 1483.8h0M881.5 1524.1h0M913.9 1501h0M919 1535.6h0M957.8 1512.6h0M904.8 1552.9h0M864.8 1449.2h0M979.5 1529.9h0M852.4 1552.9h0M963.9 1524.1h0M968.9 1506.8h0M972 1501h0M894.6 1460.7h0M979.6 1524.1h0M1001.4 1466.5h0M1047.7 1541.4h0M1006.8 1489.5h0M981.4 1518.3h0M1026.7 1512.6h0M1071.7 1478h0M1114.9 1518.3h0M1047.3 1535.6h0M1036 1495.3h0M1101.1 1478h0M308 1103.3h0M320.2 1149.4h0M308 1160.9h0M300.3 1178.2h0M306.8 1195.5h0M297.4 1201.3h0M321.6 1207h0M295.8 1218.6h0M321.9 1224.3h0M298.7 1253.2h0M295.8 1258.9h0M314.2 1264.7h0M302.5 1276.2h0M301.3 1333.9h0M296.3 1345.4h0M304.3 1351.2h0M294.2 1426.1h0M294.2 1437.6h0M299.7 1449.2h0M319.8 1478h0M310.6 1483.8h0M299.2 1524.1h0M314.8 1541.4h0M1147.7 1097.5h0M1242.6 1097.5h0M1261.3 1097.5h0M1303.9 1097.5h0M1352.3 1097.5h0M1407.7 1097.5h0M1427.2 1097.5h0M1444.2 1097.5h0M1477.2 1097.5h0M1525 1097.5h0M1578.8 1097.5h0M1586.3 1097.5h0M1617 1097.5h0M1659.7 1097.5h0M1671 1097.5h0M1677 1097.5h0M1814.5 1097.5h0M1820.5 1097.5h0M1856.4 1097.5h0M1132.9 1103.3h0M1149.3 1103.3h0M1158.4 1103.3h0M1185 1103.3h0M1310.1 1103.3h0M1316.1 1103.3h0M1338.7 1103.3h0M1400.4 1103.3h0M1451.4 1103.3h0M1457.4 1103.3h0M1470.9 1103.3h0M1488.1 1103.3h0M1605.2 1103.3h0M1635.6 1103.3h0M1651.1 1103.3h0M1685.1 1103.3h0M1719.6 1103.3h0M1728 1103.3h0M1785.2 1103.3h0M1851.6 1103.3h0M1148.1 1109h0M1224.7 1109h0M1387.5 1109h0M1436.8 1109h0M1442.8 1109h0M1479.4 1109h0M1535.9 1109h0M1556.8 1109h0M1616.7 1109h0M1640.6 1109h0M1690.4 1109h0M1739.9 1109h0M1797.6 1109h0M1153.2 1114.8h0M1217.5 1114.8h0M1280.8 1114.8h0M1294.5 1114.8h0M1344 1114.8h0M1394.3 1114.8h0M1400.3 1114.8h0M1473.3 1114.8h0M1486.7 1114.8h0M1521.9 1114.8h0M1560.5 1114.8h0M1627.1 1114.8h0M1702.5 1114.8h0M1735.3 1114.8h0M1145.3 1120.6h0M1188.7 1120.6h0M1437 1120.6h0M1457.3 1120.6h0M1522.4 1120.6h0M1685.3 1120.6h0M1691.3 1120.6h0M1769.3 1120.6h0M1824.2 1120.6h0M1864.5 1120.6h0M1157.8 1126.3h0M1166 1126.3h0M1200.7 1126.3h0M1250.4 1126.3h0M1312.8 1126.3h0M1478.2 1126.3h0M1562.7 1126.3h0M1654.3 1126.3h0M1660.3 1126.3h0M1689.2 1126.3h0M1816.4 1126.3h0M1154.7 1132.1h0M1175.8 1132.1h0M1252.2 1132.1h0M1291.6 1132.1h0M1348.9 1132.1h0M1401.6 1132.1h0M1505.9 1132.1h0M1571 1132.1h0M1754.1 1132.1h0M1789.5 1132.1h0M1824.9 1132.1h0M1148.9 1137.9h0M1154.9 1137.9h0M1321.3 1137.9h0M1341.3 1137.9h0M1377.3 1137.9h0M1383.3 1137.9h0M1394.2 1137.9h0M1531.6 1137.9h0M1548.5 1137.9h0M1566.9 1137.9h0M1653.8 1137.9h0M1668.2 1137.9h0M1725.4 1137.9h0M1769.1 1137.9h0M1146.3 1143.6h0M1167 1143.6h0M1182.6 1143.6h0M1206.1 1143.6h0M1212.1 1143.6h0M1218.8 1143.6h0M1227.1 1143.6h0M1246.8 1143.6h0M1322.8 1143.6h0M1470.8 1143.6h0M1493.6 1143.6h0M1508.5 1143.6h0M1526.6 1143.6h0M1578.1 1143.6h0M1612 1143.6h0M1618.5 1143.6h0M1657.1 1143.6h0M1673.4 1143.6h0M1681.5 1143.6h0M1761.5 1143.6h0M1767.5 1143.6h0M1797.6 1143.6h0M1148.3 1149.4h0M1255.8 1149.4h0M1275.7 1149.4h0M1427.8 1149.4h0M1433.8 1149.4h0M1551.1 1149.4h0M1579.8 1149.4h0M1585.8 1149.4h0M1601.4 1149.4h0M1834.9 1149.4h0M1154.1 1160.9h0M1240.8 1160.9h0M1246.8 1160.9h0M1265.8 1160.9h0M1298.4 1160.9h0M1423.2 1160.9h0M1547.3 1160.9h0M1555.7 1160.9h0M1782.9 1160.9h0M1825 1160.9h0M1843.9 1160.9h0M1849.9 1160.9h0M1147.6 1166.7h0M1179 1166.7h0M1198.4 1166.7h0M1351.9 1166.7h0M1385.4 1166.7h0M1404.5 1166.7h0M1482.7 1166.7h0M1497.3 1166.7h0M1525.8 1166.7h0M1531.8 1166.7h0M1546 1166.7h0M1847.9 1166.7h0M1147.7 1172.4h0M1205.9 1172.4h0M1263.9 1172.4h0M1302.2 1172.4h0M1325.9 1172.4h0M1334.2 1172.4h0M1340.2 1172.4h0M1346.9 1172.4h0M1374 1172.4h0M1380 1172.4h0M1438.3 1172.4h0M1459.7 1172.4h0M1473.6 1172.4h0M1493.1 1172.4h0M1528.4 1172.4h0M1540.7 1172.4h0M1640.1 1172.4h0M1674.4 1172.4h0M1680.4 1172.4h0M1686.4 1172.4h0M1801.4 1172.4h0M1846.3 1172.4h0M1864.2 1172.4h0M1133.4 1178.2h0M1247.6 1178.2h0M1391 1178.2h0M1447.8 1178.2h0M1453.8 1178.2h0M1482.6 1178.2h0M1576.9 1178.2h0M1623.7 1178.2h0M1635.9 1178.2h0M1649.8 1178.2h0M1655.8 1178.2h0M1694.1 1178.2h0M1704.5 1178.2h0M1735.2 1178.2h0M1852.7 1178.2h0M1146.8 1184h0M1226.4 1184h0M1233.9 1184h0M1387.4 1184h0M1491.7 1184h0M1526 1184h0M1638.9 1184h0M1657.3 1184h0M1861.9 1184h0M1159.7 1189.7h0M1254.1 1189.7h0M1395.9 1189.7h0M1463.4 1189.7h0M1469.4 1189.7h0M1486.4 1189.7h0M1541.9 1189.7h0M1666.3 1189.7h0M1725.7 1189.7h0M1731.7 1189.7h0M1753.9 1189.7h0M1775.9 1189.7h0M1785.7 1189.7h0M1798.9 1189.7h0M1836.7 1189.7h0M1860.9 1189.7h0M1144.4 1195.5h0M1297.3 1195.5h0M1344.6 1195.5h0M1417 1195.5h0M1557.3 1195.5h0M1563.3 1195.5h0M1673.8 1195.5h0M1679.8 1195.5h0M1691.1 1195.5h0M1761.1 1195.5h0M1833.8 1195.5h0M1146.3 1201.3h0M1212.9 1201.3h0M1241.9 1201.3h0M1253.2 1201.3h0M1266 1201.3h0M1272.3 1201.3h0M1278.3 1201.3h0M1436.1 1201.3h0M1592.1 1201.3h0M1614.4 1201.3h0M1642 1201.3h0M1659 1201.3h0M1738.1 1201.3h0M1773.3 1201.3h0M1783 1201.3h0M1159.9 1207h0M1165.9 1207h0M1197.8 1207h0M1210.8 1207h0M1263.8 1207h0M1286.9 1207h0M1305.3 1207h0M1324 1207h0M1372.6 1207h0M1409 1207h0M1443.8 1207h0M1503.1 1207h0M1536.5 1207h0M1689.1 1207h0M1719.1 1207h0M1800.7 1207h0M225 1537.6h0" stroke="#000" stroke-width="5" stroke-linecap="round"/>
<rect x="162.7" y="982.1" width="20.8" height="86.9" fill="#e9e9e9"/>
<rect x="163" y="1096.7" width="20.3" height="463.5" fill="#b6b6b6"/>
<text x="165.8" y="1038.7" font-size="31.8" fill="#000">I</text>
<text x="162.2" y="1339.9" font-size="32.8" fill="#000">E</text>
<text transform="translate(117.8 1352.5) rotate(-90)" font-size="31.2">Spike trains</text>
<circle cx="308.6" cy="1155.2" r="8.5" fill="#0aaa0a"/>
<circle cx="412.5" cy="1155.2" r="8.5" fill="#0aaa0a"/>
<circle cx="798.2" cy="1155.2" r="8.5" fill="#0aaa0a"/>
<circle cx="1190.9" cy="1155.2" r="8.5" fill="#0aaa0a"/>
<circle cx="1262.6" cy="1155.2" r="8.5" fill="#0aaa0a"/>
<circle cx="1308.7" cy="1155.2" r="8.5" fill="#0aaa0a"/>
<circle cx="1458.3" cy="1155.2" r="8.5" fill="#0aaa0a"/>
<circle cx="1497.7" cy="1155.2" r="8.5" fill="#0aaa0a"/>
<circle cx="1532.6" cy="1155.2" r="8.5" fill="#0aaa0a"/>
<circle cx="1578.3" cy="1155.2" r="8.5" fill="#0aaa0a"/>
<circle cx="1647.2" cy="1155.2" r="8.5" fill="#0aaa0a"/>
<circle cx="1769.5" cy="1155.2" r="8.5" fill="#0aaa0a"/>
<circle cx="1807.6" cy="1155.2" r="8.5" fill="#0aaa0a"/>
<circle cx="1834.4" cy="1155.2" r="8.5" fill="#0aaa0a"/>
<path d="M162.5 1628.5 V1798.5" stroke="#000" stroke-width="1.8"/>
<path d="M145.3 1657 H162.5" stroke="#000" stroke-width="1.8"/>
<path d="M145.3 1685.3 H162.5" stroke="#000" stroke-width="1.8"/>
<path d="M145.3 1713.6 H162.5" stroke="#000" stroke-width="1.8"/>
<path d="M145.3 1742 H162.5" stroke="#000" stroke-width="1.8"/>
<text x="137.2" y="1696.5" font-size="32.7" fill="#000" text-anchor="end">T</text>
<text x="137.2" y="1752.7" font-size="32.3" fill="#000" text-anchor="end">R</text>
<text transform="translate(92.9 1802.4) rotate(-90)" font-size="31.2">Voltage (a.u)</text>
<path d="M162.5 1780.3 L164 1783.4 L165.5 1781.9 L167 1779.5 L168.5 1776.3 L170 1779.8 L171.5 1778.8 L173 1775.4 L174.5 1774.2 L176 1770.9 L177.5 1768 L179 1769.8 L180.5 1770.4 L182 1765.2 L183.5 1769.9 L185 1764.3 L186.5 1763.2 L188 1760.5 L189.5 1767.1 L191 1763.9 L192.5 1763.9 L194 1760.7 L195.5 1755 L197 1756.2 L198.5 1756.5 L200 1752.3 L201.5 1757.9 L203 1752.1 L204.5 1749.3 L206 1753.5 L207.5 1746.8 L209 1752.2 L210.5 1748.7 L212 1752.6 L213.5 1754 L215 1758.2 L216.5 1759 L218 1760.9 L219.5 1770.6 L221 1768.7 L222.5 1776.1 L224 1774.7 L224.5 1777 L225.3 1762 L225.3 1799 M244.8 1799 L246.1 1799 L247.4 1796.1 L248.7 1793.8 L250 1789.1 L251.3 1788.4 L252.6 1778.7 L253.9 1780.5 L255.2 1782.2 L256.5 1772.2 L257.8 1778.4 L259.1 1775.5 L260.4 1767.3 L261.7 1764.3 L263 1762.9 L264.3 1759.7 L265.6 1764.5 L266.9 1754.7 L268.2 1748 L269.5 1746.3 L270.8 1751.3 L272.1 1752.2 L273.4 1743.7 L274.7 1741.2 L276 1739.5 L277.3 1739.4 L278.6 1730.6 L279.9 1732.8 L281.2 1729.7 L282.5 1728 L283.8 1720.2 L285.1 1717.6 L286.4 1717.3 M287.2 1721.2 L288.5 1767.6 L290.4 1720.8 L291.4 1764.3 L294.4 1719.2 L295.6 1754.1 L298.2 1709.1 L298.8 1748.5 L300.1 1716.3 L300.9 1746.1 L302.2 1701.5 L302.8 1761.6 L304.6 1717.3 L305.2 1759.7 L306.5 1705.6 L307 1742.9 L308.4 1720 L308.6 1705.5 L308.6 1628.5 L309.2 1797 L310.1 1775.7 L311 1737.9 L311.2 1781.9 L311.8 1744 L312.3 1779.7 L313.1 1753.6 L313.4 1787.3 L314.1 1737.9 L314.5 1775.3 L315.4 1737 L315.8 1783.8 L316.6 1744.9 L316.9 1775.5 L318 1743.5 L318.4 1785.1 L319.1 1742.8 L319.6 1776.2 L320.5 1738.3 L320.8 1774.1 L322.1 1733.3 L322.5 1770.3 L323.5 1737.3 L324 1778 L325.9 1721.6 L326.9 1769.7 L328.5 1718.3 L329.5 1762.3 L332.4 1707.4 L333.6 1764.6 L335.6 1705.9 L337 1764.3 L339.7 1705.3 L340.9 1766.9 L343 1707.3 L344.4 1764.2 L347.4 1710 L348.9 1765.3 L351.3 1709.6 L352.6 1765.8 L356.3 1703.4 L357.4 1764.9 L360.3 1703.5 L361.9 1764.1 L364.1 1711.3 L365.1 1767.9 L368.2 1707.5 L369.3 1769.5 L371.6 1706.5 L372.9 1767.1 L376.6 1706.1 L377.9 1766.2 L380.6 1703.5 L382.2 1770.8 L385.8 1705.4 L387.1 1769.9 L390.3 1702.1 L391.6 1768.3 L394.4 1708.4 L395.4 1766.3 L398.4 1701.8 L399.6 1765.2 L403 1710.6 L404.6 1770.3 L406.8 1708 L408.1 1762 L411.1 1697.9 L412 1748.3 L412.5 1686.1 L412.5 1628.5 L413.1 1797 L414 1786.3 L417.8 1733.6 L418.9 1787.1 L421.7 1728.4 L422.8 1787 L426.6 1726.5 L428.5 1785.1 L432.4 1730.4 L433.5 1781.9 L436.1 1726.8 L437.7 1788.4 L441.2 1725.7 L443 1783 L445.9 1728.6 L447.4 1784.2 L450.7 1728.6 L452.4 1786.9 L456.2 1723.5 L457.8 1788.8 L461.4 1721.3 L463.3 1785.1 L467.3 1720.4 L468.4 1783 L472 1718.4 L473.2 1782.4 L476.6 1713.6 L477.7 1778.7 L480.7 1717.6 L481.6 1772.5 L484.6 1718.5 L485.9 1772.6 L488.4 1714.2 L489.5 1769.1 L492.7 1718.2 L493.9 1771.1 L496.3 1712.7 L497.4 1770.3 L500.6 1712.2 L501.8 1766.8 L503.6 1717.1 L504.6 1770.5 L507.1 1719.5 L508.3 1766.5 L510.2 1722.4 L511.4 1769.5 L513.8 1696.6 L514.5 1756.5 L515.7 1704.9 L516.1 1751.9 L517.6 1696.5 L518 1741.7 L519.1 1691.9 L519.7 1746.3 L521.2 1703.1 L521.8 1744 L523.1 1713 L523.7 1742.9 L524.8 1708.9 L525.4 1745.4 L526.8 1692.9 L527.4 1754.2 L528.7 1693.2 L529.1 1739.4 L530.2 1693.4 L530.7 1756.3 L532.2 1693.9 L532.8 1756.3 L534.2 1696.5 L534.8 1756.4 L536.1 1691.9 L536.7 1740.9 L538.1 1691.1 L538.5 1737.7 L540 1692.4 L540.7 1744.3 L541.8 1712.7 L542.6 1748.6 L544.1 1703 L544.9 1753.5 L547.1 1703.6 L547.7 1760.9 L549.8 1705.1 L550.4 1754.3 L551.9 1711.1 L552.6 1755 L554.4 1711.7 L555.1 1756.8 L556.7 1709.3 L557.4 1759.9 L559 1717.2 L559.8 1762.9 L561.6 1716.2 L562.3 1762.2 L564.5 1720.8 L565.1 1763.6 L566.4 1729.2 L567.1 1770.8 L568.3 1741.3 L568.8 1770.8 L570.1 1731.5 L570.6 1777.7 L572.1 1738.6 L572.8 1778.8 L574.1 1734.6 L574.9 1780.3 L576.3 1723.3 L576.8 1789.5 L577.9 1729.9 L578.3 1779.1 L579.6 1724.9 L580.2 1785.8 L581.8 1720.9 L582.4 1778.5 L583.5 1731.7 L584.2 1774 L585.4 1739.8 L586 1775.4 L587.6 1719.2 L588 1786.4 L589 1735.4 L589.6 1784.8 L591.2 1730.9 L591.8 1794.8 L593 1722.8 L593.5 1779 L595.1 1733.9 L595.6 1788.3 L597.2 1740 L597.9 1773.8 L599.4 1735 L600 1774.2 L601.7 1722.2 L602.2 1772.5 L603.6 1723.3 L604.3 1792.7 L605.3 1733.5 L605.7 1775.4 L607 1730.7 L607.6 1786.3 L609.1 1721.9 L609.8 1788.1 L611.5 1722 L612 1788.8 L613.3 1721.8 L613.7 1791.5 L614.9 1725.1 L615.6 1780.4 L617.1 1733.2 L617.7 1778.6 L619.2 1735 L619.7 1782.6 L621.1 1737.7 L621.7 1790.7 L623 1729.2 L623.5 1776 L624.9 1720.6 L625.6 1790.9 L627.1 1730.2 L627.9 1776.2 L629.1 1728.8 L629.8 1790.5 L631 1719.1 L631.6 1791.7 L633.3 1741 L634 1785 L635.6 1720.1 L636.2 1787.5 L637.1 1736.2 L637.6 1790.2 L639.2 1725.1 L639.6 1783.2 L641.1 1723.4 L641.8 1786.6 L643.2 1722.1 L643.9 1782.9 L644.9 1723.4 L645.6 1785.1 L647.3 1727 L647.7 1782.4 L648.8 1724.1 L649.3 1780.9 L650.9 1727.1 L651.5 1787.8 L653.2 1729 L653.7 1783.5 L654.7 1728.1 L655.4 1779.9 L657 1728.4 L657.4 1778.2 L658.6 1727.9 L659.2 1787.4 L660.9 1735.8 L661.4 1775.3 L662.5 1728 L663.1 1788.8 L664.8 1720.1 L665.5 1776.5 L666.8 1739.1 L667.3 1789 L668.8 1722.3 L669.6 1791.4 L670.9 1741.4 L671.5 1775.6 L672.5 1736.6 L673.3 1772.7 L674.5 1722.6 L675 1792.5 L676 1732.5 L676.6 1784.9 L677.8 1721.7 L678.3 1774.2 L679.7 1736.6 L680.3 1786.2 L681.5 1729.9 L681.9 1781.6 L683.6 1731.3 L684.2 1780.4 L685.8 1730.4 L686.4 1794.6 L687.6 1733.1 L688.2 1789.1 L689.3 1737.7 L689.9 1779.7 L691.1 1735.7 L691.7 1787.6 L693.3 1724.2 L693.9 1774.4 L695.4 1721.8 L695.9 1781.5 L697.6 1722.7 L698.2 1791.7 L699.2 1722.1 L699.8 1779.2 L701.5 1730.8 L702.2 1774 L703.9 1719.6 L704.4 1770.5 L705.7 1722.7 L706.2 1773 L707.6 1734.9 L708.3 1778.9 L709.6 1728.5 L710.1 1791.4 L711.6 1730.9 L712.3 1781.7 L714 1724.4 L714.7 1789.2 L716.2 1713.9 L717 1766.4 L718.3 1732.6 L718.8 1784 L720.5 1711.9 L721.2 1779.7 L723 1720.5 L723.6 1768.9 L725.6 1729.7 L726.3 1772.6 L727.5 1731.8 L728.3 1766 L730.3 1720.8 L730.8 1778 L732.7 1720.4 L733.4 1770.4 L735.1 1707.6 L735.6 1776.2 L737.5 1709.9 L738 1780.7 L740 1706.5 L740.7 1765.8 L741.9 1707.4 L742.6 1765.7 L744.4 1726 L745.3 1761.7 L747 1717.9 L747.9 1774.7 L749.7 1730.1 L750.2 1775.7 L751.8 1718 L752.6 1767.4 L754.4 1712.5 L755 1754.6 L756.7 1701.3 L757.5 1770.2 L759.3 1701.8 L759.9 1766 L762 1719.4 L762.9 1772.1 L764.6 1720.7 L765.4 1751.9 L767.1 1697.1 L767.7 1752.4 L769.8 1709.5 L770.4 1761.8 L771.8 1719.9 L772.5 1764.2 L774 1713.8 L774.7 1755.4 L776.3 1702.1 L777 1760.5 L778.7 1702.4 L779.3 1753.5 L781.2 1705 L782.1 1749.2 L783.6 1715.5 L784.3 1757.8 L786.6 1709.2 L787.2 1761.8 L789.2 1687.6 L790.2 1754.2 L792 1691.4 L792.7 1750.2 L794.1 1693.1 L795 1751.2 L796.9 1713.2 L797.9 1733.4 L798.2 1684.4 L798.2 1628.5 L798.8 1797 L799.7 1752.1 L801.8 1744.3 L802.8 1789.9 L806 1746.7 L807.3 1788.6 L810 1749.1 L810.7 1785.8 L813.1 1748.2 L814.1 1786.1 L816.6 1751.5 L817.9 1789.6 L820.5 1737.4 L821.8 1791.6 L825.1 1736.9 L826.1 1786.2 L828 1739.3 L829 1782.4 L830.7 1724.3 L832.2 1778.7 L834.7 1710 L835.9 1789.8 L839.1 1706.4 L840.1 1787.9 L844.3 1705.4 L845.6 1779.9 L849.7 1716.8 L851.1 1772.8 L855 1714 L856.4 1778.8 L859.2 1720.7 L860.1 1776.8 L862.9 1734.4 L863.9 1781 L866.8 1727.9 L867.9 1777.8 L870.5 1742.9 L871.8 1771.3 L873.7 1736.6 L874.5 1777.7 L876.4 1734.7 L877.2 1780.2 L880 1733.5 L881.4 1791.5 L883.5 1743.4 L884.6 1788.7 L887.7 1744.7 L889 1774 L891.3 1734.5 L892.6 1781.1 L895.9 1731.7 L896.9 1781.6 L899.2 1726.2 L900.2 1773.3 L903.7 1720.7 L905 1774 L907.3 1721.8 L908.3 1768.7 L912.4 1722.5 L914 1770.3 L917.2 1722.5 L918.4 1772.4 L922.3 1720.1 L923.3 1768.6 L925.9 1719.1 L927.7 1773.9 L930.5 1722 L931.6 1773.9 L934.2 1718.7 L935.9 1773.6 L939.4 1722.6 L940.4 1770.9 L942.8 1721 L943.9 1775 L946.5 1721.8 L947.9 1775.2 L952.1 1725.1 L953.1 1775.7 L955.4 1722.6 L956.8 1770.6 L960.5 1718.8 L962.1 1774 L966 1726.9 L967.2 1774.7 L970.8 1736.5 L972.1 1780.3 L975.9 1729 L977.4 1788.7 L980.7 1739.6 L982.4 1782.2 L984.8 1732.4 L986.6 1788.9 L990.2 1727.8 L991.3 1784.8 L995.2 1732.3 L996.8 1788.6 L1000.4 1729.1 L1001.7 1773 L1004 1702.8 L1005.6 1762.2 L1009.2 1708.2 L1010.5 1757.4 L1013.1 1709.1 L1014.4 1758.3 L1017.5 1708 L1019.2 1760.2 L1023 1710.9 L1024.3 1757.9 L1027.6 1707 L1028.8 1761.5 L1032 1710.6 L1033.7 1760.8 L1037.3 1704.6 L1038.8 1760.4 L1042.6 1705.3 L1043.9 1762 L1046.9 1710.6 L1048.4 1760.8 L1052.5 1736 L1053.6 1788.4 L1057.6 1743.9 L1059.2 1791.5 L1062.5 1742.6 L1063.9 1788.5 L1067.8 1743.7 L1069.5 1786 L1072.6 1749.4 L1073.7 1786.9 L1076.3 1748.9 L1077.8 1784.9 L1080 1748.3 L1081.8 1789.4 L1085.6 1735.5 L1086.7 1782.9 L1090.5 1713 L1091.8 1764.4 L1094.4 1705.8 L1095.6 1765.4 L1098.2 1705.9 L1099.9 1768.6 L1103.5 1712.1 L1104.9 1768.2 L1107.7 1707.8 L1109.1 1766.9 L1112.8 1712.8 L1113.8 1767.3 L1117.1 1710.9 L1118.5 1764.1 L1122.4 1706.9 L1123.8 1764.6 L1126.7 1711.9 L1128.5 1768.3 L1131.4 1702.4 L1132.5 1756.8 L1135.1 1702 L1135.9 1755.8 L1138 1699.3 L1139.3 1753.1 L1142.3 1698.6 L1143.5 1751.7 L1145.7 1701.8 L1146.7 1752.6 L1149.2 1699.6 L1150.4 1753.6 L1153.3 1698.5 L1154.4 1751.9 L1157.1 1696.1 L1158 1750.9 L1159.7 1700.9 L1160.9 1750 L1163.5 1695.7 L1164.4 1752 L1167.5 1698.2 L1168.6 1748.3 L1171.3 1696.2 L1172.3 1747.1 L1173.9 1698.4 L1175.1 1753.3 L1177.7 1697.1 L1178.5 1756 L1180.5 1693.9 L1181.4 1749 L1183.8 1698.2 L1184.9 1752.5 L1187.6 1697.1 L1188.4 1753.5 L1190.9 1692.1 L1190.9 1628.5 L1191.5 1797 L1192.4 1784.1 L1194.6 1731.4 L1195.9 1783.9 L1198.5 1730.2 L1199.5 1785.6 L1201.5 1727.1 L1202.9 1782.1 L1205.6 1730.2 L1206.5 1782.7 L1208.9 1730.2 L1210.2 1783.5 L1212.1 1731.8 L1212.9 1784.7 L1214.9 1733.8 L1216.1 1779.7 L1218.4 1728.4 L1219.7 1779 L1222.3 1733.6 L1223.4 1783.6 L1225.4 1728.3 L1226.6 1782.9 L1229.4 1731.6 L1230.6 1782 L1233.6 1730.5 L1234.4 1784.8 L1237.3 1735.7 L1238.2 1785.1 L1240.1 1732 L1241 1780.2 L1244 1726.4 L1244.8 1780.6 L1247.6 1726.3 L1248.6 1776.9 L1250.9 1719.8 L1252.1 1771.2 L1254.6 1709.1 L1256 1770.4 L1258.6 1698.2 L1259.5 1760.8 L1262.4 1703.9 L1262.6 1698.1 L1262.6 1628.5 L1263.2 1797 L1264.1 1783.1 L1266 1732.7 L1266.8 1783.8 L1269.5 1730.7 L1270.7 1785.4 L1273.8 1727.8 L1275 1779.3 L1277.5 1721.1 L1278.3 1771.7 L1281 1717 L1281.9 1772.7 L1283.9 1712.4 L1285.1 1773.9 L1287.1 1716 L1288.4 1771 L1290.8 1711 L1291.6 1768.8 L1293.7 1703.5 L1294.6 1762.8 L1296.5 1706.3 L1297.7 1762.8 L1300.3 1696.2 L1301.3 1760 L1304.5 1693.7 L1305.8 1757.9 L1307.7 1695.1 L1308.7 1685.4 L1308.7 1628.5 L1309.3 1797 L1310.2 1792.2 L1312.6 1737.5 L1313.6 1791.5 L1315.8 1736.7 L1316.8 1792.4 L1319 1734.3 L1320 1790.7 L1323.2 1737.5 L1324.5 1790.7 L1327 1738.8 L1328.3 1792.9 L1330.3 1736.9 L1331.2 1792.3 L1333.5 1736.2 L1334.2 1793.1 L1337 1737.4 L1338 1789.9 L1340.6 1735.6 L1341.5 1785.9 L1344 1726.2 L1345.4 1780.2 L1348.2 1725.7 L1349.5 1782.7 L1352.2 1730.7 L1353.3 1781.9 L1356.5 1727.6 L1357.2 1782.8 L1360.2 1731.4 L1361.3 1779 L1363.7 1726 L1364.6 1781.9 L1366.7 1728.6 L1368 1784.9 L1370.8 1724.9 L1372.1 1785.1 L1374.8 1731.9 L1376.1 1780.7 L1379.2 1717.3 L1380 1775.7 L1382.2 1711.8 L1383.2 1773.7 L1385.4 1716 L1386.4 1776.9 L1389.2 1718 L1390.6 1771.9 L1393.5 1714.4 L1394.8 1771.4 L1397.5 1711.7 L1398.4 1771.5 L1401 1707.9 L1401.8 1754.1 L1403.9 1696 L1405.1 1747.1 L1407.8 1700 L1408.8 1746 L1412 1693.3 L1413.3 1746 L1415.8 1697.5 L1416.8 1746.4 L1418.7 1691.7 L1419.7 1751.9 L1422.5 1693.2 L1423.5 1747.8 L1426.3 1696.5 L1427.4 1751.4 L1430.2 1691 L1431.3 1746.4 L1433.8 1694.1 L1434.8 1747.8 L1437.5 1697.8 L1438.7 1749.2 L1441.5 1695.4 L1442.5 1752 L1445.5 1695.2 L1446.2 1747.8 L1449.2 1697.5 L1450.2 1748.9 L1452.5 1692.6 L1453.3 1749.5 L1456.5 1694.7 L1457.6 1749 L1458.3 1691 L1458.3 1628.5 L1458.9 1797 L1459.8 1791.4 L1461.6 1734.9 L1462.7 1791 L1465.9 1724.6 L1466.9 1787.8 L1469.9 1719.8 L1471.2 1787.2 L1474.3 1717.1 L1475.2 1783.1 L1478.5 1717.7 L1479.3 1777.1 L1481.8 1703.5 L1482.9 1774.7 L1486.1 1703.2 L1487.5 1778.1 L1490.2 1699.1 L1491.3 1768.2 L1493.8 1694.1 L1494.9 1765.5 L1497.6 1704.5 L1497.7 1697.3 L1497.7 1628.5 L1498.3 1797 L1499.2 1778.1 L1502.2 1723.1 L1503.1 1771.5 L1506.3 1720.4 L1507.5 1768.6 L1509.3 1714.4 L1510.3 1768 L1513.6 1711.3 L1514.4 1767.6 L1516.8 1706.7 L1517.9 1759.3 L1520.8 1698.8 L1521.6 1760.2 L1524.6 1695.2 L1525.5 1758.3 L1528.6 1692.2 L1529.9 1753.2 L1531.7 1687.1 L1532.6 1685.3 L1532.6 1628.5 L1533.2 1797 L1534.1 1797.2 L1536.4 1737.5 L1537.5 1791 L1539.6 1735.9 L1541 1788.3 L1543.3 1729.7 L1544.4 1785.3 L1546.2 1726.9 L1547.1 1777.9 L1549.5 1725.8 L1550.7 1776.7 L1552.7 1718.4 L1553.9 1776.6 L1556.9 1712.8 L1558.1 1770.4 L1559.9 1708.9 L1561.2 1767.8 L1563.4 1708.2 L1564.4 1763.6 L1567.2 1699.2 L1568.4 1766.2 L1571 1697.2 L1571.9 1761.1 L1574.3 1693.8 L1575.3 1754 L1577.5 1685.5 L1578.3 1683.6 L1578.3 1628.5 L1578.9 1797 L1579.8 1788 L1582.4 1734 L1583.4 1793.7 L1586.5 1732.5 L1587.2 1792.5 L1590.4 1731.4 L1591.3 1791.7 L1594 1733.1 L1595.2 1788.4 L1598 1736 L1599 1793.2 L1601 1733.8 L1602 1791.2 L1604.5 1731.6 L1605.5 1794 L1608.6 1729.2 L1610 1795 L1611.8 1730.6 L1613 1788.8 L1615.4 1732.6 L1616.5 1792.5 L1619.4 1732.2 L1620.7 1779.9 L1623.5 1715 L1624.7 1769.5 L1627.7 1715.8 L1628.8 1766.1 L1631.4 1703.8 L1632.6 1761.9 L1635.7 1700.6 L1636.9 1755.4 L1639.7 1693 L1640.9 1752 L1643.3 1689.2 L1644.6 1749.6 L1647.2 1726.1 L1647.2 1725 L1647.2 1628.5 L1647.8 1797 L1648.7 1798.6 L1650.5 1755.8 L1651.6 1790.6 L1654 1757.2 L1655.1 1791 L1657.9 1756.8 L1659.1 1794.4 L1662 1754.8 L1663.1 1795.4 L1665 1741.4 L1666 1781.7 L1668.1 1722.8 L1668.9 1780.1 L1670.7 1725.9 L1671.8 1785.5 L1674.9 1722.6 L1676.1 1779.3 L1678.6 1725.1 L1679.9 1782.5 L1683.1 1730.3 L1683.8 1785.5 L1686.3 1724.9 L1687.4 1781.1 L1689.6 1724 L1690.7 1780.5 L1692.5 1728.2 L1693.8 1780.5 L1696.3 1727.4 L1697.2 1781 L1699.4 1725.1 L1700.4 1775.2 L1703 1714.2 L1704.2 1759 L1706.5 1704.6 L1707.3 1762.2 L1709.6 1706.5 L1710.9 1761.1 L1713.9 1706.8 L1715.3 1755.7 L1718.3 1706.2 L1719.1 1757.9 L1721.2 1706.9 L1722.6 1758.9 L1724.6 1704.6 L1725.5 1758.4 L1728.6 1705.5 L1729.8 1755.3 L1733 1702.3 L1734.2 1753.7 L1736.2 1700.2 L1737.1 1756.8 L1739.1 1694.6 L1740.2 1755.2 L1742.4 1699.3 L1743.7 1751 L1746.3 1697 L1747.2 1754.1 L1749.5 1696 L1750.7 1751.4 L1753.1 1692.1 L1754.2 1750.6 L1757.4 1690.7 L1758.5 1749.7 L1761.2 1694.1 L1762.1 1748.4 L1764.3 1686.7 L1765.4 1745.4 L1767.5 1692.2 L1768.9 1745.4 L1769.5 1685 L1769.5 1628.5 L1770.1 1797 L1771 1792.4 L1772.9 1728.1 L1774.2 1786.9 L1777.4 1724.1 L1778.6 1789.3 L1780.5 1720.8 L1781.7 1776.1 L1784.9 1713.6 L1785.7 1775.7 L1788 1707.9 L1789.4 1768.6 L1791.3 1704.7 L1792.1 1772.5 L1794.4 1705.3 L1795.2 1766.7 L1798.3 1703.1 L1799.6 1759.3 L1801.8 1697.5 L1802.8 1755.6 L1804.6 1696.4 L1805.7 1752.2 L1807.6 1689.2 L1807.6 1628.5 L1808.2 1797 L1809.1 1779.5 L1811.3 1713.3 L1812.3 1769.9 L1814.7 1715.1 L1815.6 1767.1 L1817.5 1711.8 L1818.9 1768.6 L1822.1 1705.2 L1823 1762.4 L1825 1697.6 L1826.2 1758 L1828.7 1699.1 L1829.7 1754.6 L1832 1692.7 L1832.8 1753.5 L1834.4 1686.4 L1834.4 1628.5 L1835 1797 L1835.9 1793.6 L1838.5 1727 L1839.3 1785.7 L1842.4 1728.9 L1843.3 1789.5 L1845.1 1722.3 L1846.1 1779.1 L1849.3 1721.3 L1850.3 1777.8 L1852.4 1721.3 L1853.5 1774.1 L1856.2 1715.6 L1857.1 1769.8 L1859.9 1717.1 L1860.7 1767.8 L1863.4 1716" fill="none" stroke="#14ab14" stroke-width="1.55" stroke-linejoin="bevel"/>
<path d="M162.5 1685.3 H1865" stroke="#000" stroke-width="3" stroke-dasharray="18.1 19.5"/>
<path d="M162.5 1742 H1865" stroke="#000" stroke-width="3" stroke-dasharray="18.1 19.5"/>
<path d="M162.5 1866.8 V2172" stroke="#000" stroke-width="1.8"/>
<path d="M145.3 1866.8 H162.5" stroke="#000" stroke-width="1.8"/>
<path d="M145.3 1943 H162.5" stroke="#000" stroke-width="1.8"/>
<path d="M145.3 2019.6 H162.5" stroke="#000" stroke-width="1.8"/>
<path d="M145.3 2095 H162.5" stroke="#000" stroke-width="1.8"/>
<path d="M145.3 2172 H162.5" stroke="#000" stroke-width="1.8"/>
<text x="137.2" y="2032" font-size="32.5" fill="#000" text-anchor="end">0</text>
<text transform="translate(97.3 2109) rotate(-90)" font-size="31.3">Current (a.u)</text>
<path d="M162.5 2019.6 H1864" stroke="#000" stroke-width="1.5"/>
<path d="M162.5 2024.1 L163.2 2024.1 L164 2024.2 L164.8 2024.1 L165.5 2024.1 L166.2 2024.1 L167 2024 L167.8 2023.8 L168.5 2023.7 L169.2 2023.8 L170 2024.2 L170.8 2024.5 L171.5 2024.5 L172.2 2024.8 L173 2024.8 L173.8 2024.5 L174.5 2024.4 L175.2 2024.3 L176 2023.9 L176.8 2024 L177.5 2024.2 L178.2 2024.3 L179 2024.5 L179.8 2024.7 L180.5 2024.9 L181.2 2024.9 L182 2024.9 L182.8 2025.1 L183.5 2025.4 L184.2 2024.8 L185 2024.7 L185.8 2024.8 L186.5 2024.7 L187.2 2024.6 L188 2025 L188.8 2024.9 L189.5 2024.7 L190.2 2024.8 L191 2024.7 L191.8 2024.6 L192.5 2024.9 L193.2 2025 L194 2024.9 L194.8 2024.6 L195.5 2024.6 L196.2 2024.3 L197 2024.4 L197.8 2024.5 L198.5 2024.8 L199.2 2024.8 L200 2024.7 L200.8 2024.7 L201.5 2024.5 L202.2 2024.2 L203 2024 L203.8 2024 L204.5 2023.6 L205.2 2023.7 L206 2023.8 L206.8 2024 L207.5 2023.8 L208.2 2024.1 L209 2024.1 L209.8 2024.1 L210.5 2024 L211.2 2024.2 L212 2024 L212.8 2023.9 L213.5 2023.8 L214.2 2024.1 L215 2024.1 L215.8 2024.2 L216.5 2024 L217.2 2024.1 L218 2023.9 L218.8 2023.9 L219.5 2023.8 L220.2 2023.8 L221 2023.7 L221.8 2023.6 L222.5 2023.5 L223.2 2023.7 L224 2027 L224.8 2026.8 L225.5 2026.7 L226.2 2026.8 L227 2026.5 L227.8 2026.3 L228.5 2026.5 L229.2 2026.5 L230 2026.6 L230.8 2027 L231.5 2026.6 L232.2 2026.5 L233 2026.2 L233.8 2025.8 L234.5 2025.8 L235.2 2025.8 L236 2025.5 L236.8 2025.8 L237.5 2026.2 L238.2 2025.7 L239 2025.7 L239.8 2025.7 L240.5 2025.2 L241.2 2024.8 L242 2024.7 L242.8 2024.5 L243.5 2024.6 L244.2 2025 L245 2024.9 L245.8 2025.2 L246.5 2025.2 L247.2 2025.1 L248 2025.1 L248.8 2025.5 L249.5 2025.5 L250.2 2025.7 L251 2025.7 L251.8 2025.3 L252.5 2025.1 L253.2 2024.7 L254 2024.9 L254.8 2024.8 L255.5 2024.6 L256.2 2024.5 L257 2024.5 L257.8 2023.9 L258.5 2023.9 L259.2 2024.2 L260 2024 L260.8 2023.6 L261.5 2023.6 L262.2 2023.6 L263 2023.3 L263.8 2023.4 L264.5 2023.6 L265.2 2023.2 L266 2023.3 L266.8 2023.4 L267.5 2023.1 L268.2 2023.1 L269 2023.7 L269.8 2023.3 L270.5 2023.2 L271.2 2023 L272 2023.1 L272.8 2022.8 L273.5 2022.6 L274.2 2022.8 L275 2022.8 L275.8 2022.6 L276.5 2022.6 L277.2 2022.7 L278 2022.5 L278.8 2022.6 L279.5 2022.4 L280.2 2022.3 L281 2022.2 L281.8 2021.9 L282.5 2021.6 L283.2 2021.7 L284 2021.6 L284.8 2021.5 L285.5 2021.7 L286.2 2021.9 L287 2021.7 L287.8 2021.8 L288.5 2022.5 L289.2 2022.5 L290 2021.8 L290.8 2023.2 L291.5 2024.3 L292.2 2024 L293 2024.4 L293.8 2026.1 L294.5 2026.3 L295.2 2026.5 L296 2027.1 L296.8 2028.2 L297.5 2028.6 L298.2 2029.1 L299 2030.1 L299.8 2032.3 L300.5 2033.6 L301.2 2034.9 L302 2036.8 L302.8 2037.9 L303.5 2039.8 L304.2 2041.3 L305 2044.1 L305.8 2047.8 L306.5 2052.3 L307.2 2054.8 L308 2057.4 L308.8 2059.7 L309.5 2063.9 L310.2 2066 L311 2068.8 L311.8 2071.1 L312.5 2072.9 L313.2 2076.1 L314 2078.5 L314.8 2080.6 L315.5 2082.7 L316.2 2084.2 L317 2086.1 L317.8 2087.2 L318.5 2088.3 L319.2 2089.2 L320 2090 L320.8 2089.7 L321.5 2090.2 L322.2 2091.5 L323 2092.1 L323.8 2092.8 L324.5 2093.6 L325.2 2094.3 L326 2093.8 L326.8 2093.6 L327.5 2093.7 L328.2 2093.4 L329 2093.3 L329.8 2094.2 L330.5 2094.8 L331.2 2095.2 L332 2095.9 L332.8 2095.9 L333.5 2095.6 L334.2 2095.3 L335 2095.3 L335.8 2095.4 L336.5 2095.8 L337.2 2096.5 L338 2096.1 L338.8 2096.3 L339.5 2096.2 L340.2 2096.2 L341 2096.1 L341.8 2096.5 L342.5 2095.9 L343.2 2095.4 L344 2094.5 L344.8 2093.8 L345.5 2093.6 L346.2 2094.5 L347 2095.1 L347.8 2095.8 L348.5 2095.8 L349.2 2095.9 L350 2096.3 L350.8 2096 L351.5 2096.1 L352.2 2095.9 L353 2096 L353.8 2094.7 L354.5 2094.3 L355.2 2094 L356 2093.5 L356.8 2093.6 L357.5 2093.5 L358.2 2094.4 L359 2094.3 L359.8 2094.5 L360.5 2095.3 L361.2 2095.4 L362 2094.6 L362.8 2095.1 L363.5 2094.5 L364.2 2093.3 L365 2093.9 L365.8 2094.4 L366.5 2094.3 L367.2 2095.5 L368 2095.8 L368.8 2095.2 L369.5 2095.3 L370.2 2095.6 L371 2095.2 L371.8 2095 L372.5 2095.4 L373.2 2095 L374 2094.6 L374.8 2094.3 L375.5 2094.7 L376.2 2094.7 L377 2094.9 L377.8 2095.8 L378.5 2096.2 L379.2 2096.7 L380 2097.4 L380.8 2098 L381.5 2097.8 L382.2 2098.7 L383 2097.6 L383.8 2096.9 L384.5 2096 L385.2 2095.7 L386 2094.7 L386.8 2094.2 L387.5 2093.6 L388.2 2092.6 L389 2092.2 L389.8 2092.7 L390.5 2093.2 L391.2 2094.3 L392 2095.5 L392.8 2095.5 L393.5 2093.9 L394.2 2093.3 L395 2092.4 L395.8 2092.1 L396.5 2092.9 L397.2 2093.6 L398 2094.2 L398.8 2094.8 L399.5 2094.9 L400.2 2094.3 L401 2095 L401.8 2095.1 L402.5 2094.8 L403.2 2094.3 L404 2094.6 L404.8 2093.6 L405.5 2093.9 L406.2 2093.5 L407 2094.3 L407.8 2093.7 L408.5 2094.9 L409.2 2095.9 L410 2097 L410.8 2098.3 L411.5 2098.1 L412.2 2096.4 L413 2097.8 L413.8 2097.5 L414.5 2096.5 L415.2 2096.9 L416 2097.7 L416.8 2098.5 L417.5 2098.5 L418.2 2098.4 L419 2097.8 L419.8 2097.4 L420.5 2096.3 L421.2 2095.7 L422 2095 L422.8 2096.2 L423.5 2096.1 L424.2 2096.7 L425 2096.7 L425.8 2097.3 L426.5 2095.9 L427.2 2095.9 L428 2095.9 L428.8 2096.4 L429.5 2095.9 L430.2 2096.9 L431 2096.5 L431.8 2096.7 L432.5 2096.4 L433.2 2096.5 L434 2097.1 L434.8 2097 L435.5 2096.7 L436.2 2097.1 L437 2097.6 L437.8 2097 L438.5 2096.6 L439.2 2096.8 L440 2097 L440.8 2097 L441.5 2096 L442.2 2096.7 L443 2096.9 L443.8 2097 L444.5 2096.3 L445.2 2097.3 L446 2096.9 L446.8 2096.2 L447.5 2095.7 L448.2 2095.8 L449 2095.4 L449.8 2095.6 L450.5 2096.2 L451.2 2098 L452 2099.7 L452.8 2100.3 L453.5 2098.9 L454.2 2097.5 L455 2096.4 L455.8 2096 L456.5 2095.1 L457.2 2094.4 L458 2095.2 L458.8 2095.5 L459.5 2095.9 L460.2 2096.7 L461 2098.3 L461.8 2098.2 L462.5 2097.5 L463.2 2097.8 L464 2097.6 L464.8 2096.9 L465.5 2096.8 L466.2 2097.2 L467 2096.9 L467.8 2096.8 L468.5 2096.8 L469.2 2096.3 L470 2095.9 L470.8 2095.8 L471.5 2096.2 L472.2 2095.9 L473 2096.5 L473.8 2096.7 L474.5 2096.7 L475.2 2097 L476 2097.4 L476.8 2096.8 L477.5 2096.1 L478.2 2096.6 L479 2096.7 L479.8 2096.1 L480.5 2096.1 L481.2 2097 L482 2096.9 L482.8 2095.3 L483.5 2095.9 L484.2 2095.7 L485 2095.7 L485.8 2095.4 L486.5 2096.3 L487.2 2095.6 L488 2095.1 L488.8 2095.1 L489.5 2094.2 L490.2 2094.1 L491 2094.5 L491.8 2095.7 L492.5 2095.7 L493.2 2096.8 L494 2096.4 L494.8 2096.9 L495.5 2096.2 L496.2 2096 L497 2096.1 L497.8 2096.6 L498.5 2095.9 L499.2 2095.4 L500 2094.9 L500.8 2094.6 L501.5 2094.6 L502.2 2093.8 L503 2093.8 L503.8 2094.8 L504.5 2094.9 L505.2 2093.9 L506 2095 L506.8 2095.3 L507.5 2095.2 L508.2 2094.5 L509 2095.3 L509.8 2095 L510.5 2095.4 L511.2 2095.6 L512 2096.4 L512.8 2096.1 L513.5 2097.2 L514.2 2097.5 L515 2097.2 L515.8 2097.9 L516.5 2099.4 L517.2 2100.3 L518 2100.6 L518.8 2102.3 L519.5 2102.9 L520.2 2103.6 L521 2104.6 L521.8 2106.6 L522.5 2107.3 L523.2 2108.6 L524 2110.4 L524.8 2112.2 L525.5 2113.5 L526.2 2116.4 L527 2119.3 L527.8 2120.8 L528.5 2122.7 L529.2 2125.2 L530 2126.8 L530.8 2128.1 L531.5 2130.8 L532.2 2133.2 L533 2135.3 L533.8 2137.7 L534.5 2140.9 L535.2 2143 L536 2145.3 L536.8 2147.4 L537.5 2148.6 L538.2 2149 L539 2150.4 L539.8 2151.2 L540.5 2152.6 L541.2 2154.5 L542 2156.3 L542.8 2156.5 L543.5 2157.6 L544.2 2157.7 L545 2157.7 L545.8 2157.3 L546.5 2158.9 L547.2 2160.1 L548 2161.8 L548.8 2162.1 L549.5 2162.7 L550.2 2162.2 L551 2161.4 L551.8 2162.2 L552.5 2162.4 L553.2 2161.8 L554 2161.5 L554.8 2162.2 L555.5 2162 L556.2 2161.8 L557 2161.7 L557.8 2162.8 L558.5 2163.3 L559.2 2162.7 L560 2163.6 L560.8 2164.9 L561.5 2165.2 L562.2 2164.9 L563 2164 L563.8 2163.2 L564.5 2162.3 L565.2 2162 L566 2162.3 L566.8 2163.7 L567.5 2163.5 L568.2 2163.3 L569 2163.6 L569.8 2164.2 L570.5 2163.4 L571.2 2163.6 L572 2164.2 L572.8 2164 L573.5 2163.6 L574.2 2164.2 L575 2164.2 L575.8 2163.5 L576.5 2164.5 L577.2 2164 L578 2163 L578.8 2162.5 L579.5 2163.5 L580.2 2162.1 L581 2162.6 L581.8 2162.7 L582.5 2163.3 L583.2 2162.2 L584 2162.8 L584.8 2162.3 L585.5 2162.8 L586.2 2162.9 L587 2163.5 L587.8 2162.5 L588.5 2162.9 L589.2 2162.6 L590 2163.1 L590.8 2162.1 L591.5 2162.4 L592.2 2162.3 L593 2162.5 L593.8 2161.8 L594.5 2163.1 L595.2 2162.6 L596 2162 L596.8 2162.6 L597.5 2162.2 L598.2 2162.6 L599 2163.1 L599.8 2164.3 L600.5 2164 L601.2 2164.8 L602 2163.6 L602.8 2164.3 L603.5 2163.8 L604.2 2163.3 L605 2162.3 L605.8 2163.2 L606.5 2163.1 L607.2 2163 L608 2163.5 L608.8 2164.9 L609.5 2164.9 L610.2 2164.9 L611 2164.9 L611.8 2164.7 L612.5 2164.5 L613.2 2164.4 L614 2164.4 L614.8 2164.7 L615.5 2164.5 L616.2 2163.4 L617 2162.8 L617.8 2162.3 L618.5 2162.3 L619.2 2162.1 L620 2162.6 L620.8 2163 L621.5 2162.4 L622.2 2160.9 L623 2160.9 L623.8 2161.6 L624.5 2162.6 L625.2 2164.5 L626 2166.1 L626.8 2166.5 L627.5 2165.4 L628.2 2164.8 L629 2163.4 L629.8 2163 L630.5 2162.8 L631.2 2163.3 L632 2162.4 L632.8 2163.5 L633.5 2163.5 L634.2 2163.5 L635 2163.7 L635.8 2164.5 L636.5 2164 L637.2 2164.6 L638 2164.5 L638.8 2165.1 L639.5 2164 L640.2 2163.5 L641 2162.8 L641.8 2162.9 L642.5 2162 L643.2 2162.4 L644 2163.1 L644.8 2163.2 L645.5 2164 L646.2 2165.4 L647 2165.1 L647.8 2164.4 L648.5 2163.9 L649.2 2162.7 L650 2161.7 L650.8 2162.3 L651.5 2162.2 L652.2 2163.1 L653 2163.1 L653.8 2163.8 L654.5 2163.7 L655.2 2164.6 L656 2163.7 L656.8 2164 L657.5 2163.9 L658.2 2163.3 L659 2163 L659.8 2163.5 L660.5 2163.4 L661.2 2162.7 L662 2163.5 L662.8 2162.6 L663.5 2162.2 L664.2 2162.5 L665 2162.3 L665.8 2162.4 L666.5 2162.4 L667.2 2163 L668 2163.3 L668.8 2163.6 L669.5 2163.2 L670.2 2164.5 L671 2163.5 L671.8 2163.3 L672.5 2162.9 L673.2 2163.2 L674 2162.6 L674.8 2163.5 L675.5 2163 L676.2 2163.2 L677 2162.6 L677.8 2162.9 L678.5 2162.5 L679.2 2162.8 L680 2162.7 L680.8 2162.9 L681.5 2162.4 L682.2 2162.3 L683 2162.6 L683.8 2161.9 L684.5 2161.9 L685.2 2162.1 L686 2162.4 L686.8 2162.3 L687.5 2163.3 L688.2 2163.6 L689 2163.7 L689.8 2163.3 L690.5 2163.2 L691.2 2162.5 L692 2162.3 L692.8 2162.2 L693.5 2163 L694.2 2162.9 L695 2163.8 L695.8 2164.1 L696.5 2164.4 L697.2 2163.7 L698 2163.7 L698.8 2163.1 L699.5 2163.1 L700.2 2163 L701 2163.9 L701.8 2164.1 L702.5 2164.7 L703.2 2164.6 L704 2164.1 L704.8 2163.4 L705.5 2163.8 L706.2 2163.3 L707 2163.3 L707.8 2162.8 L708.5 2162.6 L709.2 2161.9 L710 2161.4 L710.8 2161 L711.5 2161.6 L712.2 2162 L713 2162.4 L713.8 2162.8 L714.5 2164.5 L715.2 2163.9 L716 2164.6 L716.8 2164.6 L717.5 2164.3 L718.2 2163.6 L719 2164.3 L719.8 2163.1 L720.5 2162.9 L721.2 2163.2 L722 2163 L722.8 2162.6 L723.5 2163.3 L724.2 2163.2 L725 2163.3 L725.8 2162.5 L726.5 2162.8 L727.2 2162.5 L728 2162.4 L728.8 2161.4 L729.5 2161.6 L730.2 2161.7 L731 2161.8 L731.8 2162.1 L732.5 2163.1 L733.2 2162.9 L734 2162 L734.8 2162 L735.5 2161.8 L736.2 2161.7 L737 2162.6 L737.8 2163.1 L738.5 2163 L739.2 2163.1 L740 2163.5 L740.8 2162.7 L741.5 2162.6 L742.2 2162.5 L743 2162.4 L743.8 2161.7 L744.5 2161.5 L745.2 2161 L746 2161.4 L746.8 2161.6 L747.5 2162 L748.2 2161.6 L749 2162.6 L749.8 2162 L750.5 2161.5 L751.2 2161.1 L752 2162 L752.8 2161.6 L753.5 2162.1 L754.2 2162.5 L755 2162.7 L755.8 2163.1 L756.5 2163 L757.2 2162.6 L758 2162.9 L758.8 2163.2 L759.5 2162.8 L760.2 2163 L761 2163.6 L761.8 2163 L762.5 2162.6 L763.2 2162.1 L764 2162.8 L764.8 2162.3 L765.5 2162.2 L766.2 2162.1 L767 2162.1 L767.8 2161.3 L768.5 2160.9 L769.2 2160.5 L770 2161.3 L770.8 2161.8 L771.5 2161.4 L772.2 2162 L773 2163.2 L773.8 2162.7 L774.5 2162.4 L775.2 2162.9 L776 2162.6 L776.8 2162.9 L777.5 2162.4 L778.2 2162.1 L779 2162.8 L779.8 2162.7 L780.5 2162.7 L781.2 2162.5 L782 2163.5 L782.8 2162.4 L783.5 2162.7 L784.2 2161.9 L785 2163 L785.8 2162.3 L786.5 2162.4 L787.2 2162.9 L788 2162.9 L788.8 2161.8 L789.5 2161.9 L790.2 2162.3 L791 2161.7 L791.8 2161.8 L792.5 2161.9 L793.2 2161.5 L794 2161 L794.8 2161.3 L795.5 2161.4 L796.2 2162 L797 2162.7 L797.8 2163.3 L798.5 2163 L799.2 2165.9 L800 2166.2 L800.8 2166.2 L801.5 2166.5 L802.2 2165.9 L803 2166.2 L803.8 2166.6 L804.5 2166.5 L805.2 2165 L806 2165.8 L806.8 2165.8 L807.5 2165.6 L808.2 2165.6 L809 2166.6 L809.8 2167.4 L810.5 2167.3 L811.2 2167.3 L812 2167.6 L812.8 2167.9 L813.5 2167.1 L814.2 2167.4 L815 2166.8 L815.8 2166.5 L816.5 2166.5 L817.2 2166.7 L818 2166.7 L818.8 2167 L819.5 2167.2 L820.2 2166.6 L821 2165.3 L821.8 2165 L822.5 2165.8 L823.2 2165.4 L824 2165.6 L824.8 2166.7 L825.5 2167.4 L826.2 2166 L827 2166 L827.8 2165.6 L828.5 2165.6 L829.2 2165.1 L830 2165.2 L830.8 2165.5 L831.5 2166.1 L832.2 2166 L833 2166 L833.8 2166.3 L834.5 2165.5 L835.2 2164.9 L836 2164.6 L836.8 2163.6 L837.5 2163.2 L838.2 2163.2 L839 2162.9 L839.8 2163.2 L840.5 2164.8 L841.2 2163.5 L842 2164 L842.8 2165.2 L843.5 2164.9 L844.2 2163.4 L845 2164.3 L845.8 2164.4 L846.5 2164.1 L847.2 2164 L848 2165 L848.8 2165.7 L849.5 2165.6 L850.2 2165.2 L851 2165 L851.8 2164.3 L852.5 2164.3 L853.2 2163.8 L854 2163.7 L854.8 2163.8 L855.5 2164.6 L856.2 2164.3 L857 2165 L857.8 2165 L858.5 2165.7 L859.2 2164.8 L860 2165.6 L860.8 2165.6 L861.5 2165.1 L862.2 2164.6 L863 2164.9 L863.8 2164.1 L864.5 2163.5 L865.2 2163.6 L866 2164 L866.8 2163.2 L867.5 2163.6 L868.2 2163.7 L869 2164.4 L869.8 2164 L870.5 2164.9 L871.2 2164.8 L872 2164.2 L872.8 2163.7 L873.5 2162.1 L874.2 2161.2 L875 2160.9 L875.8 2160.5 L876.5 2160.4 L877.2 2161.4 L878 2162.6 L878.8 2162.4 L879.5 2163.3 L880.2 2163.3 L881 2163.6 L881.8 2163 L882.5 2163.3 L883.2 2163.6 L884 2163.2 L884.8 2163.6 L885.5 2163.1 L886.2 2163 L887 2162.1 L887.8 2162.6 L888.5 2162.6 L889.2 2161.7 L890 2161.3 L890.8 2161.9 L891.5 2160.9 L892.2 2160.1 L893 2160.5 L893.8 2160.3 L894.5 2159.7 L895.2 2159.4 L896 2158.5 L896.8 2157.5 L897.5 2156.8 L898.2 2155.8 L899 2154.5 L899.8 2153.5 L900.5 2153.3 L901.2 2151.9 L902 2151.5 L902.8 2151.3 L903.5 2150.4 L904.2 2148.9 L905 2147.5 L905.8 2145.8 L906.5 2144.2 L907.2 2143.3 L908 2141.9 L908.8 2141.2 L909.5 2140 L910.2 2139.5 L911 2137.8 L911.8 2137.1 L912.5 2135.9 L913.2 2135.1 L914 2133.4 L914.8 2133.3 L915.5 2133 L916.2 2133 L917 2132.3 L917.8 2132.8 L918.5 2132.4 L919.2 2132.3 L920 2132.4 L920.8 2132.2 L921.5 2131.4 L922.2 2131.4 L923 2130.4 L923.8 2129.9 L924.5 2129.8 L925.2 2129.9 L926 2129 L926.8 2130.6 L927.5 2130.4 L928.2 2130.1 L929 2130.1 L929.8 2130.4 L930.5 2129.4 L931.2 2130 L932 2130.2 L932.8 2130.8 L933.5 2131.5 L934.2 2130.7 L935 2129.6 L935.8 2129.7 L936.5 2129.1 L937.2 2129.4 L938 2129.6 L938.8 2130.7 L939.5 2130.8 L940.2 2130.4 L941 2129.6 L941.8 2129.6 L942.5 2129.4 L943.2 2129.1 L944 2130.1 L944.8 2130.1 L945.5 2130.5 L946.2 2129.7 L947 2129.6 L947.8 2129.4 L948.5 2129.7 L949.2 2128.9 L950 2129.2 L950.8 2129.6 L951.5 2129.4 L952.2 2129.3 L953 2129.8 L953.8 2130.4 L954.5 2131 L955.2 2131.7 L956 2132.8 L956.8 2132.7 L957.5 2131.6 L958.2 2130.8 L959 2129.6 L959.8 2128.5 L960.5 2128.6 L961.2 2129 L962 2129.4 L962.8 2130.2 L963.5 2130.8 L964.2 2131.3 L965 2130.8 L965.8 2129.7 L966.5 2129.1 L967.2 2128.8 L968 2128.2 L968.8 2129.1 L969.5 2129.3 L970.2 2129 L971 2128.9 L971.8 2129.9 L972.5 2129.8 L973.2 2129.9 L974 2129.7 L974.8 2129.4 L975.5 2128.4 L976.2 2127.9 L977 2128.5 L977.8 2129.1 L978.5 2129.5 L979.2 2130.3 L980 2129.9 L980.8 2130.4 L981.5 2130.5 L982.2 2130.4 L983 2130 L983.8 2131.2 L984.5 2130.5 L985.2 2131 L986 2130.3 L986.8 2130.5 L987.5 2131.1 L988.2 2131 L989 2130.9 L989.8 2130.6 L990.5 2129.7 L991.2 2128.4 L992 2128 L992.8 2128.8 L993.5 2129.6 L994.2 2130 L995 2130.6 L995.8 2131.8 L996.5 2132.4 L997.2 2131.2 L998 2131.2 L998.8 2131.1 L999.5 2130.5 L1000.2 2128.7 L1001 2129.6 L1001.8 2129.6 L1002.5 2129.4 L1003.2 2129.6 L1004 2129.9 L1004.8 2130 L1005.5 2129.9 L1006.2 2129.7 L1007 2129.3 L1007.8 2130.1 L1008.5 2130.4 L1009.2 2130.6 L1010 2130.6 L1010.8 2130.9 L1011.5 2130 L1012.2 2130.2 L1013 2130.6 L1013.8 2130.9 L1014.5 2130.1 L1015.2 2130.5 L1016 2130.8 L1016.8 2129.4 L1017.5 2129.3 L1018.2 2129.7 L1019 2129.4 L1019.8 2128.7 L1020.5 2129 L1021.2 2128.5 L1022 2128.1 L1022.8 2128.4 L1023.5 2127.8 L1024.2 2127.8 L1025 2128.1 L1025.8 2129.1 L1026.5 2128.3 L1027.2 2129 L1028 2129.3 L1028.8 2128.5 L1029.5 2127.9 L1030.2 2127.8 L1031 2127.5 L1031.8 2128 L1032.5 2129.7 L1033.2 2129.7 L1034 2130.1 L1034.8 2130.5 L1035.5 2129.5 L1036.2 2129.1 L1037 2129.3 L1037.8 2129.9 L1038.5 2130.1 L1039.2 2130.6 L1040 2129.8 L1040.8 2129.2 L1041.5 2129.1 L1042.2 2129.2 L1043 2129.5 L1043.8 2129.9 L1044.5 2130.4 L1045.2 2130.9 L1046 2130.7 L1046.8 2130.9 L1047.5 2130.6 L1048.2 2130.4 L1049 2129 L1049.8 2128.2 L1050.5 2127.5 L1051.2 2127.7 L1052 2127.7 L1052.8 2127.5 L1053.5 2128.3 L1054.2 2128.9 L1055 2129.2 L1055.8 2129.5 L1056.5 2130.5 L1057.2 2130.1 L1058 2129.6 L1058.8 2129.3 L1059.5 2129.2 L1060.2 2128.7 L1061 2128.7 L1061.8 2129.2 L1062.5 2129.1 L1063.2 2129.1 L1064 2129.5 L1064.8 2130 L1065.5 2129.7 L1066.2 2129.9 L1067 2130 L1067.8 2129.3 L1068.5 2129.1 L1069.2 2129.6 L1070 2129.3 L1070.8 2129.5 L1071.5 2130 L1072.2 2129.6 L1073 2129.4 L1073.8 2129 L1074.5 2128.5 L1075.2 2128 L1076 2128.6 L1076.8 2129.4 L1077.5 2129.4 L1078.2 2129.9 L1079 2130.8 L1079.8 2131.1 L1080.5 2130.5 L1081.2 2131.3 L1082 2130.2 L1082.8 2129.2 L1083.5 2128.8 L1084.2 2128.4 L1085 2128.6 L1085.8 2129.4 L1086.5 2129.1 L1087.2 2128.8 L1088 2129.3 L1088.8 2128.4 L1089.5 2127.9 L1090.2 2127.5 L1091 2127.7 L1091.8 2127.1 L1092.5 2127.6 L1093.2 2128 L1094 2129 L1094.8 2129.4 L1095.5 2128.7 L1096.2 2128.8 L1097 2129.1 L1097.8 2128.7 L1098.5 2128 L1099.2 2128.7 L1100 2128.8 L1100.8 2129.3 L1101.5 2130.4 L1102.2 2130.3 L1103 2130.5 L1103.8 2129.7 L1104.5 2129.1 L1105.2 2128.7 L1106 2129.7 L1106.8 2129.5 L1107.5 2130.3 L1108.2 2129.3 L1109 2128.7 L1109.8 2127.7 L1110.5 2127.7 L1111.2 2127.5 L1112 2128.1 L1112.8 2129 L1113.5 2129 L1114.2 2129.1 L1115 2129.3 L1115.8 2129 L1116.5 2128.1 L1117.2 2128.4 L1118 2127.3 L1118.8 2127.6 L1119.5 2127.8 L1120.2 2128.1 L1121 2128.6 L1121.8 2129.2 L1122.5 2128.7 L1123.2 2128.9 L1124 2128.6 L1124.8 2128.4 L1125.5 2128.8 L1126.2 2128.6 L1127 2128.5 L1127.8 2128.3 L1128.5 2127.9 L1129.2 2128.1 L1130 2128 L1130.8 2128.4 L1131.5 2131.1 L1132.2 2132.7 L1133 2133.6 L1133.8 2133.4 L1134.5 2133 L1135.2 2130.9 L1136 2130.4 L1136.8 2130.2 L1137.5 2130.1 L1138.2 2129.3 L1139 2129.5 L1139.8 2129.4 L1140.5 2129.6 L1141.2 2129.3 L1142 2129.1 L1142.8 2128.4 L1143.5 2127.9 L1144.2 2127.7 L1145 2128.7 L1145.8 2128.2 L1146.5 2128.1 L1147.2 2127.7 L1148 2128.2 L1148.8 2126.6 L1149.5 2127.9 L1150.2 2128.1 L1151 2128.5 L1151.8 2128.3 L1152.5 2129.8 L1153.2 2129.6 L1154 2129.2 L1154.8 2128.5 L1155.5 2127.6 L1156.2 2127.4 L1157 2127.7 L1157.8 2128.6 L1158.5 2128.9 L1159.2 2128.9 L1160 2128.2 L1160.8 2126.6 L1161.5 2126.1 L1162.2 2126.6 L1163 2127 L1163.8 2127.8 L1164.5 2128.9 L1165.2 2128.4 L1166 2128.2 L1166.8 2128.5 L1167.5 2127.3 L1168.2 2127.3 L1169 2128.3 L1169.8 2127.8 L1170.5 2127.8 L1171.2 2129.4 L1172 2129.4 L1172.8 2128.5 L1173.5 2129 L1174.2 2128.9 L1175 2127.8 L1175.8 2126.9 L1176.5 2127.8 L1177.2 2128 L1178 2127.8 L1178.8 2128.5 L1179.5 2129.3 L1180.2 2129.7 L1181 2129 L1181.8 2128.8 L1182.5 2128.5 L1183.2 2128.3 L1184 2127.6 L1184.8 2128.4 L1185.5 2128.9 L1186.2 2129.3 L1187 2129.4 L1187.8 2128.5 L1188.5 2127.7 L1189.2 2127 L1190 2126.6 L1190.8 2125.8 L1191.5 2129.2 L1192.2 2129.4 L1193 2129.4 L1193.8 2129.5 L1194.5 2129.5 L1195.2 2130.7 L1196 2130.1 L1196.8 2129.9 L1197.5 2130.3 L1198.2 2131.4 L1199 2130.2 L1199.8 2130.5 L1200.5 2130.8 L1201.2 2130.1 L1202 2129.2 L1202.8 2129.7 L1203.5 2130 L1204.2 2129 L1205 2128 L1205.8 2128 L1206.5 2128.5 L1207.2 2128.7 L1208 2128.5 L1208.8 2129.2 L1209.5 2129.9 L1210.2 2128.7 L1211 2128.2 L1211.8 2129 L1212.5 2129.2 L1213.2 2129.6 L1214 2129.5 L1214.8 2129.5 L1215.5 2130 L1216.2 2129.6 L1217 2129.3 L1217.8 2129.8 L1218.5 2129 L1219.2 2129 L1220 2128.8 L1220.8 2128.2 L1221.5 2128 L1222.2 2128.3 L1223 2128.3 L1223.8 2128.4 L1224.5 2128.7 L1225.2 2128.9 L1226 2129.6 L1226.8 2129.7 L1227.5 2129.4 L1228.2 2129.4 L1229 2128.5 L1229.8 2128.4 L1230.5 2127.8 L1231.2 2128.2 L1232 2128.1 L1232.8 2128.9 L1233.5 2128.1 L1234.2 2128.9 L1235 2128.4 L1235.8 2128.2 L1236.5 2128.1 L1237.2 2128.7 L1238 2128.3 L1238.8 2128.8 L1239.5 2128.4 L1240.2 2128.9 L1241 2129 L1241.8 2128.4 L1242.5 2128.6 L1243.2 2128.8 L1244 2128.8 L1244.8 2128.9 L1245.5 2130.2 L1246.2 2131.3 L1247 2132 L1247.8 2131.5 L1248.5 2131.1 L1249.2 2129.5 L1250 2128 L1250.8 2127.5 L1251.5 2127.7 L1252.2 2127.9 L1253 2128 L1253.8 2128 L1254.5 2127.8 L1255.2 2127.3 L1256 2126.7 L1256.8 2126.7 L1257.5 2126.4 L1258.2 2125.9 L1259 2126.3 L1259.8 2126.7 L1260.5 2127.3 L1261.2 2126.7 L1262 2126.7 L1262.8 2127.3 L1263.5 2130.9 L1264.2 2131.1 L1265 2132.1 L1265.8 2132.6 L1266.5 2131.4 L1267.2 2130.7 L1268 2129.8 L1268.8 2129.2 L1269.5 2128.4 L1270.2 2129.2 L1271 2129.4 L1271.8 2129.5 L1272.5 2129.8 L1273.2 2130.6 L1274 2130.4 L1274.8 2131.4 L1275.5 2130.9 L1276.2 2131.5 L1277 2130.5 L1277.8 2130.1 L1278.5 2129.4 L1279.2 2131 L1280 2130.6 L1280.8 2131.5 L1281.5 2130.5 L1282.2 2129.9 L1283 2128.5 L1283.8 2128.4 L1284.5 2127.4 L1285.2 2128.5 L1286 2128.8 L1286.8 2129.5 L1287.5 2129.4 L1288.2 2129.8 L1289 2128.8 L1289.8 2128.9 L1290.5 2128.7 L1291.2 2128.4 L1292 2128.2 L1292.8 2128.6 L1293.5 2129 L1294.2 2129.1 L1295 2128.4 L1295.8 2128.8 L1296.5 2128.6 L1297.2 2128.2 L1298 2127.5 L1298.8 2128.1 L1299.5 2126.8 L1300.2 2126.9 L1301 2126.6 L1301.8 2126.9 L1302.5 2126.6 L1303.2 2127.3 L1304 2126.7 L1304.8 2126.1 L1305.5 2125.6 L1306.2 2125.6 L1307 2126 L1307.8 2126.9 L1308.5 2127.7 L1309.2 2131.2 L1310 2132 L1310.8 2132.3 L1311.5 2132.1 L1312.2 2132.1 L1313 2132.3 L1313.8 2131.6 L1314.5 2130.7 L1315.2 2129.6 L1316 2129.5 L1316.8 2129.6 L1317.5 2129.1 L1318.2 2129 L1319 2129.6 L1319.8 2129.3 L1320.5 2129.5 L1321.2 2130.3 L1322 2130.1 L1322.8 2130.2 L1323.5 2130 L1324.2 2129.4 L1325 2129 L1325.8 2130.2 L1326.5 2130.2 L1327.2 2130.5 L1328 2130.7 L1328.8 2130.9 L1329.5 2130.6 L1330.2 2130.7 L1331 2130.7 L1331.8 2131.2 L1332.5 2131.8 L1333.2 2131.8 L1334 2132.2 L1334.8 2132.3 L1335.5 2131.2 L1336.2 2131.3 L1337 2130.7 L1337.8 2130.3 L1338.5 2130.8 L1339.2 2131.2 L1340 2131.3 L1340.8 2131.5 L1341.5 2131.3 L1342.2 2130.9 L1343 2131.1 L1343.8 2129.4 L1344.5 2129.2 L1345.2 2129.2 L1346 2128.6 L1346.8 2128.8 L1347.5 2128.8 L1348.2 2128.7 L1349 2129.3 L1349.8 2130 L1350.5 2129.6 L1351.2 2130.1 L1352 2130.1 L1352.8 2130 L1353.5 2129 L1354.2 2129 L1355 2129.2 L1355.8 2129.3 L1356.5 2128.8 L1357.2 2129.5 L1358 2129.7 L1358.8 2129.5 L1359.5 2130.2 L1360.2 2130.5 L1361 2130.5 L1361.8 2129.8 L1362.5 2129.8 L1363.2 2128.9 L1364 2128.8 L1364.8 2129.5 L1365.5 2130.1 L1366.2 2130 L1367 2130.4 L1367.8 2129.8 L1368.5 2128.4 L1369.2 2128.2 L1370 2128.6 L1370.8 2128.2 L1371.5 2128.4 L1372.2 2128.9 L1373 2128.7 L1373.8 2128.2 L1374.5 2127.4 L1375.2 2127.2 L1376 2127.2 L1376.8 2126.5 L1377.5 2127 L1378.2 2127.4 L1379 2127 L1379.8 2127.6 L1380.5 2128.5 L1381.2 2128.2 L1382 2127.5 L1382.8 2128 L1383.5 2127 L1384.2 2127.2 L1385 2127.3 L1385.8 2129 L1386.5 2128.8 L1387.2 2129.3 L1388 2129.1 L1388.8 2128.2 L1389.5 2127.1 L1390.2 2127.2 L1391 2127.1 L1391.8 2127 L1392.5 2127.9 L1393.2 2127.8 L1394 2127.9 L1394.8 2127.6 L1395.5 2127.3 L1396.2 2126.8 L1397 2127 L1397.8 2127.1 L1398.5 2127.2 L1399.2 2127.7 L1400 2128.3 L1400.8 2127.4 L1401.5 2127.5 L1402.2 2126.5 L1403 2125.8 L1403.8 2125.3 L1404.5 2126.2 L1405.2 2126.3 L1406 2126.5 L1406.8 2126.8 L1407.5 2126.5 L1408.2 2126.6 L1409 2125.8 L1409.8 2126.4 L1410.5 2125.8 L1411.2 2125.6 L1412 2124.8 L1412.8 2125.8 L1413.5 2126.5 L1414.2 2127.5 L1415 2128.6 L1415.8 2129.9 L1416.5 2129.5 L1417.2 2128.8 L1418 2128.3 L1418.8 2127.2 L1419.5 2126.4 L1420.2 2126.8 L1421 2126.1 L1421.8 2126.4 L1422.5 2126.9 L1423.2 2126.4 L1424 2125.8 L1424.8 2126.8 L1425.5 2125.9 L1426.2 2125.1 L1427 2125.2 L1427.8 2125.7 L1428.5 2124.2 L1429.2 2125.6 L1430 2126.4 L1430.8 2127 L1431.5 2126 L1432.2 2126.8 L1433 2126.5 L1433.8 2125.8 L1434.5 2125.8 L1435.2 2125.9 L1436 2126.1 L1436.8 2125.4 L1437.5 2126.2 L1438.2 2126.6 L1439 2128.2 L1439.8 2127.3 L1440.5 2127 L1441.2 2127 L1442 2126.2 L1442.8 2124.5 L1443.5 2125.4 L1444.2 2125.9 L1445 2125.2 L1445.8 2125.7 L1446.5 2126 L1447.2 2126 L1448 2125.6 L1448.8 2126 L1449.5 2125.8 L1450.2 2125.6 L1451 2125 L1451.8 2125.5 L1452.5 2125.8 L1453.2 2125.4 L1454 2125.7 L1454.8 2125.6 L1455.5 2125.4 L1456.2 2125.8 L1457 2126.9 L1457.8 2127 L1458.5 2128.1 L1459.2 2130.9 L1460 2129.4 L1460.8 2128.3 L1461.5 2127.8 L1462.2 2127.2 L1463 2127.7 L1463.8 2128.4 L1464.5 2128.4 L1465.2 2128.6 L1466 2128.1 L1466.8 2128 L1467.5 2127.6 L1468.2 2127.6 L1469 2126.6 L1469.8 2126.6 L1470.5 2126.8 L1471.2 2127.3 L1472 2127.1 L1472.8 2126.8 L1473.5 2126.3 L1474.2 2125.7 L1475 2125.1 L1475.8 2126.2 L1476.5 2128.9 L1477.2 2130.7 L1478 2130.8 L1478.8 2130.4 L1479.5 2129.1 L1480.2 2127.5 L1481 2127.7 L1481.8 2128.9 L1482.5 2129.3 L1483.2 2127.9 L1484 2127.6 L1484.8 2127.3 L1485.5 2127.7 L1486.2 2126.9 L1487 2126.7 L1487.8 2125.9 L1488.5 2125.1 L1489.2 2124.9 L1490 2125.4 L1490.8 2125.8 L1491.5 2126.2 L1492.2 2126.5 L1493 2126.7 L1493.8 2126.6 L1494.5 2127 L1495.2 2126.5 L1496 2126.5 L1496.8 2125.5 L1497.5 2126.1 L1498.2 2128.9 L1499 2129.1 L1499.8 2128.7 L1500.5 2128.8 L1501.2 2128.5 L1502 2128.9 L1502.8 2129.6 L1503.5 2129.5 L1504.2 2128.6 L1505 2128.5 L1505.8 2128.6 L1506.5 2127.5 L1507.2 2128.4 L1508 2130.2 L1508.8 2130.5 L1509.5 2130.5 L1510.2 2130.5 L1511 2129.5 L1511.8 2129 L1512.5 2129.2 L1513.2 2129.6 L1514 2129.3 L1514.8 2128.8 L1515.5 2128.7 L1516.2 2127.9 L1517 2128.1 L1517.8 2128.3 L1518.5 2129.4 L1519.2 2128.9 L1520 2129.3 L1520.8 2127.8 L1521.5 2127.2 L1522.2 2126.1 L1523 2126.5 L1523.8 2126.5 L1524.5 2127.5 L1525.2 2127.6 L1526 2127.9 L1526.8 2127.8 L1527.5 2127.9 L1528.2 2128.7 L1529 2129 L1529.8 2129.5 L1530.5 2129.7 L1531.2 2130.1 L1532 2129.7 L1532.8 2130.2 L1533.5 2134.1 L1534.2 2133.9 L1535 2133 L1535.8 2132.1 L1536.5 2130.9 L1537.2 2129.6 L1538 2128.9 L1538.8 2129.7 L1539.5 2129.8 L1540.2 2130.2 L1541 2130.1 L1541.8 2130.5 L1542.5 2130.5 L1543.2 2130.9 L1544 2131.7 L1544.8 2133 L1545.5 2132.9 L1546.2 2132.4 L1547 2131.9 L1547.8 2131.1 L1548.5 2130.3 L1549.2 2130.1 L1550 2130.2 L1550.8 2129.9 L1551.5 2130.4 L1552.2 2130.3 L1553 2130.3 L1553.8 2130.4 L1554.5 2129.7 L1555.2 2128.6 L1556 2128.7 L1556.8 2129.2 L1557.5 2128.4 L1558.2 2128.8 L1559 2129 L1559.8 2128.9 L1560.5 2128.1 L1561.2 2129.1 L1562 2129.1 L1562.8 2128.8 L1563.5 2128.2 L1564.2 2128.2 L1565 2126.9 L1565.8 2127.3 L1566.5 2126.7 L1567.2 2127.3 L1568 2127.1 L1568.8 2128.2 L1569.5 2128.2 L1570.2 2128.8 L1571 2128.3 L1571.8 2128.4 L1572.5 2127.3 L1573.2 2126.9 L1574 2126.1 L1574.8 2126.2 L1575.5 2124.9 L1576.2 2124.7 L1577 2125.3 L1577.8 2126 L1578.5 2125.8 L1579.2 2130.9 L1580 2131.3 L1580.8 2130.4 L1581.5 2130 L1582.2 2129.8 L1583 2129.2 L1583.8 2128.8 L1584.5 2129.1 L1585.2 2129.1 L1586 2129.4 L1586.8 2128.7 L1587.5 2129.9 L1588.2 2129.5 L1589 2129.6 L1589.8 2130.1 L1590.5 2131 L1591.2 2129.6 L1592 2130 L1592.8 2130.3 L1593.5 2129.6 L1594.2 2129 L1595 2129.1 L1595.8 2128.1 L1596.5 2127.6 L1597.2 2127 L1598 2126.8 L1598.8 2125.9 L1599.5 2126.4 L1600.2 2126.5 L1601 2127 L1601.8 2127.6 L1602.5 2128.2 L1603.2 2128.8 L1604 2128.2 L1604.8 2128.5 L1605.5 2127.6 L1606.2 2127.5 L1607 2126.6 L1607.8 2128.2 L1608.5 2128.2 L1609.2 2127.8 L1610 2128.6 L1610.8 2129 L1611.5 2127.4 L1612.2 2127.1 L1613 2127.9 L1613.8 2127.1 L1614.5 2126.9 L1615.2 2127.2 L1616 2127.3 L1616.8 2127.2 L1617.5 2126.2 L1618.2 2126.1 L1619 2125.5 L1619.8 2125.3 L1620.5 2125.6 L1621.2 2127.8 L1622 2127.7 L1622.8 2127.1 L1623.5 2126.9 L1624.2 2127 L1625 2125.8 L1625.8 2125.7 L1626.5 2126.5 L1627.2 2125.9 L1628 2125.4 L1628.8 2124.7 L1629.5 2124.8 L1630.2 2125.3 L1631 2126.3 L1631.8 2127.3 L1632.5 2127.8 L1633.2 2127.9 L1634 2127.3 L1634.8 2126.5 L1635.5 2126.3 L1636.2 2126.2 L1637 2126 L1637.8 2126 L1638.5 2126.4 L1639.2 2126 L1640 2126.1 L1640.8 2126.5 L1641.5 2126.6 L1642.2 2126.9 L1643 2126.8 L1643.8 2126.3 L1644.5 2126.1 L1645.2 2126 L1646 2125.6 L1646.8 2125.8 L1647.5 2126.2 L1648.2 2130 L1649 2130.2 L1649.8 2130 L1650.5 2129.8 L1651.2 2129.6 L1652 2129.5 L1652.8 2129.8 L1653.5 2129.5 L1654.2 2128.8 L1655 2128.8 L1655.8 2128.1 L1656.5 2127.3 L1657.2 2127.7 L1658 2128.5 L1658.8 2128.6 L1659.5 2128.8 L1660.2 2129.3 L1661 2129.3 L1661.8 2129.4 L1662.5 2129.3 L1663.2 2129.6 L1664 2129.2 L1664.8 2129 L1665.5 2128.2 L1666.2 2128.5 L1667 2128.4 L1667.8 2128.4 L1668.5 2128.4 L1669.2 2128.8 L1670 2128.4 L1670.8 2128.5 L1671.5 2128.9 L1672.2 2128.4 L1673 2128.3 L1673.8 2128 L1674.5 2128.3 L1675.2 2127.4 L1676 2127.7 L1676.8 2127.2 L1677.5 2127.2 L1678.2 2127.3 L1679 2127.9 L1679.8 2127.3 L1680.5 2127.5 L1681.2 2128 L1682 2128.3 L1682.8 2129.3 L1683.5 2129.6 L1684.2 2129.4 L1685 2128.8 L1685.8 2127.9 L1686.5 2126.3 L1687.2 2126.7 L1688 2127.1 L1688.8 2128 L1689.5 2128.3 L1690.2 2128.5 L1691 2127.9 L1691.8 2127.3 L1692.5 2126 L1693.2 2125.2 L1694 2125.5 L1694.8 2125.6 L1695.5 2125.4 L1696.2 2125.9 L1697 2126.2 L1697.8 2125.7 L1698.5 2125.7 L1699.2 2126.2 L1700 2125.4 L1700.8 2125.6 L1701.5 2125.9 L1702.2 2124.8 L1703 2124.7 L1703.8 2125 L1704.5 2125.5 L1705.2 2125.6 L1706 2126 L1706.8 2125.8 L1707.5 2125.9 L1708.2 2124.9 L1709 2124.6 L1709.8 2125.3 L1710.5 2125.2 L1711.2 2124.8 L1712 2125.1 L1712.8 2125.6 L1713.5 2126.5 L1714.2 2126.5 L1715 2126.9 L1715.8 2126.5 L1716.5 2126.1 L1717.2 2125.3 L1718 2125.6 L1718.8 2126 L1719.5 2126.4 L1720.2 2126.5 L1721 2125.9 L1721.8 2125.4 L1722.5 2124.5 L1723.2 2125.3 L1724 2124.7 L1724.8 2124.9 L1725.5 2125.1 L1726.2 2126.1 L1727 2124.7 L1727.8 2124.9 L1728.5 2124.6 L1729.2 2124.4 L1730 2123.9 L1730.8 2124.2 L1731.5 2123.4 L1732.2 2124.1 L1733 2124.3 L1733.8 2124.6 L1734.5 2125.3 L1735.2 2125.9 L1736 2125.1 L1736.8 2125.8 L1737.5 2124.6 L1738.2 2123.8 L1739 2123.8 L1739.8 2123.8 L1740.5 2123.1 L1741.2 2123.4 L1742 2124.1 L1742.8 2123.6 L1743.5 2123.5 L1744.2 2122.9 L1745 2123.1 L1745.8 2122.7 L1746.5 2123.3 L1747.2 2123.1 L1748 2123.9 L1748.8 2123.8 L1749.5 2123.6 L1750.2 2123.1 L1751 2123.6 L1751.8 2123.4 L1752.5 2123.7 L1753.2 2124.1 L1754 2124.3 L1754.8 2124.2 L1755.5 2123.3 L1756.2 2122.8 L1757 2122.9 L1757.8 2122.9 L1758.5 2122 L1759.2 2123.5 L1760 2124.7 L1760.8 2124.4 L1761.5 2124.5 L1762.2 2124.8 L1763 2123.8 L1763.8 2122.7 L1764.5 2122.2 L1765.2 2122.1 L1766 2122.4 L1766.8 2122.9 L1767.5 2123.1 L1768.2 2123.1 L1769 2123 L1769.8 2123.4 L1770.5 2127.4 L1771.2 2127 L1772 2127.5 L1772.8 2128 L1773.5 2128 L1774.2 2127.7 L1775 2128.6 L1775.8 2128 L1776.5 2128.6 L1777.2 2128 L1778 2128 L1778.8 2127.6 L1779.5 2127.3 L1780.2 2126.5 L1781 2127.1 L1781.8 2125.8 L1782.5 2125.9 L1783.2 2126.5 L1784 2126.7 L1784.8 2125.7 L1785.5 2125.8 L1786.2 2126.1 L1787 2125.8 L1787.8 2124.5 L1788.5 2124.3 L1789.2 2123.9 L1790 2123.8 L1790.8 2123.2 L1791.5 2123.3 L1792.2 2123.7 L1793 2124.7 L1793.8 2125.3 L1794.5 2124.9 L1795.2 2125.1 L1796 2125.1 L1796.8 2124.5 L1797.5 2122.7 L1798.2 2123.2 L1799 2123.6 L1799.8 2123.7 L1800.5 2124 L1801.2 2125 L1802 2124.9 L1802.8 2124.8 L1803.5 2124.2 L1804.2 2124.6 L1805 2124 L1805.8 2125 L1806.5 2124.8 L1807.2 2125.4 L1808 2128.3 L1808.8 2127.8 L1809.5 2128 L1810.2 2128.1 L1811 2128.1 L1811.8 2128.3 L1812.5 2129 L1813.2 2128.4 L1814 2127.9 L1814.8 2127.5 L1815.5 2126.9 L1816.2 2127.4 L1817 2126.5 L1817.8 2126.7 L1818.5 2126.5 L1819.2 2127.7 L1820 2126.2 L1820.8 2126.7 L1821.5 2127.1 L1822.2 2127.9 L1823 2127.4 L1823.8 2128.5 L1824.5 2128.7 L1825.2 2128.7 L1826 2128.4 L1826.8 2127.4 L1827.5 2127.4 L1828.2 2126.8 L1829 2126.8 L1829.8 2126.6 L1830.5 2127.1 L1831.2 2127.3 L1832 2127.4 L1832.8 2128 L1833.5 2127 L1834.2 2126.7 L1835 2129.1 L1835.8 2129.4 L1836.5 2129.5 L1837.2 2130.1 L1838 2130.6 L1838.8 2130.7 L1839.5 2130.1 L1840.2 2129.2 L1841 2129.6 L1841.8 2129.1 L1842.5 2129.7 L1843.2 2130.4 L1844 2130.8 L1844.8 2130.8 L1845.5 2130.7 L1846.2 2130.3 L1847 2130.5 L1847.8 2130.6 L1848.5 2129.2 L1849.2 2129.5 L1850 2129.5 L1850.8 2129.3 L1851.5 2129.2 L1852.2 2130.2 L1853 2129.6 L1853.8 2129.2 L1854.5 2128.4 L1855.2 2127.9 L1856 2127.7 L1856.8 2127.2 L1857.5 2127.2 L1858.2 2128.1 L1859 2128.3 L1859.8 2128.4 L1860.5 2129.9 L1861.2 2130.3 L1862 2129.3 L1862.8 2127.9 L1863.5 2127.8" fill="none" stroke="#0b7f0b" stroke-width="7.5" stroke-linejoin="round"/>
<path d="M162.5 2024.1 L163.2 2024.1 L164 2024.2 L164.8 2024.1 L165.5 2024.1 L166.2 2024.1 L167 2024 L167.8 2023.8 L168.5 2023.7 L169.2 2023.8 L170 2024.2 L170.8 2024.5 L171.5 2024.5 L172.2 2024.8 L173 2024.8 L173.8 2024.5 L174.5 2024.4 L175.2 2024.3 L176 2023.9 L176.8 2024 L177.5 2024.2 L178.2 2024.3 L179 2024.5 L179.8 2024.7 L180.5 2024.9 L181.2 2024.9 L182 2024.9 L182.8 2025.1 L183.5 2025.4 L184.2 2024.8 L185 2024.7 L185.8 2024.8 L186.5 2024.7 L187.2 2024.6 L188 2025 L188.8 2024.9 L189.5 2024.7 L190.2 2024.8 L191 2024.7 L191.8 2024.6 L192.5 2024.9 L193.2 2025 L194 2024.9 L194.8 2024.6 L195.5 2024.6 L196.2 2024.3 L197 2024.4 L197.8 2024.5 L198.5 2024.8 L199.2 2024.8 L200 2024.7 L200.8 2024.7 L201.5 2024.5 L202.2 2024.2 L203 2024 L203.8 2024 L204.5 2023.6 L205.2 2023.7 L206 2023.8 L206.8 2024 L207.5 2023.8 L208.2 2024.1 L209 2024.1 L209.8 2024.1 L210.5 2024 L211.2 2024.2 L212 2024 L212.8 2023.9 L213.5 2023.8 L214.2 2024.1 L215 2024.1 L215.8 2024.2 L216.5 2024 L217.2 2024.1 L218 2023.9 L218.8 2023.9 L219.5 2023.8 L220.2 2023.8 L221 2023.7 L221.8 2023.6 L222.5 2023.5 L223.2 2023.7 L224 2027 L224.8 2026.8 L225.5 2026.7 L226.2 2026.8 L227 2026.5 L227.8 2026.3 L228.5 2026.5 L229.2 2026.5 L230 2026.6 L230.8 2027 L231.5 2026.6 L232.2 2026.5 L233 2026.2 L233.8 2025.8 L234.5 2025.8 L235.2 2025.8 L236 2025.5 L236.8 2025.8 L237.5 2026.2 L238.2 2025.7 L239 2025.7 L239.8 2025.7 L240.5 2025.2 L241.2 2024.8 L242 2024.7 L242.8 2024.5 L243.5 2024.6 L244.2 2025 L245 2024.9 L245.8 2025.2 L246.5 2025.2 L247.2 2025.1 L248 2025.1 L248.8 2025.5 L249.5 2025.5 L250.2 2025.7 L251 2025.7 L251.8 2025.3 L252.5 2025.1 L253.2 2024.7 L254 2024.9 L254.8 2024.8 L255.5 2024.6 L256.2 2024.5 L257 2024.5 L257.8 2023.9 L258.5 2023.9 L259.2 2024.2 L260 2024 L260.8 2023.6 L261.5 2023.6 L262.2 2023.6 L263 2023.3 L263.8 2023.4 L264.5 2023.6 L265.2 2023.2 L266 2023.3 L266.8 2023.4 L267.5 2023.1 L268.2 2023.1 L269 2023.7 L269.8 2023.3 L270.5 2023.2 L271.2 2023 L272 2023.1 L272.8 2022.8 L273.5 2022.6 L274.2 2022.8 L275 2022.8 L275.8 2022.6 L276.5 2022.6 L277.2 2022.7 L278 2022.5 L278.8 2022.6 L279.5 2022.4 L280.2 2022.3 L281 2022.2 L281.8 2021.9 L282.5 2021.6 L283.2 2021.7 L284 2021.6 L284.8 2021.5 L285.5 2021.7 L286.2 2021.9 L287 2021.7 L287.8 2021.8 L288.5 2021.5 L289.2 2021.9 L290 2022.2 L290.8 2022.4 L291.5 2021.9 L292.2 2022.4 L293 2021.6 L293.8 2020.9 L294.5 2021.1 L295.2 2021.4 L296 2021.5 L296.8 2021.5 L297.5 2022.6 L298.2 2023 L299 2022.3 L299.8 2021.2 L300.5 2020.9 L301.2 2020.7 L302 2020.2 L302.8 2020.9 L303.5 2021.9 L304.2 2021.7 L305 2021.2 L305.8 2020.5 L306.5 2020.5 L307.2 2020.3 L308 2020.5 L308.8 2020.2 L309.5 2023.9 L310.2 2024.5 L311 2023.9 L311.8 2024.4 L312.5 2024.4 L313.2 2024.7 L314 2024.4 L314.8 2024.7 L315.5 2024.4 L316.2 2025.1 L317 2025.1 L317.8 2024.4 L318.5 2024.3 L319.2 2024.4 L320 2024.3 L320.8 2024 L321.5 2024.3 L322.2 2024.9 L323 2025 L323.8 2024.4 L324.5 2023.7 L325.2 2023.8 L326 2023.7 L326.8 2023.8 L327.5 2023.8 L328.2 2023.9 L329 2023.9 L329.8 2024 L330.5 2024.4 L331.2 2023.8 L332 2023.8 L332.8 2023.4 L333.5 2023.9 L334.2 2022.2 L335 2023.1 L335.8 2022.9 L336.5 2022.6 L337.2 2022 L338 2023.2 L338.8 2021.6 L339.5 2021.3 L340.2 2021.7 L341 2021.3 L341.8 2022 L342.5 2024 L343.2 2026.1 L344 2026.4 L344.8 2026.5 L345.5 2024.5 L346.2 2023.5 L347 2022.4 L347.8 2023.7 L348.5 2023.1 L349.2 2023.7 L350 2024.1 L350.8 2024 L351.5 2023.3 L352.2 2023.3 L353 2021.9 L353.8 2021.3 L354.5 2021.7 L355.2 2022.1 L356 2023 L356.8 2023 L357.5 2022.6 L358.2 2022.8 L359 2022.5 L359.8 2022 L360.5 2022.3 L361.2 2022.3 L362 2022.4 L362.8 2021.5 L363.5 2020.9 L364.2 2020.6 L365 2020.4 L365.8 2020.7 L366.5 2021 L367.2 2021.8 L368 2022.8 L368.8 2023.5 L369.5 2023.1 L370.2 2023.2 L371 2022.9 L371.8 2022.2 L372.5 2021.4 L373.2 2021.5 L374 2021.8 L374.8 2021.6 L375.5 2021.4 L376.2 2021.6 L377 2021.4 L377.8 2021.4 L378.5 2021.7 L379.2 2022 L380 2021.4 L380.8 2021.2 L381.5 2020.8 L382.2 2020.4 L383 2020.5 L383.8 2021.1 L384.5 2021 L385.2 2021.3 L386 2022 L386.8 2022.7 L387.5 2022.7 L388.2 2022.8 L389 2022.9 L389.8 2023.1 L390.5 2022 L391.2 2022.2 L392 2022.3 L392.8 2022.3 L393.5 2021.4 L394.2 2021.4 L395 2021 L395.8 2021 L396.5 2020.2 L397.2 2020.3 L398 2020.1 L398.8 2021 L399.5 2021.6 L400.2 2021.8 L401 2021.7 L401.8 2022.2 L402.5 2021.2 L403.2 2020.4 L404 2020.9 L404.8 2021.6 L405.5 2021.6 L406.2 2022.4 L407 2022.6 L407.8 2022.3 L408.5 2021.6 L409.2 2021.3 L410 2020.4 L410.8 2020.9 L411.5 2021.3 L412.2 2021.4 L413 2024.6 L413.8 2024.7 L414.5 2024.6 L415.2 2024.6 L416 2025.2 L416.8 2026 L417.5 2026.7 L418.2 2026.9 L419 2027.9 L419.8 2027.3 L420.5 2026.3 L421.2 2025.8 L422 2024.7 L422.8 2022.9 L423.5 2022.3 L424.2 2021.9 L425 2021.9 L425.8 2021.3 L426.5 2021 L427.2 2020.9 L428 2021.2 L428.8 2020.9 L429.5 2021.9 L430.2 2022.1 L431 2023 L431.8 2022.3 L432.5 2023.4 L433.2 2022.7 L434 2022.9 L434.8 2022.1 L435.5 2022.6 L436.2 2022.5 L437 2023.3 L437.8 2023.2 L438.5 2023.8 L439.2 2024.5 L440 2024.2 L440.8 2023.7 L441.5 2024.1 L442.2 2024 L443 2022.6 L443.8 2022.2 L444.5 2022.3 L445.2 2023 L446 2023.7 L446.8 2025.6 L447.5 2026.5 L448.2 2026.7 L449 2024.4 L449.8 2022.8 L450.5 2021.6 L451.2 2022.2 L452 2022.2 L452.8 2022.8 L453.5 2022.9 L454.2 2023.5 L455 2023 L455.8 2022.8 L456.5 2022.9 L457.2 2024 L458 2023.3 L458.8 2023.2 L459.5 2023.5 L460.2 2022.8 L461 2021.8 L461.8 2021.5 L462.5 2021.7 L463.2 2021.4 L464 2021.7 L464.8 2021.6 L465.5 2022.1 L466.2 2022.6 L467 2022.9 L467.8 2023.1 L468.5 2023.2 L469.2 2023.4 L470 2023 L470.8 2022.9 L471.5 2023.5 L472.2 2022.9 L473 2023.2 L473.8 2023.2 L474.5 2023.3 L475.2 2023.3 L476 2024.6 L476.8 2023.7 L477.5 2023.1 L478.2 2023.3 L479 2022.7 L479.8 2021.6 L480.5 2021.4 L481.2 2022.4 L482 2022 L482.8 2021.6 L483.5 2021.9 L484.2 2022.5 L485 2021.8 L485.8 2021 L486.5 2022.5 L487.2 2022.2 L488 2023.8 L488.8 2025.6 L489.5 2026.9 L490.2 2025.6 L491 2024.4 L491.8 2023 L492.5 2022.5 L493.2 2023 L494 2022.8 L494.8 2023.1 L495.5 2022.8 L496.2 2023.1 L497 2023.2 L497.8 2022 L498.5 2021.6 L499.2 2022.2 L500 2022.3 L500.8 2022.2 L501.5 2023.4 L502.2 2023.8 L503 2022.4 L503.8 2021.9 L504.5 2021.4 L505.2 2020.5 L506 2020.4 L506.8 2020.7 L507.5 2021 L508.2 2021.6 L509 2022.6 L509.8 2021.7 L510.5 2021.4 L511.2 2020.6 L512 2020.5 L512.8 2019.7 L513.5 2020.4 L514.2 2021.4 L515 2022.9 L515.8 2022.3 L516.5 2022.7 L517.2 2022.6 L518 2021.3 L518.8 2020.9 L519.5 2021.9 L520.2 2021.3 L521 2021.5 L521.8 2022.4 L522.5 2022.2 L523.2 2021.2 L524 2021.3 L524.8 2022 L525.5 2022.3 L526.2 2022.3 L527 2023.2 L527.8 2023.2 L528.5 2022.5 L529.2 2021.8 L530 2020.7 L530.8 2019.8 L531.5 2020.5 L532.2 2020.6 L533 2021 L533.8 2022.1 L534.5 2022.6 L535.2 2021.6 L536 2021.3 L536.8 2022.3 L537.5 2022.3 L538.2 2022 L539 2023.5 L539.8 2023.5 L540.5 2022.2 L541.2 2022.2 L542 2022.5 L542.8 2021.1 L543.5 2021.2 L544.2 2021.1 L545 2020.4 L545.8 2020.4 L546.5 2020.9 L547.2 2020.6 L548 2020.6 L548.8 2021.7 L549.5 2020.4 L550.2 2020.8 L551 2021 L551.8 2021.3 L552.5 2020.7 L553.2 2021.7 L554 2021.8 L554.8 2021.4 L555.5 2022.1 L556.2 2021.7 L557 2022.1 L557.8 2021.7 L558.5 2022.7 L559.2 2022.3 L560 2022.1 L560.8 2022 L561.5 2021.7 L562.2 2021.3 L563 2020.9 L563.8 2021.2 L564.5 2020.7 L565.2 2021.1 L566 2020.9 L566.8 2020.8 L567.5 2020.6 L568.2 2021.2 L569 2020.8 L569.8 2020.1 L570.5 2019.5 L571.2 2020.8 L572 2020.6 L572.8 2020.5 L573.5 2021 L574.2 2021.5 L575 2020.7 L575.8 2020.8 L576.5 2021.5 L577.2 2021.6 L578 2021.9 L578.8 2022 L579.5 2021.9 L580.2 2021.9 L581 2022.3 L581.8 2021.8 L582.5 2022.2 L583.2 2022.8 L584 2023 L584.8 2024.8 L585.5 2026 L586.2 2024.1 L587 2023.1 L587.8 2023 L588.5 2021.8 L589.2 2020.8 L590 2021.7 L590.8 2021.7 L591.5 2021.4 L592.2 2021.9 L593 2021.6 L593.8 2020.4 L594.5 2020.7 L595.2 2021.5 L596 2020.6 L596.8 2021.2 L597.5 2023.9 L598.2 2024.4 L599 2024.7 L599.8 2025.5 L600.5 2025.1 L601.2 2023 L602 2023.3 L602.8 2022.8 L603.5 2021.8 L604.2 2021.3 L605 2021.7 L605.8 2020.4 L606.5 2021.2 L607.2 2021.9 L608 2022.8 L608.8 2022.6 L609.5 2023.5 L610.2 2021.7 L611 2021.1 L611.8 2020.9 L612.5 2020.4 L613.2 2019.8 L614 2020.2 L614.8 2020.8 L615.5 2021 L616.2 2021.5 L617 2022.1 L617.8 2022.5 L618.5 2021.6 L619.2 2020.8 L620 2020.6 L620.8 2020.6 L621.5 2020.7 L622.2 2021.7 L623 2021.8 L623.8 2022.3 L624.5 2022.1 L625.2 2022.8 L626 2022.4 L626.8 2023.1 L627.5 2021.9 L628.2 2022.1 L629 2021.5 L629.8 2021.7 L630.5 2021.5 L631.2 2021.8 L632 2022.4 L632.8 2023.2 L633.5 2023.1 L634.2 2023.6 L635 2024.2 L635.8 2024.2 L636.5 2023 L637.2 2023.3 L638 2022.9 L638.8 2022.2 L639.5 2021.4 L640.2 2022.1 L641 2021.2 L641.8 2020.8 L642.5 2021.4 L643.2 2021.4 L644 2021.1 L644.8 2021.5 L645.5 2021.8 L646.2 2021.6 L647 2021.8 L647.8 2021.3 L648.5 2021.9 L649.2 2021.6 L650 2022 L650.8 2021.8 L651.5 2022.6 L652.2 2021.8 L653 2022.7 L653.8 2022.8 L654.5 2023 L655.2 2023.3 L656 2024 L656.8 2023.2 L657.5 2022.6 L658.2 2022.6 L659 2022.2 L659.8 2021.5 L660.5 2021.6 L661.2 2021.9 L662 2022.2 L662.8 2022 L663.5 2021.8 L664.2 2020.8 L665 2020.6 L665.8 2019.6 L666.5 2020.5 L667.2 2021.5 L668 2022.9 L668.8 2023.4 L669.5 2024.4 L670.2 2022.9 L671 2022.3 L671.8 2021.2 L672.5 2021.3 L673.2 2021 L674 2022.2 L674.8 2021.9 L675.5 2022.6 L676.2 2022.7 L677 2022.5 L677.8 2022 L678.5 2022.9 L679.2 2022.1 L680 2021.6 L680.8 2021.7 L681.5 2021.5 L682.2 2020.1 L683 2020.6 L683.8 2019.6 L684.5 2020.4 L685.2 2020.3 L686 2021.2 L686.8 2021 L687.5 2022 L688.2 2021 L689 2021.1 L689.8 2021.5 L690.5 2021.8 L691.2 2021.8 L692 2022.4 L692.8 2022.7 L693.5 2022.3 L694.2 2022.4 L695 2022.2 L695.8 2021.3 L696.5 2020.7 L697.2 2021.2 L698 2021.2 L698.8 2021.2 L699.5 2021.5 L700.2 2021.5 L701 2021.4 L701.8 2022.1 L702.5 2022.3 L703.2 2022.3 L704 2021.8 L704.8 2021.2 L705.5 2021.2 L706.2 2021.3 L707 2021.5 L707.8 2022.1 L708.5 2022.3 L709.2 2022 L710 2022.3 L710.8 2023.1 L711.5 2022.4 L712.2 2022.9 L713 2023.1 L713.8 2022.3 L714.5 2022 L715.2 2023 L716 2021.8 L716.8 2020.4 L717.5 2020.4 L718.2 2019.9 L719 2019.8 L719.8 2020.1 L720.5 2020.4 L721.2 2020.4 L722 2021.2 L722.8 2020.9 L723.5 2021.7 L724.2 2022.5 L725 2022.5 L725.8 2022.1 L726.5 2021.9 L727.2 2021.5 L728 2021.4 L728.8 2021.5 L729.5 2021.3 L730.2 2021.6 L731 2021.4 L731.8 2021.7 L732.5 2021.2 L733.2 2021.2 L734 2020.7 L734.8 2020.7 L735.5 2020.1 L736.2 2021.6 L737 2021.5 L737.8 2021.9 L738.5 2022.3 L739.2 2022.1 L740 2020.7 L740.8 2021 L741.5 2021.3 L742.2 2021 L743 2021.1 L743.8 2022.1 L744.5 2021.6 L745.2 2021 L746 2020.8 L746.8 2019.7 L747.5 2019.6 L748.2 2020 L749 2020.6 L749.8 2020.2 L750.5 2021.7 L751.2 2021.3 L752 2021.1 L752.8 2021.5 L753.5 2022.5 L754.2 2021.5 L755 2021.4 L755.8 2021.4 L756.5 2020.7 L757.2 2020 L758 2020.7 L758.8 2020.9 L759.5 2020.7 L760.2 2021.2 L761 2021 L761.8 2020.9 L762.5 2020.3 L763.2 2020.5 L764 2020.4 L764.8 2021.5 L765.5 2021.3 L766.2 2021.2 L767 2020.8 L767.8 2020.3 L768.5 2019.9 L769.2 2019.8 L770 2020.3 L770.8 2021.6 L771.5 2021.9 L772.2 2021.9 L773 2022.6 L773.8 2022.3 L774.5 2022 L775.2 2022.6 L776 2022.2 L776.8 2021.9 L777.5 2022.1 L778.2 2021.9 L779 2021.1 L779.8 2021.8 L780.5 2021.9 L781.2 2022.2 L782 2022.3 L782.8 2022 L783.5 2020.5 L784.2 2020.6 L785 2020.1 L785.8 2019 L786.5 2019.3 L787.2 2020.4 L788 2020 L788.8 2020.8 L789.5 2021.2 L790.2 2021.3 L791 2020.1 L791.8 2020 L792.5 2019.6 L793.2 2019.8 L794 2019.3 L794.8 2020.3 L795.5 2021.8 L796.2 2022.2 L797 2022.4 L797.8 2022.4 L798.5 2021.8 L799.2 2023.5 L800 2022.7 L800.8 2022.9 L801.5 2023 L802.2 2023.5 L803 2023.4 L803.8 2023.8 L804.5 2023.2 L805.2 2023.4 L806 2023.3 L806.8 2023.7 L807.5 2023.6 L808.2 2023.4 L809 2023.1 L809.8 2022.9 L810.5 2022.3 L811.2 2022.1 L812 2022.5 L812.8 2023.6 L813.5 2023.7 L814.2 2023.8 L815 2024.2 L815.8 2024.5 L816.5 2023.9 L817.2 2023.6 L818 2023.9 L818.8 2024.1 L819.5 2023.2 L820.2 2023 L821 2023.2 L821.8 2023.5 L822.5 2023.7 L823.2 2024.2 L824 2024.2 L824.8 2024.9 L825.5 2025.1 L826.2 2025.4 L827 2025.3 L827.8 2026.2 L828.5 2025.7 L829.2 2025.3 L830 2024.2 L830.8 2024.5 L831.5 2023.4 L832.2 2023.6 L833 2023.2 L833.8 2023.5 L834.5 2022.7 L835.2 2022.5 L836 2022.1 L836.8 2022.5 L837.5 2022.6 L838.2 2023.1 L839 2023 L839.8 2022.9 L840.5 2023.3 L841.2 2022.8 L842 2022.9 L842.8 2023.7 L843.5 2023.8 L844.2 2023.2 L845 2023.9 L845.8 2023.9 L846.5 2024.7 L847.2 2024.3 L848 2024.4 L848.8 2024 L849.5 2023.4 L850.2 2022.9 L851 2023.6 L851.8 2023.5 L852.5 2023.9 L853.2 2023.9 L854 2023.4 L854.8 2023.5 L855.5 2023.2 L856.2 2022.5 L857 2023.3 L857.8 2022.7 L858.5 2022 L859.2 2022.3 L860 2023.2 L860.8 2023.3 L861.5 2023.9 L862.2 2024.7 L863 2024.2 L863.8 2022.9 L864.5 2022.5 L865.2 2022 L866 2021.4 L866.8 2021.3 L867.5 2021.6 L868.2 2020.9 L869 2020.5 L869.8 2020.8 L870.5 2021 L871.2 2021.1 L872 2021.8 L872.8 2022.7 L873.5 2022.3 L874.2 2021.6 L875 2021.7 L875.8 2022.6 L876.5 2022.4 L877.2 2023.1 L878 2024 L878.8 2023.6 L879.5 2022.8 L880.2 2022.5 L881 2021.9 L881.8 2022.4 L882.5 2022.6 L883.2 2022.3 L884 2021.9 L884.8 2022.1 L885.5 2022.3 L886.2 2022.6 L887 2023.6 L887.8 2024.3 L888.5 2024 L889.2 2022.5 L890 2022.2 L890.8 2021.5 L891.5 2020.3 L892.2 2020.5 L893 2021.5 L893.8 2021.9 L894.5 2020.8 L895.2 2021.2 L896 2020.8 L896.8 2019.5 L897.5 2019.1 L898.2 2019.5 L899 2020.3 L899.8 2020.5 L900.5 2021.5 L901.2 2021.5 L902 2022 L902.8 2022 L903.5 2021.3 L904.2 2021.5 L905 2021.8 L905.8 2021.1 L906.5 2020.8 L907.2 2021.7 L908 2021.1 L908.8 2021.1 L909.5 2021 L910.2 2021.2 L911 2021.7 L911.8 2022.6 L912.5 2023 L913.2 2024.2 L914 2024.3 L914.8 2023.5 L915.5 2023.3 L916.2 2022.7 L917 2021.5 L917.8 2021.9 L918.5 2022.4 L919.2 2022.3 L920 2022.7 L920.8 2022.9 L921.5 2022.7 L922.2 2022.2 L923 2022.2 L923.8 2021.7 L924.5 2021.9 L925.2 2021.1 L926 2021.1 L926.8 2020.4 L927.5 2019.9 L928.2 2019.9 L929 2020.4 L929.8 2020 L930.5 2021 L931.2 2022 L932 2021.6 L932.8 2021.4 L933.5 2021.4 L934.2 2022 L935 2021.5 L935.8 2021.8 L936.5 2022.2 L937.2 2022.7 L938 2021.5 L938.8 2022.4 L939.5 2022 L940.2 2022.3 L941 2021.7 L941.8 2022.5 L942.5 2022.5 L943.2 2023 L944 2022.8 L944.8 2022.8 L945.5 2021.7 L946.2 2021.2 L947 2020.4 L947.8 2021 L948.5 2020.8 L949.2 2022 L950 2021.9 L950.8 2022.5 L951.5 2021.5 L952.2 2022.2 L953 2020.3 L953.8 2020.6 L954.5 2020.6 L955.2 2020.6 L956 2020.1 L956.8 2020.9 L957.5 2020.9 L958.2 2021.5 L959 2022.1 L959.8 2021.8 L960.5 2022.5 L961.2 2022.4 L962 2022.2 L962.8 2021.3 L963.5 2022.3 L964.2 2021.7 L965 2021.8 L965.8 2022.1 L966.5 2023.4 L967.2 2023.2 L968 2022.8 L968.8 2022.7 L969.5 2021.9 L970.2 2021.1 L971 2020.5 L971.8 2021.5 L972.5 2022.2 L973.2 2021.8 L974 2021.4 L974.8 2021.7 L975.5 2020.3 L976.2 2019 L977 2019.9 L977.8 2020.4 L978.5 2019.7 L979.2 2020.7 L980 2021.3 L980.8 2021.6 L981.5 2021.2 L982.2 2021.6 L983 2021.3 L983.8 2021.6 L984.5 2021.6 L985.2 2021.5 L986 2022 L986.8 2022.2 L987.5 2021.2 L988.2 2021.2 L989 2021.7 L989.8 2022.1 L990.5 2023.2 L991.2 2024 L992 2025.2 L992.8 2027 L993.5 2027.2 L994.2 2026.3 L995 2025.6 L995.8 2024.3 L996.5 2022.1 L997.2 2021.8 L998 2021.5 L998.8 2021.8 L999.5 2021.6 L1000.2 2023.3 L1001 2023.1 L1001.8 2023.7 L1002.5 2023.5 L1003.2 2023.9 L1004 2023 L1004.8 2022.2 L1005.5 2021 L1006.2 2020.5 L1007 2019.9 L1007.8 2020.3 L1008.5 2020.9 L1009.2 2021.9 L1010 2022.2 L1010.8 2022.5 L1011.5 2021.7 L1012.2 2021.7 L1013 2021.4 L1013.8 2020.9 L1014.5 2021.2 L1015.2 2021.4 L1016 2021.2 L1016.8 2020.9 L1017.5 2021.5 L1018.2 2021.1 L1019 2021 L1019.8 2021.1 L1020.5 2022.3 L1021.2 2022.4 L1022 2022.2 L1022.8 2022.3 L1023.5 2022.8 L1024.2 2022.4 L1025 2022.3 L1025.8 2022.4 L1026.5 2021.9 L1027.2 2021.6 L1028 2021.6 L1028.8 2021.3 L1029.5 2021.7 L1030.2 2022.6 L1031 2022.8 L1031.8 2022.6 L1032.5 2023.3 L1033.2 2022.7 L1034 2022.1 L1034.8 2022.2 L1035.5 2022.3 L1036.2 2022.3 L1037 2021.7 L1037.8 2022.4 L1038.5 2021.7 L1039.2 2021.6 L1040 2020.9 L1040.8 2021.7 L1041.5 2020.9 L1042.2 2021.3 L1043 2021.3 L1043.8 2022 L1044.5 2022 L1045.2 2022.3 L1046 2021.6 L1046.8 2020.9 L1047.5 2020.1 L1048.2 2019.9 L1049 2020.5 L1049.8 2020.7 L1050.5 2021.3 L1051.2 2021.7 L1052 2022.3 L1052.8 2021.6 L1053.5 2022.1 L1054.2 2022.1 L1055 2022.2 L1055.8 2022.5 L1056.5 2022.5 L1057.2 2022.4 L1058 2022.4 L1058.8 2021.6 L1059.5 2021.4 L1060.2 2021.9 L1061 2021.8 L1061.8 2022.2 L1062.5 2022.7 L1063.2 2022.8 L1064 2023.3 L1064.8 2024.1 L1065.5 2024.4 L1066.2 2025.5 L1067 2025.4 L1067.8 2024.6 L1068.5 2023.9 L1069.2 2024.4 L1070 2022.6 L1070.8 2023.5 L1071.5 2023.3 L1072.2 2023.6 L1073 2022.3 L1073.8 2023.3 L1074.5 2021.7 L1075.2 2021.8 L1076 2021.7 L1076.8 2022 L1077.5 2021.4 L1078.2 2022.7 L1079 2022.1 L1079.8 2022 L1080.5 2021.9 L1081.2 2022.1 L1082 2020.9 L1082.8 2021.4 L1083.5 2020.8 L1084.2 2020.5 L1085 2020.7 L1085.8 2020.9 L1086.5 2021.6 L1087.2 2021.9 L1088 2022 L1088.8 2022.3 L1089.5 2021.8 L1090.2 2021.5 L1091 2021.7 L1091.8 2022.6 L1092.5 2021.7 L1093.2 2021.8 L1094 2020.5 L1094.8 2020.5 L1095.5 2019.3 L1096.2 2019.7 L1097 2019.1 L1097.8 2020.1 L1098.5 2019.9 L1099.2 2019.9 L1100 2020.6 L1100.8 2022.1 L1101.5 2021.5 L1102.2 2020.8 L1103 2021 L1103.8 2020.7 L1104.5 2020.3 L1105.2 2021 L1106 2021.7 L1106.8 2021.9 L1107.5 2021.7 L1108.2 2021.1 L1109 2021.2 L1109.8 2021.4 L1110.5 2021.4 L1111.2 2021.7 L1112 2022.1 L1112.8 2021.1 L1113.5 2021.1 L1114.2 2020.7 L1115 2020.9 L1115.8 2020.1 L1116.5 2020.9 L1117.2 2021.9 L1118 2022.2 L1118.8 2021.5 L1119.5 2022 L1120.2 2022 L1121 2021.3 L1121.8 2021.3 L1122.5 2021.8 L1123.2 2021.5 L1124 2020.8 L1124.8 2020.1 L1125.5 2019.9 L1126.2 2020 L1127 2020.3 L1127.8 2021.9 L1128.5 2022.4 L1129.2 2022.6 L1130 2022.7 L1130.8 2022.9 L1131.5 2022.2 L1132.2 2022.1 L1133 2022 L1133.8 2021.3 L1134.5 2021.7 L1135.2 2021.4 L1136 2021.6 L1136.8 2021.9 L1137.5 2021.8 L1138.2 2021.2 L1139 2020.3 L1139.8 2020.6 L1140.5 2020.6 L1141.2 2021.1 L1142 2021.1 L1142.8 2021.2 L1143.5 2021.2 L1144.2 2020.5 L1145 2019.9 L1145.8 2020.6 L1146.5 2020.5 L1147.2 2019.8 L1148 2020.5 L1148.8 2021.5 L1149.5 2020.7 L1150.2 2020.3 L1151 2020.7 L1151.8 2020.8 L1152.5 2020.6 L1153.2 2020.4 L1154 2022.1 L1154.8 2022.5 L1155.5 2022 L1156.2 2022 L1157 2022.8 L1157.8 2022.3 L1158.5 2022.8 L1159.2 2022.4 L1160 2022.4 L1160.8 2022.2 L1161.5 2022.2 L1162.2 2021 L1163 2021.4 L1163.8 2021.3 L1164.5 2021.6 L1165.2 2021 L1166 2021.5 L1166.8 2021.1 L1167.5 2021.3 L1168.2 2021.8 L1169 2024.1 L1169.8 2025.4 L1170.5 2027.5 L1171.2 2026.5 L1172 2025.2 L1172.8 2025 L1173.5 2024.3 L1174.2 2022.5 L1175 2022 L1175.8 2021.2 L1176.5 2019.8 L1177.2 2019.3 L1178 2019.4 L1178.8 2020.1 L1179.5 2019.8 L1180.2 2020.1 L1181 2020.9 L1181.8 2021 L1182.5 2021.2 L1183.2 2021.7 L1184 2022.5 L1184.8 2022.1 L1185.5 2023 L1186.2 2023.6 L1187 2023.8 L1187.8 2022.7 L1188.5 2022.8 L1189.2 2022.2 L1190 2020.5 L1190.8 2020.3 L1191.5 2023.6 L1192.2 2024 L1193 2023.4 L1193.8 2023.9 L1194.5 2023.7 L1195.2 2023.3 L1196 2022.6 L1196.8 2022.9 L1197.5 2023.2 L1198.2 2023.7 L1199 2024 L1199.8 2023.8 L1200.5 2023.8 L1201.2 2023.6 L1202 2023.5 L1202.8 2022.9 L1203.5 2023.3 L1204.2 2023.5 L1205 2023.6 L1205.8 2023.6 L1206.5 2024.7 L1207.2 2024.7 L1208 2024.4 L1208.8 2024.4 L1209.5 2024.1 L1210.2 2023.3 L1211 2022.9 L1211.8 2023.3 L1212.5 2022.4 L1213.2 2021.6 L1214 2021.8 L1214.8 2021.7 L1215.5 2021.2 L1216.2 2021.4 L1217 2022.1 L1217.8 2021.2 L1218.5 2022.2 L1219.2 2022.2 L1220 2022.3 L1220.8 2022.3 L1221.5 2023.2 L1222.2 2022.7 L1223 2022.9 L1223.8 2022.3 L1224.5 2021.9 L1225.2 2021.4 L1226 2021 L1226.8 2021 L1227.5 2022.1 L1228.2 2022.5 L1229 2022.3 L1229.8 2021.8 L1230.5 2021.5 L1231.2 2020.2 L1232 2019.4 L1232.8 2019.5 L1233.5 2019.7 L1234.2 2019.2 L1235 2020 L1235.8 2020.4 L1236.5 2021 L1237.2 2021.4 L1238 2021.4 L1238.8 2021.7 L1239.5 2022.3 L1240.2 2022.3 L1241 2021.9 L1241.8 2022 L1242.5 2022 L1243.2 2021.2 L1244 2020.4 L1244.8 2021.6 L1245.5 2021.8 L1246.2 2021.8 L1247 2022.4 L1247.8 2023.1 L1248.5 2021.7 L1249.2 2021.5 L1250 2020.7 L1250.8 2020.1 L1251.5 2018.7 L1252.2 2018.5 L1253 2018.7 L1253.8 2019 L1254.5 2019.8 L1255.2 2020.7 L1256 2021.2 L1256.8 2020.4 L1257.5 2020.7 L1258.2 2019.9 L1259 2019.7 L1259.8 2020 L1260.5 2020.1 L1261.2 2019.8 L1262 2019.4 L1262.8 2020.2 L1263.5 2022.5 L1264.2 2023.4 L1265 2023.2 L1265.8 2023.4 L1266.5 2022.8 L1267.2 2023.3 L1268 2022.7 L1268.8 2023.3 L1269.5 2023.2 L1270.2 2023.8 L1271 2023.6 L1271.8 2024.2 L1272.5 2023.7 L1273.2 2023.7 L1274 2023.4 L1274.8 2022.8 L1275.5 2022 L1276.2 2022.3 L1277 2022.3 L1277.8 2022.7 L1278.5 2023.8 L1279.2 2023.8 L1280 2024.5 L1280.8 2025.7 L1281.5 2025.7 L1282.2 2025.4 L1283 2026.7 L1283.8 2026.8 L1284.5 2025.8 L1285.2 2025.5 L1286 2025.6 L1286.8 2024.1 L1287.5 2023.3 L1288.2 2023.1 L1289 2023.3 L1289.8 2023.6 L1290.5 2023.8 L1291.2 2023.5 L1292 2023.4 L1292.8 2022.3 L1293.5 2021.2 L1294.2 2020.6 L1295 2020.8 L1295.8 2021.2 L1296.5 2021.1 L1297.2 2020.3 L1298 2020.6 L1298.8 2020.4 L1299.5 2020 L1300.2 2020.5 L1301 2021.7 L1301.8 2021.9 L1302.5 2022.1 L1303.2 2022.3 L1304 2021.6 L1304.8 2021.4 L1305.5 2022.1 L1306.2 2021.4 L1307 2021.7 L1307.8 2022.3 L1308.5 2021.9 L1309.2 2024.8 L1310 2024.9 L1310.8 2024.2 L1311.5 2024.4 L1312.2 2025.4 L1313 2025.3 L1313.8 2025.8 L1314.5 2026.2 L1315.2 2026.3 L1316 2025.3 L1316.8 2024.8 L1317.5 2024.8 L1318.2 2025.2 L1319 2025 L1319.8 2024.8 L1320.5 2025.5 L1321.2 2025 L1322 2024 L1322.8 2023.7 L1323.5 2023.9 L1324.2 2023.8 L1325 2024.6 L1325.8 2024.6 L1326.5 2024.5 L1327.2 2023.6 L1328 2023.4 L1328.8 2022.6 L1329.5 2022.9 L1330.2 2022.9 L1331 2023.6 L1331.8 2023.1 L1332.5 2023.5 L1333.2 2022.7 L1334 2023 L1334.8 2023.8 L1335.5 2023.7 L1336.2 2024 L1337 2024.8 L1337.8 2024.3 L1338.5 2023.6 L1339.2 2024.1 L1340 2024 L1340.8 2023.2 L1341.5 2023.1 L1342.2 2023 L1343 2022.8 L1343.8 2022.1 L1344.5 2022 L1345.2 2021.5 L1346 2021.4 L1346.8 2020.7 L1347.5 2020.6 L1348.2 2021 L1349 2021.2 L1349.8 2021.1 L1350.5 2021.4 L1351.2 2020.8 L1352 2021.4 L1352.8 2021.8 L1353.5 2021.5 L1354.2 2021 L1355 2021.4 L1355.8 2021 L1356.5 2020.9 L1357.2 2021.9 L1358 2022.8 L1358.8 2023.2 L1359.5 2023.6 L1360.2 2023.1 L1361 2022.2 L1361.8 2021.8 L1362.5 2022.3 L1363.2 2022.4 L1364 2023.2 L1364.8 2023.7 L1365.5 2023.5 L1366.2 2022.5 L1367 2021.9 L1367.8 2022 L1368.5 2021.5 L1369.2 2021.7 L1370 2021.5 L1370.8 2022.3 L1371.5 2021.6 L1372.2 2021.5 L1373 2021.2 L1373.8 2021.4 L1374.5 2021.1 L1375.2 2021.4 L1376 2021.7 L1376.8 2021.5 L1377.5 2021.5 L1378.2 2021.6 L1379 2021.5 L1379.8 2021.5 L1380.5 2022 L1381.2 2022.4 L1382 2021.8 L1382.8 2021.9 L1383.5 2021.8 L1384.2 2021.4 L1385 2021.6 L1385.8 2021.8 L1386.5 2022.1 L1387.2 2022.4 L1388 2022.3 L1388.8 2021.9 L1389.5 2021.3 L1390.2 2021.4 L1391 2021 L1391.8 2021.6 L1392.5 2020.8 L1393.2 2021.1 L1394 2020.5 L1394.8 2021.1 L1395.5 2020.8 L1396.2 2021.2 L1397 2021.6 L1397.8 2021.2 L1398.5 2020.4 L1399.2 2020.4 L1400 2020.6 L1400.8 2019.9 L1401.5 2019.9 L1402.2 2020.4 L1403 2020.4 L1403.8 2019.9 L1404.5 2020.5 L1405.2 2020.8 L1406 2021.2 L1406.8 2020.5 L1407.5 2021.3 L1408.2 2020.1 L1409 2019.2 L1409.8 2019 L1410.5 2019.3 L1411.2 2018.7 L1412 2019.6 L1412.8 2020.7 L1413.5 2020.1 L1414.2 2020.6 L1415 2020.3 L1415.8 2021.3 L1416.5 2021.4 L1417.2 2021.6 L1418 2021.4 L1418.8 2021.2 L1419.5 2021.1 L1420.2 2020.8 L1421 2020.4 L1421.8 2020.8 L1422.5 2020.9 L1423.2 2019.7 L1424 2020.1 L1424.8 2020 L1425.5 2019.6 L1426.2 2020.5 L1427 2020.9 L1427.8 2020.5 L1428.5 2020.8 L1429.2 2020.8 L1430 2021.1 L1430.8 2021 L1431.5 2021.6 L1432.2 2020.8 L1433 2021 L1433.8 2019.9 L1434.5 2019.7 L1435.2 2019.3 L1436 2019.3 L1436.8 2019.3 L1437.5 2019.6 L1438.2 2020.3 L1439 2020 L1439.8 2020.6 L1440.5 2020.1 L1441.2 2020.1 L1442 2019.7 L1442.8 2020.2 L1443.5 2019.9 L1444.2 2019 L1445 2018.6 L1445.8 2017.9 L1446.5 2017.4 L1447.2 2017.6 L1448 2018.6 L1448.8 2019.2 L1449.5 2020 L1450.2 2019.9 L1451 2020.9 L1451.8 2022.1 L1452.5 2023 L1453.2 2022.9 L1454 2022.7 L1454.8 2022.5 L1455.5 2020.9 L1456.2 2020.7 L1457 2021.2 L1457.8 2021.2 L1458.5 2020.4 L1459.2 2023.9 L1460 2023.5 L1460.8 2023.5 L1461.5 2023.8 L1462.2 2023.7 L1463 2023.9 L1463.8 2024.1 L1464.5 2023.7 L1465.2 2023.1 L1466 2024 L1466.8 2023.6 L1467.5 2022.8 L1468.2 2023 L1469 2023.7 L1469.8 2023.7 L1470.5 2023.5 L1471.2 2023.4 L1472 2022.8 L1472.8 2022.2 L1473.5 2021.5 L1474.2 2021.2 L1475 2020.6 L1475.8 2020.6 L1476.5 2020.7 L1477.2 2020.8 L1478 2020.9 L1478.8 2021.6 L1479.5 2021.8 L1480.2 2021.6 L1481 2021.9 L1481.8 2022 L1482.5 2021.3 L1483.2 2021.3 L1484 2021.4 L1484.8 2021 L1485.5 2022.1 L1486.2 2022.6 L1487 2022 L1487.8 2021.9 L1488.5 2021.9 L1489.2 2021.4 L1490 2021.6 L1490.8 2021.4 L1491.5 2021.7 L1492.2 2021.9 L1493 2021.4 L1493.8 2020.9 L1494.5 2021.3 L1495.2 2021.1 L1496 2020.1 L1496.8 2019.4 L1497.5 2020.2 L1498.2 2022.6 L1499 2022.3 L1499.8 2023.3 L1500.5 2023.2 L1501.2 2022.7 L1502 2022.9 L1502.8 2022.9 L1503.5 2023.5 L1504.2 2023.4 L1505 2022.7 L1505.8 2023.2 L1506.5 2024.2 L1507.2 2022.6 L1508 2022.7 L1508.8 2023.4 L1509.5 2023.2 L1510.2 2022.3 L1511 2022.7 L1511.8 2023.2 L1512.5 2022.8 L1513.2 2023.9 L1514 2025 L1514.8 2026.3 L1515.5 2026.2 L1516.2 2025.6 L1517 2025 L1517.8 2024.7 L1518.5 2025.4 L1519.2 2025.8 L1520 2025.2 L1520.8 2023 L1521.5 2022.8 L1522.2 2022.7 L1523 2022 L1523.8 2021.7 L1524.5 2021.9 L1525.2 2021.6 L1526 2021.1 L1526.8 2021.7 L1527.5 2022.1 L1528.2 2021.9 L1529 2022.3 L1529.8 2022.4 L1530.5 2021.7 L1531.2 2020.8 L1532 2020.9 L1532.8 2021.9 L1533.5 2024.5 L1534.2 2024.4 L1535 2024.3 L1535.8 2024.6 L1536.5 2022.8 L1537.2 2022.5 L1538 2023.1 L1538.8 2024.3 L1539.5 2024.1 L1540.2 2024.2 L1541 2024.4 L1541.8 2024.5 L1542.5 2024.1 L1543.2 2024.4 L1544 2024.9 L1544.8 2025.8 L1545.5 2026.2 L1546.2 2027 L1547 2026.3 L1547.8 2025.2 L1548.5 2024.2 L1549.2 2023.7 L1550 2022.9 L1550.8 2023.1 L1551.5 2022.8 L1552.2 2022.6 L1553 2022.4 L1553.8 2022.6 L1554.5 2022.1 L1555.2 2022.8 L1556 2022.6 L1556.8 2023.2 L1557.5 2023.3 L1558.2 2023.9 L1559 2023.6 L1559.8 2024.2 L1560.5 2023.6 L1561.2 2023.2 L1562 2022.2 L1562.8 2021.2 L1563.5 2020.1 L1564.2 2020.5 L1565 2020.3 L1565.8 2021.2 L1566.5 2023.3 L1567.2 2024.5 L1568 2025.8 L1568.8 2026.7 L1569.5 2026.4 L1570.2 2025 L1571 2023.6 L1571.8 2021.7 L1572.5 2020.5 L1573.2 2020.5 L1574 2020.9 L1574.8 2021.4 L1575.5 2021.8 L1576.2 2022 L1577 2022.4 L1577.8 2021.8 L1578.5 2021.5 L1579.2 2025.1 L1580 2025.2 L1580.8 2024.7 L1581.5 2025 L1582.2 2026.4 L1583 2026.2 L1583.8 2025 L1584.5 2024.3 L1585.2 2024.3 L1586 2023.3 L1586.8 2023.2 L1587.5 2024.6 L1588.2 2024.1 L1589 2023.8 L1589.8 2023.3 L1590.5 2022.9 L1591.2 2023 L1592 2024 L1592.8 2023.7 L1593.5 2024 L1594.2 2024.4 L1595 2023.7 L1595.8 2023.6 L1596.5 2024 L1597.2 2023.9 L1598 2024.1 L1598.8 2023.8 L1599.5 2023.7 L1600.2 2022.9 L1601 2022.2 L1601.8 2021.6 L1602.5 2021.9 L1603.2 2021.9 L1604 2022.8 L1604.8 2023.3 L1605.5 2023 L1606.2 2023.3 L1607 2023.1 L1607.8 2022.6 L1608.5 2023 L1609.2 2023.7 L1610 2022.9 L1610.8 2022.9 L1611.5 2022.4 L1612.2 2021.3 L1613 2021.3 L1613.8 2021.3 L1614.5 2020.8 L1615.2 2020.8 L1616 2021.5 L1616.8 2021.6 L1617.5 2021.4 L1618.2 2021.4 L1619 2022.5 L1619.8 2022.9 L1620.5 2022.5 L1621.2 2023 L1622 2023.9 L1622.8 2022.8 L1623.5 2022.5 L1624.2 2022.4 L1625 2021.7 L1625.8 2020.8 L1626.5 2021.3 L1627.2 2020.8 L1628 2020.9 L1628.8 2021.1 L1629.5 2021.9 L1630.2 2022.1 L1631 2022.2 L1631.8 2022.1 L1632.5 2022.6 L1633.2 2021.1 L1634 2021 L1634.8 2021.1 L1635.5 2021 L1636.2 2021.4 L1637 2022.6 L1637.8 2022 L1638.5 2022.7 L1639.2 2022.4 L1640 2022.8 L1640.8 2022 L1641.5 2021.7 L1642.2 2020.9 L1643 2020.3 L1643.8 2019.6 L1644.5 2020 L1645.2 2020.7 L1646 2021.1 L1646.8 2022.4 L1647.5 2022.8 L1648.2 2025.5 L1649 2025.9 L1649.8 2025.4 L1650.5 2024.7 L1651.2 2023.9 L1652 2023.7 L1652.8 2023.1 L1653.5 2023.2 L1654.2 2023.2 L1655 2023.1 L1655.8 2023.7 L1656.5 2023.6 L1657.2 2023.3 L1658 2023.3 L1658.8 2023 L1659.5 2022.2 L1660.2 2021.6 L1661 2022.6 L1661.8 2022.6 L1662.5 2023.7 L1663.2 2023.8 L1664 2024.4 L1664.8 2022.9 L1665.5 2023.1 L1666.2 2022.7 L1667 2021.8 L1667.8 2021.8 L1668.5 2023 L1669.2 2022.3 L1670 2021.2 L1670.8 2022.5 L1671.5 2022.2 L1672.2 2021.1 L1673 2021.7 L1673.8 2023.2 L1674.5 2023.3 L1675.2 2023.6 L1676 2023.7 L1676.8 2023.1 L1677.5 2022 L1678.2 2021.7 L1679 2021.2 L1679.8 2022.1 L1680.5 2023.4 L1681.2 2023.3 L1682 2022.6 L1682.8 2023.2 L1683.5 2022.7 L1684.2 2022.1 L1685 2022.8 L1685.8 2023.6 L1686.5 2023.2 L1687.2 2023.2 L1688 2022.5 L1688.8 2022.3 L1689.5 2022.9 L1690.2 2023.5 L1691 2023.6 L1691.8 2024.3 L1692.5 2024.2 L1693.2 2023.2 L1694 2022.9 L1694.8 2023.2 L1695.5 2023.1 L1696.2 2022.4 L1697 2022.6 L1697.8 2021.8 L1698.5 2021.2 L1699.2 2020.5 L1700 2021.3 L1700.8 2020.3 L1701.5 2020.8 L1702.2 2021.3 L1703 2021.9 L1703.8 2021.8 L1704.5 2023.1 L1705.2 2023.1 L1706 2022.5 L1706.8 2022.9 L1707.5 2022.3 L1708.2 2021.1 L1709 2021.1 L1709.8 2020.8 L1710.5 2020.1 L1711.2 2020.8 L1712 2021.8 L1712.8 2021.7 L1713.5 2021.8 L1714.2 2021.4 L1715 2020.8 L1715.8 2020.7 L1716.5 2020.8 L1717.2 2020.7 L1718 2021.5 L1718.8 2021.1 L1719.5 2021 L1720.2 2021.2 L1721 2020.9 L1721.8 2020.5 L1722.5 2020.6 L1723.2 2019.9 L1724 2020 L1724.8 2020.7 L1725.5 2020.6 L1726.2 2021.4 L1727 2022.8 L1727.8 2022.6 L1728.5 2022.6 L1729.2 2022.5 L1730 2022.1 L1730.8 2021.3 L1731.5 2021.9 L1732.2 2021.8 L1733 2021.2 L1733.8 2021.2 L1734.5 2021.1 L1735.2 2020.1 L1736 2019.8 L1736.8 2019.9 L1737.5 2019.7 L1738.2 2019.1 L1739 2019.5 L1739.8 2019.1 L1740.5 2019.8 L1741.2 2019.8 L1742 2020.8 L1742.8 2020.2 L1743.5 2022 L1744.2 2022.2 L1745 2022 L1745.8 2021.7 L1746.5 2021.3 L1747.2 2020.3 L1748 2019.4 L1748.8 2019.6 L1749.5 2019.6 L1750.2 2019.9 L1751 2019.3 L1751.8 2020.3 L1752.5 2020.5 L1753.2 2019.9 L1754 2020.2 L1754.8 2020.3 L1755.5 2020 L1756.2 2019.3 L1757 2019 L1757.8 2018.6 L1758.5 2018.4 L1759.2 2018.1 L1760 2018.4 L1760.8 2019.1 L1761.5 2018.8 L1762.2 2019.6 L1763 2019.7 L1763.8 2020.9 L1764.5 2020.4 L1765.2 2020.7 L1766 2019.8 L1766.8 2019.3 L1767.5 2018.5 L1768.2 2018.7 L1769 2019.5 L1769.8 2019.5 L1770.5 2022.4 L1771.2 2021.5 L1772 2022.4 L1772.8 2021.9 L1773.5 2022.4 L1774.2 2023.1 L1775 2023.8 L1775.8 2023.1 L1776.5 2023.6 L1777.2 2023.9 L1778 2023.6 L1778.8 2023 L1779.5 2023.1 L1780.2 2022.4 L1781 2021.7 L1781.8 2021.7 L1782.5 2021.9 L1783.2 2022 L1784 2022.4 L1784.8 2023.1 L1785.5 2022.4 L1786.2 2023 L1787 2022.8 L1787.8 2023 L1788.5 2022.2 L1789.2 2022.4 L1790 2021.7 L1790.8 2021.6 L1791.5 2021.2 L1792.2 2021.5 L1793 2021.5 L1793.8 2021.1 L1794.5 2021.7 L1795.2 2021.8 L1796 2021.4 L1796.8 2022 L1797.5 2022.5 L1798.2 2021.7 L1799 2021.8 L1799.8 2021.4 L1800.5 2021.4 L1801.2 2021.5 L1802 2021.6 L1802.8 2021.7 L1803.5 2021.3 L1804.2 2020.8 L1805 2020.7 L1805.8 2020.3 L1806.5 2019.4 L1807.2 2020.1 L1808 2023.2 L1808.8 2023.2 L1809.5 2023.2 L1810.2 2023.8 L1811 2024.6 L1811.8 2024.4 L1812.5 2024 L1813.2 2024.2 L1814 2024.4 L1814.8 2023.4 L1815.5 2024.1 L1816.2 2024 L1817 2023.6 L1817.8 2023.4 L1818.5 2024 L1819.2 2023.6 L1820 2024.1 L1820.8 2024.5 L1821.5 2024 L1822.2 2023.1 L1823 2022.6 L1823.8 2022.2 L1824.5 2022.3 L1825.2 2022.2 L1826 2022.6 L1826.8 2022.5 L1827.5 2023 L1828.2 2022.3 L1829 2022.1 L1829.8 2021.8 L1830.5 2022.3 L1831.2 2021.3 L1832 2021.5 L1832.8 2022.3 L1833.5 2022.5 L1834.2 2022.1 L1835 2025.8 L1835.8 2025.9 L1836.5 2025.3 L1837.2 2025.2 L1838 2025.6 L1838.8 2026.1 L1839.5 2026.1 L1840.2 2026.3 L1841 2026.7 L1841.8 2027.3 L1842.5 2026.4 L1843.2 2026.4 L1844 2026.9 L1844.8 2026.1 L1845.5 2025.3 L1846.2 2025 L1847 2024.5 L1847.8 2023.4 L1848.5 2023.1 L1849.2 2022.7 L1850 2023.1 L1850.8 2023 L1851.5 2023.4 L1852.2 2024.2 L1853 2024.3 L1853.8 2024.1 L1854.5 2024.2 L1855.2 2024.2 L1856 2024.2 L1856.8 2024.1 L1857.5 2024.4 L1858.2 2024.6 L1859 2024.9 L1859.8 2025.5 L1860.5 2026 L1861.2 2025.9 L1862 2025.1 L1862.8 2024.2 L1863.5 2023.6" fill="none" stroke="#10a810" stroke-width="7.5" stroke-linejoin="round"/>
<path d="M162.5 2019.8 L164 2019.8 L165.5 2019.8 L167 2019.8 L168.5 2019.8 L170 2019.8 L171.5 2019.8 L173 2019.8 L174.5 2019.8 L176 2019.8 L177.5 2019.8 L179 2019.8 L180.5 2019.8 L182 2019.8 L183.5 2019.8 L185 2019.8 L186.5 2019.8 L188 2019.8 L189.5 2019.8 L191 2019.8 L192.5 2019.8 L194 2019.8 L195.5 2019.8 L197 2019.8 L198.5 2019.8 L200 2019.8 L201.5 2019.8 L203 2019.8 L204.5 2019.8 L206 2019.8 L207.5 2019.8 L209 2019.8 L210.5 2019.8 L212 2019.8 L213.5 2019.8 L215 2019.8 L216.5 2019.8 L218 2019.8 L219.5 2019.8 L221 2019.8 L222.5 2019.8 L224 2019.8 L225.5 2019.8 L227 2019.8 L228.5 2019.8 L230 2019.8 L231.5 2019.8 L233 2019.8 L234.5 2019.8 L236 2019.8 L237.5 2019.8 L239 2019.8 L240.5 2019.8 L242 2019.8 L243.5 2019.8 L245 2019.8 L246.5 2019.8 L248 2019.8 L249.5 2019.8 L251 2019.8 L252.5 2019.8 L254 2019.8 L255.5 2019.8 L257 2019.8 L258.5 2019.8 L260 2019.8 L261.5 2019.8 L263 2019.8 L264.5 2019.8 L266 2019.8 L267.5 2019.8 L269 2019.8 L270.5 2019.8 L272 2019.8 L273.5 2019.7 L275 2019.7 L276.5 2019.7 L278 2019.7 L279.5 2019.6 L281 2019.5 L282.5 2019.5 L284 2019.4 L285.5 2019.2 L287 2019 L288.5 2018.8 L290 2018.4 L291.5 2018 L293 2017.5 L294.5 2016.7 L296 2015.8 L297.5 2014.5 L299 2013 L300.5 2011 L302 2008.6 L303.5 2005.7 L305 2002.2 L306.5 1998.1 L308 1993.6 L309.5 1988.7 L311 1983.6 L312.5 1978.5 L314 1973.6 L315.5 1969.1 L317 1965 L318.5 1961.5 L320 1958.6 L321.5 1956.2 L323 1954.2 L324.5 1952.7 L326 1951.4 L327.5 1950.5 L329 1949.7 L330.5 1949.2 L332 1948.8 L333.5 1948.4 L335 1948.2 L336.5 1948 L338 1947.8 L339.5 1947.7 L341 1947.7 L342.5 1947.6 L344 1947.5 L345.5 1947.5 L347 1947.5 L348.5 1947.5 L350 1947.4 L351.5 1947.4 L353 1947.4 L354.5 1947.4 L356 1947.4 L357.5 1947.4 L359 1947.4 L360.5 1947.4 L362 1947.4 L363.5 1947.4 L365 1947.4 L366.5 1947.4 L368 1947.4 L369.5 1947.4 L371 1947.4 L372.5 1947.4 L374 1947.4 L375.5 1947.4 L377 1947.4 L378.5 1947.4 L380 1947.4 L381.5 1947.4 L383 1947.4 L384.5 1947.4 L386 1947.4 L387.5 1947.4 L389 1947.4 L390.5 1947.4 L392 1947.4 L393.5 1947.4 L395 1947.4 L396.5 1947.4 L398 1947.4 L399.5 1947.4 L401 1947.4 L402.5 1947.4 L404 1947.4 L405.5 1947.4 L407 1947.4 L408.5 1947.4 L410 1947.4 L411.5 1947.4 L413 1947.4 L414.5 1947.4 L416 1947.4 L417.5 1947.4 L419 1947.4 L420.5 1947.4 L422 1947.4 L423.5 1947.4 L425 1947.4 L426.5 1947.4 L428 1947.4 L429.5 1947.4 L431 1947.4 L432.5 1947.4 L434 1947.4 L435.5 1947.4 L437 1947.4 L438.5 1947.4 L440 1947.4 L441.5 1947.4 L443 1947.4 L444.5 1947.4 L446 1947.4 L447.5 1947.4 L449 1947.4 L450.5 1947.4 L452 1947.4 L453.5 1947.4 L455 1947.4 L456.5 1947.4 L458 1947.4 L459.5 1947.4 L461 1947.4 L462.5 1947.4 L464 1947.4 L465.5 1947.4 L467 1947.4 L468.5 1947.4 L470 1947.4 L471.5 1947.4 L473 1947.4 L474.5 1947.4 L476 1947.4 L477.5 1947.4 L479 1947.4 L480.5 1947.4 L482 1947.4 L483.5 1947.4 L485 1947.4 L486.5 1947.4 L488 1947.4 L489.5 1947.4 L491 1947.4 L492.5 1947.4 L494 1947.3 L495.5 1947.3 L497 1947.3 L498.5 1947.3 L500 1947.2 L501.5 1947.2 L503 1947.1 L504.5 1947 L506 1946.9 L507.5 1946.7 L509 1946.5 L510.5 1946.2 L512 1945.8 L513.5 1945.3 L515 1944.7 L516.5 1943.8 L518 1942.7 L519.5 1941.3 L521 1939.6 L522.5 1937.3 L524 1934.7 L525.5 1931.4 L527 1927.7 L528.5 1923.4 L530 1918.8 L531.5 1913.9 L533 1908.9 L534.5 1904 L536 1899.5 L537.5 1895.4 L539 1891.8 L540.5 1888.8 L542 1886.3 L543.5 1884.2 L545 1882.6 L546.5 1881.3 L548 1880.3 L549.5 1879.5 L551 1878.9 L552.5 1878.4 L554 1878.1 L555.5 1877.8 L557 1877.6 L558.5 1877.5 L560 1877.4 L561.5 1877.3 L563 1877.2 L564.5 1877.2 L566 1877.1 L567.5 1877.1 L569 1877.1 L570.5 1877 L572 1877 L573.5 1877 L575 1877 L576.5 1877 L578 1877 L579.5 1877 L581 1877 L582.5 1877 L584 1877 L585.5 1877 L587 1877 L588.5 1877 L590 1877 L591.5 1877 L593 1877 L594.5 1877 L596 1877 L597.5 1877 L599 1877 L600.5 1877 L602 1877 L603.5 1877 L605 1877 L606.5 1877 L608 1877 L609.5 1877 L611 1877 L612.5 1877 L614 1877 L615.5 1877 L617 1877 L618.5 1877 L620 1877 L621.5 1877 L623 1877 L624.5 1877 L626 1877 L627.5 1877 L629 1877 L630.5 1877 L632 1877 L633.5 1877 L635 1877 L636.5 1877 L638 1877 L639.5 1877 L641 1877 L642.5 1877 L644 1877 L645.5 1877 L647 1877 L648.5 1877 L650 1877 L651.5 1877 L653 1877 L654.5 1877 L656 1877 L657.5 1877 L659 1877 L660.5 1877 L662 1877 L663.5 1877 L665 1877 L666.5 1877 L668 1877 L669.5 1877 L671 1877 L672.5 1877 L674 1877 L675.5 1877 L677 1877 L678.5 1877 L680 1877 L681.5 1877 L683 1877 L684.5 1877 L686 1877 L687.5 1877 L689 1877 L690.5 1877 L692 1877 L693.5 1877 L695 1877 L696.5 1877 L698 1877 L699.5 1877 L701 1877 L702.5 1877 L704 1877 L705.5 1877 L707 1877 L708.5 1877 L710 1877 L711.5 1877 L713 1877 L714.5 1877 L716 1877 L717.5 1877 L719 1877 L720.5 1877 L722 1877 L723.5 1877 L725 1877 L726.5 1877 L728 1877 L729.5 1877 L731 1877 L732.5 1877 L734 1877 L735.5 1877 L737 1877 L738.5 1877 L740 1877 L741.5 1877 L743 1877 L744.5 1877 L746 1877 L747.5 1877 L749 1877 L750.5 1877 L752 1877 L753.5 1877 L755 1877 L756.5 1877 L758 1877 L759.5 1877 L761 1877 L762.5 1877 L764 1877 L765.5 1877 L767 1877 L768.5 1877 L770 1877 L771.5 1877 L773 1877 L774.5 1877 L776 1877 L777.5 1877 L779 1877 L780.5 1877 L782 1877 L783.5 1877 L785 1877 L786.5 1877 L788 1877 L789.5 1877 L791 1877 L792.5 1877 L794 1877 L795.5 1877 L797 1877 L798.5 1877 L800 1877 L801.5 1877 L803 1877 L804.5 1877 L806 1877 L807.5 1877 L809 1877 L810.5 1877 L812 1877 L813.5 1877 L815 1877 L816.5 1877 L818 1877 L819.5 1877 L821 1877 L822.5 1877 L824 1877 L825.5 1877 L827 1877 L828.5 1877 L830 1877 L831.5 1877 L833 1877 L834.5 1877 L836 1877 L837.5 1877 L839 1877 L840.5 1877 L842 1877 L843.5 1877 L845 1877 L846.5 1877 L848 1877 L849.5 1877 L851 1877 L852.5 1877 L854 1877 L855.5 1877 L857 1877 L858.5 1877 L860 1877 L861.5 1877 L863 1877 L864.5 1877 L866 1877 L867.5 1877.1 L869 1877.1 L870.5 1877.1 L872 1877.1 L873.5 1877.2 L875 1877.2 L876.5 1877.3 L878 1877.4 L879.5 1877.5 L881 1877.7 L882.5 1877.9 L884 1878.1 L885.5 1878.5 L887 1878.9 L888.5 1879.5 L890 1880.2 L891.5 1881 L893 1882.1 L894.5 1883.3 L896 1884.9 L897.5 1886.6 L899 1888.6 L900.5 1890.8 L902 1893.1 L903.5 1895.4 L905 1897.8 L906.5 1900 L908 1902 L909.5 1903.9 L911 1905.5 L912.5 1906.8 L914 1908 L915.5 1908.9 L917 1909.6 L918.5 1910.2 L920 1910.7 L921.5 1911 L923 1911.3 L924.5 1911.6 L926 1911.7 L927.5 1911.9 L929 1912 L930.5 1912 L932 1912.1 L933.5 1912.1 L935 1912.2 L936.5 1912.2 L938 1912.2 L939.5 1912.2 L941 1912.3 L942.5 1912.3 L944 1912.3 L945.5 1912.3 L947 1912.3 L948.5 1912.3 L950 1912.3 L951.5 1912.3 L953 1912.3 L954.5 1912.3 L956 1912.3 L957.5 1912.3 L959 1912.3 L960.5 1912.3 L962 1912.3 L963.5 1912.3 L965 1912.3 L966.5 1912.3 L968 1912.3 L969.5 1912.3 L971 1912.3 L972.5 1912.3 L974 1912.3 L975.5 1912.3 L977 1912.3 L978.5 1912.3 L980 1912.3 L981.5 1912.3 L983 1912.3 L984.5 1912.3 L986 1912.3 L987.5 1912.3 L989 1912.3 L990.5 1912.3 L992 1912.3 L993.5 1912.3 L995 1912.3 L996.5 1912.3 L998 1912.3 L999.5 1912.3 L1001 1912.3 L1002.5 1912.3 L1004 1912.3 L1005.5 1912.3 L1007 1912.3 L1008.5 1912.3 L1010 1912.3 L1011.5 1912.3 L1013 1912.3 L1014.5 1912.3 L1016 1912.3 L1017.5 1912.3 L1019 1912.3 L1020.5 1912.3 L1022 1912.3 L1023.5 1912.3 L1025 1912.3 L1026.5 1912.3 L1028 1912.3 L1029.5 1912.3 L1031 1912.3 L1032.5 1912.3 L1034 1912.3 L1035.5 1912.3 L1037 1912.3 L1038.5 1912.3 L1040 1912.3 L1041.5 1912.3 L1043 1912.3 L1044.5 1912.3 L1046 1912.3 L1047.5 1912.3 L1049 1912.3 L1050.5 1912.3 L1052 1912.3 L1053.5 1912.3 L1055 1912.3 L1056.5 1912.3 L1058 1912.3 L1059.5 1912.3 L1061 1912.3 L1062.5 1912.3 L1064 1912.3 L1065.5 1912.3 L1067 1912.3 L1068.5 1912.3 L1070 1912.3 L1071.5 1912.3 L1073 1912.3 L1074.5 1912.3 L1076 1912.3 L1077.5 1912.3 L1079 1912.3 L1080.5 1912.3 L1082 1912.3 L1083.5 1912.3 L1085 1912.3 L1086.5 1912.3 L1088 1912.3 L1089.5 1912.3 L1091 1912.3 L1092.5 1912.3 L1094 1912.3 L1095.5 1912.3 L1097 1912.3 L1098.5 1912.3 L1100 1912.3 L1101.5 1912.3 L1103 1912.3 L1104.5 1912.3 L1106 1912.3 L1107.5 1912.3 L1109 1912.3 L1110.5 1912.3 L1112 1912.3 L1113.5 1912.3 L1115 1912.3 L1116.5 1912.3 L1118 1912.3 L1119.5 1912.3 L1121 1912.3 L1122.5 1912.3 L1124 1912.3 L1125.5 1912.3 L1127 1912.3 L1128.5 1912.3 L1130 1912.3 L1131.5 1912.3 L1133 1912.3 L1134.5 1912.3 L1136 1912.3 L1137.5 1912.3 L1139 1912.3 L1140.5 1912.3 L1142 1912.3 L1143.5 1912.3 L1145 1912.3 L1146.5 1912.3 L1148 1912.3 L1149.5 1912.3 L1151 1912.3 L1152.5 1912.3 L1154 1912.3 L1155.5 1912.3 L1157 1912.3 L1158.5 1912.3 L1160 1912.3 L1161.5 1912.3 L1163 1912.3 L1164.5 1912.3 L1166 1912.3 L1167.5 1912.3 L1169 1912.3 L1170.5 1912.3 L1172 1912.3 L1173.5 1912.3 L1175 1912.3 L1176.5 1912.3 L1178 1912.3 L1179.5 1912.3 L1181 1912.3 L1182.5 1912.3 L1184 1912.3 L1185.5 1912.3 L1187 1912.3 L1188.5 1912.3 L1190 1912.3 L1191.5 1912.3 L1193 1912.3 L1194.5 1912.3 L1196 1912.3 L1197.5 1912.3 L1199 1912.3 L1200.5 1912.3 L1202 1912.3 L1203.5 1912.3 L1205 1912.3 L1206.5 1912.3 L1208 1912.3 L1209.5 1912.3 L1211 1912.3 L1212.5 1912.3 L1214 1912.3 L1215.5 1912.3 L1217 1912.3 L1218.5 1912.3 L1220 1912.3 L1221.5 1912.3 L1223 1912.3 L1224.5 1912.3 L1226 1912.3 L1227.5 1912.3 L1229 1912.3 L1230.5 1912.3 L1232 1912.3 L1233.5 1912.3 L1235 1912.3 L1236.5 1912.3 L1238 1912.3 L1239.5 1912.3 L1241 1912.3 L1242.5 1912.3 L1244 1912.3 L1245.5 1912.3 L1247 1912.3 L1248.5 1912.3 L1250 1912.3 L1251.5 1912.3 L1253 1912.3 L1254.5 1912.3 L1256 1912.3 L1257.5 1912.3 L1259 1912.3 L1260.5 1912.3 L1262 1912.3 L1263.5 1912.3 L1265 1912.3 L1266.5 1912.3 L1268 1912.3 L1269.5 1912.3 L1271 1912.3 L1272.5 1912.3 L1274 1912.3 L1275.5 1912.3 L1277 1912.3 L1278.5 1912.3 L1280 1912.3 L1281.5 1912.3 L1283 1912.3 L1284.5 1912.3 L1286 1912.3 L1287.5 1912.3 L1289 1912.3 L1290.5 1912.3 L1292 1912.3 L1293.5 1912.3 L1295 1912.3 L1296.5 1912.3 L1298 1912.3 L1299.5 1912.3 L1301 1912.3 L1302.5 1912.3 L1304 1912.3 L1305.5 1912.3 L1307 1912.3 L1308.5 1912.3 L1310 1912.3 L1311.5 1912.3 L1313 1912.3 L1314.5 1912.3 L1316 1912.3 L1317.5 1912.3 L1319 1912.3 L1320.5 1912.3 L1322 1912.3 L1323.5 1912.3 L1325 1912.3 L1326.5 1912.3 L1328 1912.3 L1329.5 1912.3 L1331 1912.3 L1332.5 1912.3 L1334 1912.3 L1335.5 1912.3 L1337 1912.3 L1338.5 1912.3 L1340 1912.3 L1341.5 1912.3 L1343 1912.3 L1344.5 1912.3 L1346 1912.3 L1347.5 1912.3 L1349 1912.3 L1350.5 1912.3 L1352 1912.3 L1353.5 1912.3 L1355 1912.3 L1356.5 1912.3 L1358 1912.3 L1359.5 1912.3 L1361 1912.3 L1362.5 1912.3 L1364 1912.3 L1365.5 1912.3 L1367 1912.3 L1368.5 1912.3 L1370 1912.3 L1371.5 1912.3 L1373 1912.3 L1374.5 1912.3 L1376 1912.3 L1377.5 1912.3 L1379 1912.3 L1380.5 1912.3 L1382 1912.3 L1383.5 1912.3 L1385 1912.3 L1386.5 1912.3 L1388 1912.3 L1389.5 1912.3 L1391 1912.3 L1392.5 1912.3 L1394 1912.3 L1395.5 1912.3 L1397 1912.3 L1398.5 1912.3 L1400 1912.3 L1401.5 1912.3 L1403 1912.3 L1404.5 1912.3 L1406 1912.3 L1407.5 1912.3 L1409 1912.3 L1410.5 1912.3 L1412 1912.3 L1413.5 1912.3 L1415 1912.3 L1416.5 1912.3 L1418 1912.3 L1419.5 1912.3 L1421 1912.3 L1422.5 1912.3 L1424 1912.3 L1425.5 1912.3 L1427 1912.3 L1428.5 1912.3 L1430 1912.3 L1431.5 1912.3 L1433 1912.3 L1434.5 1912.3 L1436 1912.3 L1437.5 1912.3 L1439 1912.3 L1440.5 1912.3 L1442 1912.3 L1443.5 1912.3 L1445 1912.3 L1446.5 1912.3 L1448 1912.3 L1449.5 1912.3 L1451 1912.3 L1452.5 1912.3 L1454 1912.3 L1455.5 1912.3 L1457 1912.3 L1458.5 1912.3 L1460 1912.3 L1461.5 1912.3 L1463 1912.3 L1464.5 1912.3 L1466 1912.3 L1467.5 1912.3 L1469 1912.3 L1470.5 1912.3 L1472 1912.3 L1473.5 1912.3 L1475 1912.3 L1476.5 1912.3 L1478 1912.3 L1479.5 1912.3 L1481 1912.3 L1482.5 1912.3 L1484 1912.3 L1485.5 1912.3 L1487 1912.3 L1488.5 1912.3 L1490 1912.3 L1491.5 1912.3 L1493 1912.3 L1494.5 1912.3 L1496 1912.3 L1497.5 1912.3 L1499 1912.3 L1500.5 1912.3 L1502 1912.3 L1503.5 1912.3 L1505 1912.3 L1506.5 1912.3 L1508 1912.3 L1509.5 1912.3 L1511 1912.3 L1512.5 1912.3 L1514 1912.3 L1515.5 1912.3 L1517 1912.3 L1518.5 1912.3 L1520 1912.3 L1521.5 1912.3 L1523 1912.3 L1524.5 1912.3 L1526 1912.3 L1527.5 1912.3 L1529 1912.3 L1530.5 1912.3 L1532 1912.3 L1533.5 1912.3 L1535 1912.3 L1536.5 1912.3 L1538 1912.3 L1539.5 1912.3 L1541 1912.3 L1542.5 1912.3 L1544 1912.3 L1545.5 1912.3 L1547 1912.3 L1548.5 1912.3 L1550 1912.3 L1551.5 1912.3 L1553 1912.3 L1554.5 1912.3 L1556 1912.3 L1557.5 1912.3 L1559 1912.3 L1560.5 1912.3 L1562 1912.3 L1563.5 1912.3 L1565 1912.3 L1566.5 1912.3 L1568 1912.3 L1569.5 1912.3 L1571 1912.3 L1572.5 1912.3 L1574 1912.3 L1575.5 1912.3 L1577 1912.3 L1578.5 1912.3 L1580 1912.3 L1581.5 1912.3 L1583 1912.3 L1584.5 1912.3 L1586 1912.3 L1587.5 1912.3 L1589 1912.3 L1590.5 1912.3 L1592 1912.3 L1593.5 1912.3 L1595 1912.3 L1596.5 1912.3 L1598 1912.3 L1599.5 1912.3 L1601 1912.3 L1602.5 1912.3 L1604 1912.3 L1605.5 1912.3 L1607 1912.3 L1608.5 1912.3 L1610 1912.3 L1611.5 1912.3 L1613 1912.3 L1614.5 1912.3 L1616 1912.3 L1617.5 1912.3 L1619 1912.3 L1620.5 1912.3 L1622 1912.3 L1623.5 1912.3 L1625 1912.3 L1626.5 1912.3 L1628 1912.3 L1629.5 1912.3 L1631 1912.3 L1632.5 1912.3 L1634 1912.3 L1635.5 1912.3 L1637 1912.3 L1638.5 1912.3 L1640 1912.3 L1641.5 1912.3 L1643 1912.3 L1644.5 1912.3 L1646 1912.3 L1647.5 1912.3 L1649 1912.3 L1650.5 1912.3 L1652 1912.3 L1653.5 1912.3 L1655 1912.3 L1656.5 1912.3 L1658 1912.3 L1659.5 1912.3 L1661 1912.3 L1662.5 1912.3 L1664 1912.3 L1665.5 1912.3 L1667 1912.3 L1668.5 1912.3 L1670 1912.3 L1671.5 1912.3 L1673 1912.3 L1674.5 1912.3 L1676 1912.3 L1677.5 1912.3 L1679 1912.3 L1680.5 1912.3 L1682 1912.3 L1683.5 1912.3 L1685 1912.3 L1686.5 1912.3 L1688 1912.3 L1689.5 1912.3 L1691 1912.3 L1692.5 1912.3 L1694 1912.3 L1695.5 1912.3 L1697 1912.3 L1698.5 1912.3 L1700 1912.3 L1701.5 1912.3 L1703 1912.3 L1704.5 1912.3 L1706 1912.3 L1707.5 1912.3 L1709 1912.3 L1710.5 1912.3 L1712 1912.3 L1713.5 1912.3 L1715 1912.3 L1716.5 1912.3 L1718 1912.3 L1719.5 1912.3 L1721 1912.3 L1722.5 1912.3 L1724 1912.3 L1725.5 1912.3 L1727 1912.3 L1728.5 1912.3 L1730 1912.3 L1731.5 1912.3 L1733 1912.3 L1734.5 1912.3 L1736 1912.3 L1737.5 1912.3 L1739 1912.3 L1740.5 1912.3 L1742 1912.3 L1743.5 1912.3 L1745 1912.3 L1746.5 1912.3 L1748 1912.3 L1749.5 1912.3 L1751 1912.3 L1752.5 1912.3 L1754 1912.3 L1755.5 1912.3 L1757 1912.3 L1758.5 1912.3 L1760 1912.3 L1761.5 1912.3 L1763 1912.3 L1764.5 1912.3 L1766 1912.3 L1767.5 1912.3 L1769 1912.3 L1770.5 1912.3 L1772 1912.3 L1773.5 1912.3 L1775 1912.3 L1776.5 1912.3 L1778 1912.3 L1779.5 1912.3 L1781 1912.3 L1782.5 1912.3 L1784 1912.3 L1785.5 1912.3 L1787 1912.3 L1788.5 1912.3 L1790 1912.3 L1791.5 1912.3 L1793 1912.3 L1794.5 1912.3 L1796 1912.3 L1797.5 1912.3 L1799 1912.3 L1800.5 1912.3 L1802 1912.3 L1803.5 1912.3 L1805 1912.3 L1806.5 1912.3 L1808 1912.3 L1809.5 1912.3 L1811 1912.3 L1812.5 1912.3 L1814 1912.3 L1815.5 1912.3 L1817 1912.3 L1818.5 1912.3 L1820 1912.3 L1821.5 1912.3 L1823 1912.3 L1824.5 1912.3 L1826 1912.3 L1827.5 1912.3 L1829 1912.3 L1830.5 1912.3 L1832 1912.3 L1833.5 1912.3 L1835 1912.3 L1836.5 1912.3 L1838 1912.3 L1839.5 1912.3 L1841 1912.3 L1842.5 1912.3 L1844 1912.3 L1845.5 1912.3 L1847 1912.3 L1848.5 1912.3 L1850 1912.3 L1851.5 1912.3 L1853 1912.3 L1854.5 1912.3 L1856 1912.3 L1857.5 1912.3 L1859 1912.3 L1860.5 1912.3 L1862 1912.3 L1863.5 1912.3 L1864 1912.3" fill="none" stroke="#aef01e" stroke-width="4.2"/>
<rect x="513.9" y="2004" width="18.5" height="30.9" fill="none" stroke="#000" stroke-width="1.6"/>
<path d="M532.4 2004 L631 1945.5" stroke="#000" stroke-width="1.6"/>
<path d="M622.5 1897.2 H808.7 M622.5 1982.5 H808.7 M631 1897.2 V1982.5 M800.8 1897.2 V1982.5 M622.5 1939.5 H631 M800.8 1939.5 H808.7" stroke="#000" stroke-width="1.6" fill="none"/>
<text x="612.9" y="1950.5" font-size="30.5" fill="#000" text-anchor="end">0</text>
<path d="M631 1958.6 L645 1934.3 L645 1975 L652 1970 L670.8 1935.2 L670.8 1975.4 L691.8 1933 L692.3 1973.5 L707.1 1936 L707.7 1977.3 L722.3 1933.3 L722.6 1973 L734.2 1934.8 L734.8 1974.5 L747 1928.3 L747.3 1969.2 L758.2 1924.3 L758.7 1964.2 L768.8 1927.1 L769.4 1967 L778.8 1927.7 L779.3 1967.4 L788.1 1927.3 L789 1967.4 L797.5 1929.6 L798 1982.5" fill="none" stroke="#14a814" stroke-width="1.5"/>
<path d="M1661.5 2159.9 H1845.4" stroke="#000" stroke-width="2.7"/><path d="M1661.5 2147.6 V2172.8 M1845.4 2147.6 V2172.8" stroke="#000" stroke-width="2" fill="none"/>
<text x="1685.6" y="2201.8" font-size="31.4" fill="#000">500 msec</text>
<path d="M1130.2 654.8 V2172" stroke="#dd1a22" stroke-width="3" stroke-dasharray="18 19.47"/>
<path d="M1492.2 654.8 V2172" stroke="#dd1a22" stroke-width="3" stroke-dasharray="18 19.47"/>
<path d="M1082.8 444.2 L1130.2 566.5 V593.6" fill="none" stroke="#ff0000" stroke-width="6.2"/>
<path d="M1071.7 414.7 L1068 449.4 L1097.5 439 Z" fill="#ff0000"/>
<path d="M1130.2 626.2 L1117.1 592.6 L1143.4 595.5 Z" fill="#ff0000" stroke="#ff0000" stroke-width="2.5" stroke-linejoin="round"/>
<path d="M1527.1 476.6 L1492.2 565.9 V593.7" fill="none" stroke="#ff0000" stroke-width="6.2"/>
<path d="M1537.9 448 L1512.6 471.3 L1541.6 481.9 Z" fill="#ff0000"/>
<path d="M1492.2 624.8 L1479.4 592.7 L1504.7 595.7 Z" fill="#ff0000" stroke="#ff0000" stroke-width="2.5" stroke-linejoin="round"/>
<text x="1136.2" y="529.7" font-size="59.3" fill="#ff0000">k.o.</text>
<text x="1547.2" y="549.7" font-size="59.3" fill="#ff0000">k.o.</text>
<path d="M1117.8 1224.1 L1142.8 1249.1 M1117.8 1249.1 L1142.8 1224.1" stroke="#ff0000" stroke-width="5.5"/>
<path d="M1117.8 1266.5 L1142.8 1291.5 M1117.8 1291.5 L1142.8 1266.5" stroke="#ff0000" stroke-width="5.5"/>
<path d="M1117.8 1309.1 L1142.8 1334.1 M1117.8 1334.1 L1142.8 1309.1" stroke="#ff0000" stroke-width="5.5"/>
<path d="M1117.8 1351.5 L1142.8 1376.5 M1117.8 1376.5 L1142.8 1351.5" stroke="#ff0000" stroke-width="5.5"/>
<path d="M1117.8 1394.1 L1142.8 1419.1 M1117.8 1419.1 L1142.8 1394.1" stroke="#ff0000" stroke-width="5.5"/>
<path d="M1117.8 1436.5 L1142.8 1461.5 M1117.8 1461.5 L1142.8 1436.5" stroke="#ff0000" stroke-width="5.5"/>
<path d="M1117.8 1479.1 L1142.8 1504.1 M1117.8 1504.1 L1142.8 1479.1" stroke="#ff0000" stroke-width="5.5"/>
<path d="M1117.8 1521.5 L1142.8 1546.5 M1117.8 1546.5 L1142.8 1521.5" stroke="#ff0000" stroke-width="5.5"/>
<path d="M1479.3 976.5 L1504.3 1001.5 M1479.3 1001.5 L1504.3 976.5" stroke="#ff0000" stroke-width="5.5"/>
<path d="M1479.3 1012.5 L1504.3 1037.5 M1479.3 1037.5 L1504.3 1012.5" stroke="#ff0000" stroke-width="5.5"/>
</svg></body></html>
